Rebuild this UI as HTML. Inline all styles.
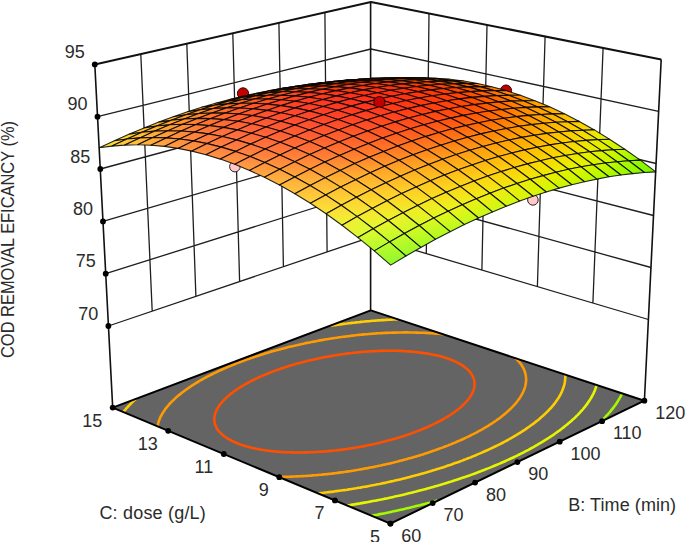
<!DOCTYPE html><html><head><meta charset="utf-8"><style>html,body{margin:0;padding:0;background:#fff;overflow:hidden}svg{display:block}</style></head><body><svg width="685" height="542" viewBox="0 0 685 542"><style>.e{fill:none;stroke:#000;stroke-opacity:.85;stroke-width:1.1;stroke-linejoin:round}</style><defs><linearGradient id="g1" gradientUnits="userSpaceOnUse" x1="371" y1="80.3" x2="371.1" y2="82.6"><stop offset="0" stop-color="#fad500"/><stop offset="1" stop-color="#e6f500"/></linearGradient><linearGradient id="g2" gradientUnits="userSpaceOnUse" x1="383.9" y1="78.8" x2="384" y2="80.5"><stop offset="0" stop-color="#ffc200"/><stop offset="1" stop-color="#f4e200"/></linearGradient><linearGradient id="g3" gradientUnits="userSpaceOnUse" x1="358.8" y1="80.5" x2="359" y2="82.5"><stop offset="0" stop-color="#ffc800"/><stop offset="1" stop-color="#efe900"/></linearGradient><linearGradient id="g4" gradientUnits="userSpaceOnUse" x1="397" y1="77.8" x2="397" y2="78.9"><stop offset="0" stop-color="#ffaf00"/><stop offset="1" stop-color="#fed000"/></linearGradient><linearGradient id="g5" gradientUnits="userSpaceOnUse" x1="371.8" y1="78.9" x2="371.9" y2="80.3"><stop offset="0" stop-color="#ffb300"/><stop offset="1" stop-color="#fcd500"/></linearGradient><linearGradient id="g6" gradientUnits="userSpaceOnUse" x1="346.5" y1="80.9" x2="346.7" y2="82.6"><stop offset="0" stop-color="#ffbc00"/><stop offset="1" stop-color="#f7dd00"/></linearGradient><linearGradient id="g7" gradientUnits="userSpaceOnUse" x1="410.2" y1="77.6" x2="410.2" y2="78"><stop offset="0" stop-color="#ffa200"/><stop offset="1" stop-color="#ffbe00"/></linearGradient><linearGradient id="g8" gradientUnits="userSpaceOnUse" x1="384.9" y1="78" x2="384.9" y2="78.7"><stop offset="0" stop-color="#ffa100"/><stop offset="1" stop-color="#ffc100"/></linearGradient><linearGradient id="g9" gradientUnits="userSpaceOnUse" x1="334.1" y1="81.7" x2="334.2" y2="83.1"><stop offset="0" stop-color="#ffb000"/><stop offset="1" stop-color="#fdd200"/></linearGradient><linearGradient id="g10" gradientUnits="userSpaceOnUse" x1="359.5" y1="79.4" x2="359.6" y2="80.4"><stop offset="0" stop-color="#ffa600"/><stop offset="1" stop-color="#ffc800"/></linearGradient><linearGradient id="g11" gradientUnits="userSpaceOnUse" x1="423.6" y1="78" x2="423.6" y2="77.8"><stop offset="0" stop-color="#ff9200"/><stop offset="1" stop-color="#ffa700"/></linearGradient><linearGradient id="g12" gradientUnits="userSpaceOnUse" x1="398.1" y1="77.7" x2="398.1" y2="77.8"><stop offset="0" stop-color="#ff9c00"/><stop offset="1" stop-color="#ffa300"/></linearGradient><linearGradient id="g13" gradientUnits="userSpaceOnUse" x1="321.5" y1="82.9" x2="321.6" y2="83.9"><stop offset="0" stop-color="#ffa600"/><stop offset="1" stop-color="#ffc800"/></linearGradient><linearGradient id="g14" gradientUnits="userSpaceOnUse" x1="372.6" y1="78.5" x2="372.6" y2="78.8"><stop offset="0" stop-color="#ff9400"/><stop offset="1" stop-color="#ffb200"/></linearGradient><linearGradient id="g15" gradientUnits="userSpaceOnUse" x1="347.1" y1="80.2" x2="347.1" y2="80.9"><stop offset="0" stop-color="#ff9a00"/><stop offset="1" stop-color="#ffbb00"/></linearGradient><linearGradient id="g16" gradientUnits="userSpaceOnUse" x1="437.2" y1="79" x2="437.2" y2="78.2"><stop offset="0" stop-color="#ff8000"/><stop offset="1" stop-color="#ffa100"/></linearGradient><linearGradient id="g17" gradientUnits="userSpaceOnUse" x1="411.5" y1="78.2" x2="411.6" y2="77.6"><stop offset="0" stop-color="#ff7800"/><stop offset="1" stop-color="#ff9b00"/></linearGradient><linearGradient id="g18" gradientUnits="userSpaceOnUse" x1="385.9" y1="78.2" x2="385.9" y2="78"><stop offset="0" stop-color="#ff7900"/><stop offset="1" stop-color="#ff9700"/></linearGradient><linearGradient id="g19" gradientUnits="userSpaceOnUse" x1="308.8" y1="84.3" x2="308.8" y2="85"><stop offset="0" stop-color="#ff9e00"/><stop offset="1" stop-color="#ffbd00"/></linearGradient><linearGradient id="g20" gradientUnits="userSpaceOnUse" x1="360.2" y1="79.2" x2="360.2" y2="79.4"><stop offset="0" stop-color="#ff8d00"/><stop offset="1" stop-color="#ff9800"/></linearGradient><linearGradient id="g21" gradientUnits="userSpaceOnUse" x1="334.5" y1="81.3" x2="334.5" y2="81.7"><stop offset="0" stop-color="#ff9000"/><stop offset="1" stop-color="#ffaf00"/></linearGradient><linearGradient id="g22" gradientUnits="userSpaceOnUse" x1="450.8" y1="80.8" x2="451" y2="79.3"><stop offset="0" stop-color="#ff7600"/><stop offset="1" stop-color="#ff9700"/></linearGradient><linearGradient id="g23" gradientUnits="userSpaceOnUse" x1="425.1" y1="79.2" x2="425.2" y2="78"><stop offset="0" stop-color="#ff6900"/><stop offset="1" stop-color="#ff8c00"/></linearGradient><linearGradient id="g24" gradientUnits="userSpaceOnUse" x1="399.3" y1="78.7" x2="399.3" y2="77.7"><stop offset="0" stop-color="#ff6400"/><stop offset="1" stop-color="#ff8800"/></linearGradient><linearGradient id="g25" gradientUnits="userSpaceOnUse" x1="295.9" y1="86.2" x2="295.9" y2="86.5"><stop offset="0" stop-color="#ff9a03"/><stop offset="1" stop-color="#ffb400"/></linearGradient><linearGradient id="g26" gradientUnits="userSpaceOnUse" x1="373.5" y1="79.1" x2="373.4" y2="78.4"><stop offset="0" stop-color="#ff6500"/><stop offset="1" stop-color="#ff8a00"/></linearGradient><linearGradient id="g27" gradientUnits="userSpaceOnUse" x1="322.4" y1="85.1" x2="321" y2="80.6"><stop offset="0" stop-color="#ff860d"/><stop offset="1" stop-color="#ff9e00"/></linearGradient><linearGradient id="g28" gradientUnits="userSpaceOnUse" x1="347.6" y1="80.5" x2="347.6" y2="80.1"><stop offset="0" stop-color="#ff6f00"/><stop offset="1" stop-color="#ff9000"/></linearGradient><linearGradient id="g29" gradientUnits="userSpaceOnUse" x1="464.6" y1="83.2" x2="464.9" y2="81.2"><stop offset="0" stop-color="#ff7200"/><stop offset="1" stop-color="#ff8e00"/></linearGradient><linearGradient id="g30" gradientUnits="userSpaceOnUse" x1="438.8" y1="81" x2="438.9" y2="79.2"><stop offset="0" stop-color="#ff6100"/><stop offset="1" stop-color="#ff7f00"/></linearGradient><linearGradient id="g31" gradientUnits="userSpaceOnUse" x1="412.9" y1="79.8" x2="412.9" y2="78.2"><stop offset="0" stop-color="#ff5600"/><stop offset="1" stop-color="#ff7700"/></linearGradient><linearGradient id="g32" gradientUnits="userSpaceOnUse" x1="282.9" y1="88.9" x2="282.7" y2="87.9"><stop offset="0" stop-color="#ff9307"/><stop offset="1" stop-color="#ffaa05"/></linearGradient><linearGradient id="g33" gradientUnits="userSpaceOnUse" x1="386.9" y1="79.5" x2="386.9" y2="78.2"><stop offset="0" stop-color="#ff5300"/><stop offset="1" stop-color="#ff7500"/></linearGradient><linearGradient id="g34" gradientUnits="userSpaceOnUse" x1="308.8" y1="84.7" x2="308.8" y2="84.3"><stop offset="0" stop-color="#ff7707"/><stop offset="1" stop-color="#ff9601"/></linearGradient><linearGradient id="g35" gradientUnits="userSpaceOnUse" x1="360.9" y1="80.3" x2="360.8" y2="79.2"><stop offset="0" stop-color="#ff5601"/><stop offset="1" stop-color="#ff7a00"/></linearGradient><linearGradient id="g36" gradientUnits="userSpaceOnUse" x1="334.9" y1="82" x2="334.8" y2="81.3"><stop offset="0" stop-color="#ff6304"/><stop offset="1" stop-color="#ff8600"/></linearGradient><linearGradient id="g37" gradientUnits="userSpaceOnUse" x1="478.5" y1="86.3" x2="479.1" y2="83.8"><stop offset="0" stop-color="#ff7200"/><stop offset="1" stop-color="#ff8b00"/></linearGradient><linearGradient id="g38" gradientUnits="userSpaceOnUse" x1="452.6" y1="83.5" x2="452.9" y2="81.1"><stop offset="0" stop-color="#ff5d00"/><stop offset="1" stop-color="#ff7600"/></linearGradient><linearGradient id="g39" gradientUnits="userSpaceOnUse" x1="426.5" y1="81.6" x2="426.7" y2="79.4"><stop offset="0" stop-color="#ff4e00"/><stop offset="1" stop-color="#ff6900"/></linearGradient><linearGradient id="g40" gradientUnits="userSpaceOnUse" x1="400.5" y1="80.7" x2="400.5" y2="78.7"><stop offset="0" stop-color="#ff4700"/><stop offset="1" stop-color="#ff6300"/></linearGradient><linearGradient id="g41" gradientUnits="userSpaceOnUse" x1="269.6" y1="91" x2="269.5" y2="90.6"><stop offset="0" stop-color="#ff8c0d"/><stop offset="1" stop-color="#ffa708"/></linearGradient><linearGradient id="g42" gradientUnits="userSpaceOnUse" x1="374.3" y1="80.8" x2="374.3" y2="79"><stop offset="0" stop-color="#ff4802"/><stop offset="1" stop-color="#ff6300"/></linearGradient><linearGradient id="g43" gradientUnits="userSpaceOnUse" x1="295.8" y1="86.9" x2="295.7" y2="86.2"><stop offset="0" stop-color="#ff700b"/><stop offset="1" stop-color="#ff9105"/></linearGradient><linearGradient id="g44" gradientUnits="userSpaceOnUse" x1="348.2" y1="81.8" x2="348" y2="80.4"><stop offset="0" stop-color="#ff4f06"/><stop offset="1" stop-color="#ff6c00"/></linearGradient><linearGradient id="g45" gradientUnits="userSpaceOnUse" x1="322" y1="83.9" x2="321.8" y2="82.8"><stop offset="0" stop-color="#ff5c09"/><stop offset="1" stop-color="#ff7c03"/></linearGradient><linearGradient id="g46" gradientUnits="userSpaceOnUse" x1="492.2" y1="90.8" x2="493.7" y2="86.4"><stop offset="0" stop-color="#ff7300"/><stop offset="1" stop-color="#ff9000"/></linearGradient><linearGradient id="g47" gradientUnits="userSpaceOnUse" x1="466.4" y1="86.6" x2="467.2" y2="83.6"><stop offset="0" stop-color="#ff5d00"/><stop offset="1" stop-color="#ff7300"/></linearGradient><linearGradient id="g48" gradientUnits="userSpaceOnUse" x1="440.3" y1="84.1" x2="440.8" y2="81.3"><stop offset="0" stop-color="#ff4b00"/><stop offset="1" stop-color="#ff6000"/></linearGradient><linearGradient id="g49" gradientUnits="userSpaceOnUse" x1="414.2" y1="82.5" x2="414.3" y2="79.9"><stop offset="0" stop-color="#ff4100"/><stop offset="1" stop-color="#ff5600"/></linearGradient><linearGradient id="g50" gradientUnits="userSpaceOnUse" x1="256.2" y1="93.9" x2="256.1" y2="93.2"><stop offset="0" stop-color="#ff8912"/><stop offset="1" stop-color="#ffa80b"/></linearGradient><linearGradient id="g51" gradientUnits="userSpaceOnUse" x1="387.9" y1="81.9" x2="387.9" y2="79.5"><stop offset="0" stop-color="#ff4003"/><stop offset="1" stop-color="#ff5200"/></linearGradient><linearGradient id="g52" gradientUnits="userSpaceOnUse" x1="282.6" y1="89.5" x2="282.4" y2="88.5"><stop offset="0" stop-color="#ff6d10"/><stop offset="1" stop-color="#ff8d09"/></linearGradient><linearGradient id="g53" gradientUnits="userSpaceOnUse" x1="361.6" y1="82.3" x2="361.5" y2="80.2"><stop offset="0" stop-color="#ff4307"/><stop offset="1" stop-color="#ff5601"/></linearGradient><linearGradient id="g54" gradientUnits="userSpaceOnUse" x1="308.9" y1="86.1" x2="308.7" y2="84.7"><stop offset="0" stop-color="#ff580d"/><stop offset="1" stop-color="#ff7507"/></linearGradient><linearGradient id="g55" gradientUnits="userSpaceOnUse" x1="335.3" y1="83.7" x2="335.1" y2="82"><stop offset="0" stop-color="#ff4b0b"/><stop offset="1" stop-color="#ff6204"/></linearGradient><linearGradient id="g56" gradientUnits="userSpaceOnUse" x1="505.6" y1="96.3" x2="509" y2="89.6"><stop offset="0" stop-color="#ff7800"/><stop offset="1" stop-color="#ff9a00"/></linearGradient><linearGradient id="g57" gradientUnits="userSpaceOnUse" x1="480.1" y1="91.3" x2="481.9" y2="86.2"><stop offset="0" stop-color="#ff5d00"/><stop offset="1" stop-color="#ff7800"/></linearGradient><linearGradient id="g58" gradientUnits="userSpaceOnUse" x1="454.2" y1="87.3" x2="455" y2="83.8"><stop offset="0" stop-color="#ff4b00"/><stop offset="1" stop-color="#ff5d00"/></linearGradient><linearGradient id="g59" gradientUnits="userSpaceOnUse" x1="428" y1="85" x2="428.4" y2="81.8"><stop offset="0" stop-color="#ff3f00"/><stop offset="1" stop-color="#ff4e00"/></linearGradient><linearGradient id="g60" gradientUnits="userSpaceOnUse" x1="242.7" y1="97.3" x2="242.5" y2="96.2"><stop offset="0" stop-color="#ff8916"/><stop offset="1" stop-color="#ffa90f"/></linearGradient><linearGradient id="g61" gradientUnits="userSpaceOnUse" x1="401.6" y1="83.8" x2="401.7" y2="80.7"><stop offset="0" stop-color="#ff3a04"/><stop offset="1" stop-color="#ff4800"/></linearGradient><linearGradient id="g62" gradientUnits="userSpaceOnUse" x1="269.2" y1="92.5" x2="268.9" y2="91.1"><stop offset="0" stop-color="#ff6d14"/><stop offset="1" stop-color="#ff8a0e"/></linearGradient><linearGradient id="g63" gradientUnits="userSpaceOnUse" x1="375.2" y1="83.6" x2="375.1" y2="80.7"><stop offset="0" stop-color="#ff3b08"/><stop offset="1" stop-color="#ff4902"/></linearGradient><linearGradient id="g64" gradientUnits="userSpaceOnUse" x1="295.7" y1="88.7" x2="295.4" y2="87"><stop offset="0" stop-color="#ff5712"/><stop offset="1" stop-color="#ff6f0c"/></linearGradient><linearGradient id="g65" gradientUnits="userSpaceOnUse" x1="348.8" y1="84.3" x2="348.5" y2="81.8"><stop offset="0" stop-color="#ff400c"/><stop offset="1" stop-color="#ff4f06"/></linearGradient><linearGradient id="g66" gradientUnits="userSpaceOnUse" x1="322.3" y1="86" x2="321.9" y2="83.9"><stop offset="0" stop-color="#ff490f"/><stop offset="1" stop-color="#ff5b09"/></linearGradient><linearGradient id="g67" gradientUnits="userSpaceOnUse" x1="518.6" y1="102.4" x2="524.9" y2="93.5"><stop offset="0" stop-color="#ff8300"/><stop offset="1" stop-color="#ffa500"/></linearGradient><linearGradient id="g68" gradientUnits="userSpaceOnUse" x1="493.2" y1="97" x2="497.5" y2="89.1"><stop offset="0" stop-color="#ff6300"/><stop offset="1" stop-color="#ff8200"/></linearGradient><linearGradient id="g69" gradientUnits="userSpaceOnUse" x1="467.8" y1="92.1" x2="469.9" y2="86.3"><stop offset="0" stop-color="#ff4b00"/><stop offset="1" stop-color="#ff6200"/></linearGradient><linearGradient id="g70" gradientUnits="userSpaceOnUse" x1="441.8" y1="88.3" x2="442.8" y2="84.4"><stop offset="0" stop-color="#ff3f00"/><stop offset="1" stop-color="#ff4c00"/></linearGradient><linearGradient id="g71" gradientUnits="userSpaceOnUse" x1="415.4" y1="86.4" x2="415.8" y2="82.7"><stop offset="0" stop-color="#ff3805"/><stop offset="1" stop-color="#ff4200"/></linearGradient><linearGradient id="g72" gradientUnits="userSpaceOnUse" x1="229.1" y1="101.1" x2="228.6" y2="99.5"><stop offset="0" stop-color="#ff8a1b"/><stop offset="1" stop-color="#ffac13"/></linearGradient><linearGradient id="g73" gradientUnits="userSpaceOnUse" x1="389" y1="85.5" x2="389" y2="81.9"><stop offset="0" stop-color="#ff3609"/><stop offset="1" stop-color="#ff4003"/></linearGradient><linearGradient id="g74" gradientUnits="userSpaceOnUse" x1="255.7" y1="96" x2="255.2" y2="94"><stop offset="0" stop-color="#ff6d19"/><stop offset="1" stop-color="#ff8c12"/></linearGradient><linearGradient id="g75" gradientUnits="userSpaceOnUse" x1="362.4" y1="85.5" x2="362.1" y2="82.3"><stop offset="0" stop-color="#ff380d"/><stop offset="1" stop-color="#ff4407"/></linearGradient><linearGradient id="g76" gradientUnits="userSpaceOnUse" x1="282.4" y1="91.8" x2="281.9" y2="89.5"><stop offset="0" stop-color="#ff5717"/><stop offset="1" stop-color="#ff6e10"/></linearGradient><linearGradient id="g77" gradientUnits="userSpaceOnUse" x1="335.8" y1="86.6" x2="335.3" y2="83.7"><stop offset="0" stop-color="#ff3f11"/><stop offset="1" stop-color="#ff4c0b"/></linearGradient><linearGradient id="g78" gradientUnits="userSpaceOnUse" x1="309.1" y1="88.7" x2="308.6" y2="86.1"><stop offset="0" stop-color="#ff4914"/><stop offset="1" stop-color="#ff580d"/></linearGradient><linearGradient id="g79" gradientUnits="userSpaceOnUse" x1="529.5" y1="109" x2="543.3" y2="98.5"><stop offset="0" stop-color="#ff9200"/><stop offset="1" stop-color="#ffb200"/></linearGradient><linearGradient id="g80" gradientUnits="userSpaceOnUse" x1="505" y1="103.4" x2="514.7" y2="92.9"><stop offset="0" stop-color="#ff6d00"/><stop offset="1" stop-color="#ff9100"/></linearGradient><linearGradient id="g81" gradientUnits="userSpaceOnUse" x1="480.2" y1="98.3" x2="486.2" y2="89"><stop offset="0" stop-color="#ff5000"/><stop offset="1" stop-color="#ff6d00"/></linearGradient><linearGradient id="g82" gradientUnits="userSpaceOnUse" x1="455" y1="93.6" x2="458" y2="86.5"><stop offset="0" stop-color="#ff4000"/><stop offset="1" stop-color="#ff5000"/></linearGradient><linearGradient id="g83" gradientUnits="userSpaceOnUse" x1="429.1" y1="90" x2="430.4" y2="85.1"><stop offset="0" stop-color="#ff3805"/><stop offset="1" stop-color="#ff4000"/></linearGradient><linearGradient id="g84" gradientUnits="userSpaceOnUse" x1="215.4" y1="105.4" x2="214.6" y2="103.1"><stop offset="0" stop-color="#ff8e20"/><stop offset="1" stop-color="#ffb017"/></linearGradient><linearGradient id="g85" gradientUnits="userSpaceOnUse" x1="540.7" y1="114.3" x2="561.6" y2="106.4"><stop offset="0" stop-color="#ffa100"/><stop offset="1" stop-color="#ffc100"/></linearGradient><linearGradient id="g86" gradientUnits="userSpaceOnUse" x1="402.8" y1="88.1" x2="403.1" y2="83.9"><stop offset="0" stop-color="#ff330a"/><stop offset="1" stop-color="#ff3b04"/></linearGradient><linearGradient id="g87" gradientUnits="userSpaceOnUse" x1="242.2" y1="99.9" x2="241.3" y2="97.2"><stop offset="0" stop-color="#ff6f1e"/><stop offset="1" stop-color="#ff8f15"/></linearGradient><linearGradient id="g88" gradientUnits="userSpaceOnUse" x1="376.2" y1="87.5" x2="376" y2="83.5"><stop offset="0" stop-color="#ff330e"/><stop offset="1" stop-color="#ff3b08"/></linearGradient><linearGradient id="g89" gradientUnits="userSpaceOnUse" x1="269" y1="95.5" x2="268.1" y2="92.3"><stop offset="0" stop-color="#ff571b"/><stop offset="1" stop-color="#ff7013"/></linearGradient><linearGradient id="g90" gradientUnits="userSpaceOnUse" x1="349.5" y1="87.9" x2="348.9" y2="84.3"><stop offset="0" stop-color="#ff3712"/><stop offset="1" stop-color="#ff400c"/></linearGradient><linearGradient id="g91" gradientUnits="userSpaceOnUse" x1="295.9" y1="92.1" x2="294.9" y2="88.4"><stop offset="0" stop-color="#ff4919"/><stop offset="1" stop-color="#ff5a11"/></linearGradient><linearGradient id="g92" gradientUnits="userSpaceOnUse" x1="322.7" y1="89.5" x2="321.9" y2="85.8"><stop offset="0" stop-color="#ff3e15"/><stop offset="1" stop-color="#ff4b0f"/></linearGradient><linearGradient id="g93" gradientUnits="userSpaceOnUse" x1="515.7" y1="109.1" x2="533.3" y2="99"><stop offset="0" stop-color="#ff7c00"/><stop offset="1" stop-color="#ffa200"/></linearGradient><linearGradient id="g94" gradientUnits="userSpaceOnUse" x1="491" y1="104.4" x2="504.5" y2="93.2"><stop offset="0" stop-color="#ff5a00"/><stop offset="1" stop-color="#ff7c00"/></linearGradient><linearGradient id="g95" gradientUnits="userSpaceOnUse" x1="466.2" y1="100.1" x2="475.7" y2="88.9"><stop offset="0" stop-color="#ff4300"/><stop offset="1" stop-color="#ff5900"/></linearGradient><linearGradient id="g96" gradientUnits="userSpaceOnUse" x1="439.2" y1="97.1" x2="448.8" y2="85.5"><stop offset="0" stop-color="#ff3809"/><stop offset="1" stop-color="#ff4400"/></linearGradient><linearGradient id="g97" gradientUnits="userSpaceOnUse" x1="552.7" y1="118" x2="579.2" y2="117.4"><stop offset="0" stop-color="#ffb100"/><stop offset="1" stop-color="#fcd300"/></linearGradient><linearGradient id="g98" gradientUnits="userSpaceOnUse" x1="201.5" y1="110.1" x2="200.4" y2="107"><stop offset="0" stop-color="#ff9424"/><stop offset="1" stop-color="#ffb51a"/></linearGradient><linearGradient id="g99" gradientUnits="userSpaceOnUse" x1="416.1" y1="92.1" x2="418" y2="85.9"><stop offset="0" stop-color="#ff330b"/><stop offset="1" stop-color="#ff3904"/></linearGradient><linearGradient id="g100" gradientUnits="userSpaceOnUse" x1="228.5" y1="104.3" x2="227.2" y2="100.7"><stop offset="0" stop-color="#ff7222"/><stop offset="1" stop-color="#ff9519"/></linearGradient><linearGradient id="g101" gradientUnits="userSpaceOnUse" x1="390" y1="90.2" x2="390.1" y2="85.5"><stop offset="0" stop-color="#ff300e"/><stop offset="1" stop-color="#ff3609"/></linearGradient><linearGradient id="g102" gradientUnits="userSpaceOnUse" x1="526.9" y1="112.9" x2="551.6" y2="108.4"><stop offset="0" stop-color="#ff9000"/><stop offset="1" stop-color="#ffb200"/></linearGradient><linearGradient id="g103" gradientUnits="userSpaceOnUse" x1="255.5" y1="99.6" x2="254.1" y2="95.4"><stop offset="0" stop-color="#ff5a20"/><stop offset="1" stop-color="#ff7417"/></linearGradient><linearGradient id="g104" gradientUnits="userSpaceOnUse" x1="363.3" y1="89.9" x2="362.7" y2="85.5"><stop offset="0" stop-color="#ff3212"/><stop offset="1" stop-color="#ff380d"/></linearGradient><linearGradient id="g105" gradientUnits="userSpaceOnUse" x1="282.7" y1="96.1" x2="280.9" y2="90.9"><stop offset="0" stop-color="#ff4a1e"/><stop offset="1" stop-color="#ff5c14"/></linearGradient><linearGradient id="g106" gradientUnits="userSpaceOnUse" x1="336.6" y1="91.2" x2="335.3" y2="86"><stop offset="0" stop-color="#ff3617"/><stop offset="1" stop-color="#ff4010"/></linearGradient><linearGradient id="g107" gradientUnits="userSpaceOnUse" x1="309.7" y1="93.2" x2="308" y2="87.8"><stop offset="0" stop-color="#ff3e1b"/><stop offset="1" stop-color="#ff4c12"/></linearGradient><linearGradient id="g108" gradientUnits="userSpaceOnUse" x1="500.8" y1="108.1" x2="524" y2="101.2"><stop offset="0" stop-color="#ff6900"/><stop offset="1" stop-color="#ff8f00"/></linearGradient><linearGradient id="g109" gradientUnits="userSpaceOnUse" x1="476" y1="104.8" x2="495" y2="94.6"><stop offset="0" stop-color="#ff4b00"/><stop offset="1" stop-color="#ff6800"/></linearGradient><linearGradient id="g110" gradientUnits="userSpaceOnUse" x1="567.4" y1="124.6" x2="594.6" y2="127"><stop offset="0" stop-color="#ffc500"/><stop offset="1" stop-color="#f2e500"/></linearGradient><linearGradient id="g111" gradientUnits="userSpaceOnUse" x1="445" y1="96.2" x2="471.9" y2="95.3"><stop offset="0" stop-color="#ff3c06"/><stop offset="1" stop-color="#ff4b00"/></linearGradient><linearGradient id="g112" gradientUnits="userSpaceOnUse" x1="419.4" y1="96.7" x2="443.3" y2="89"><stop offset="0" stop-color="#ff330d"/><stop offset="1" stop-color="#ff3d01"/></linearGradient><linearGradient id="g113" gradientUnits="userSpaceOnUse" x1="187.6" y1="115.4" x2="185.8" y2="111.2"><stop offset="0" stop-color="#ff9b29"/><stop offset="1" stop-color="#ffbc1d"/></linearGradient><linearGradient id="g114" gradientUnits="userSpaceOnUse" x1="540.5" y1="115.9" x2="567.8" y2="120.3"><stop offset="0" stop-color="#ffa300"/><stop offset="1" stop-color="#ffc400"/></linearGradient><linearGradient id="g115" gradientUnits="userSpaceOnUse" x1="402" y1="95.6" x2="406.4" y2="86.3"><stop offset="0" stop-color="#ff3011"/><stop offset="1" stop-color="#ff3507"/></linearGradient><linearGradient id="g116" gradientUnits="userSpaceOnUse" x1="214.7" y1="109.2" x2="212.8" y2="104.6"><stop offset="0" stop-color="#ff7827"/><stop offset="1" stop-color="#ff9c1c"/></linearGradient><linearGradient id="g117" gradientUnits="userSpaceOnUse" x1="377.4" y1="92.7" x2="376.6" y2="87.5"><stop offset="0" stop-color="#ff2f13"/><stop offset="1" stop-color="#ff330e"/></linearGradient><linearGradient id="g118" gradientUnits="userSpaceOnUse" x1="242" y1="104.2" x2="239.8" y2="98.8"><stop offset="0" stop-color="#ff5e25"/><stop offset="1" stop-color="#ff7a1b"/></linearGradient><linearGradient id="g119" gradientUnits="userSpaceOnUse" x1="351.1" y1="94.2" x2="348.4" y2="86.4"><stop offset="0" stop-color="#ff3018"/><stop offset="1" stop-color="#ff3810"/></linearGradient><linearGradient id="g120" gradientUnits="userSpaceOnUse" x1="269.6" y1="100.6" x2="266.5" y2="93.6"><stop offset="0" stop-color="#ff4d23"/><stop offset="1" stop-color="#ff6118"/></linearGradient><linearGradient id="g121" gradientUnits="userSpaceOnUse" x1="513.6" y1="109.3" x2="540.9" y2="113.4"><stop offset="0" stop-color="#ff7d00"/><stop offset="1" stop-color="#ffa400"/></linearGradient><linearGradient id="g122" gradientUnits="userSpaceOnUse" x1="324.3" y1="95.6" x2="320.8" y2="87.4"><stop offset="0" stop-color="#ff361d"/><stop offset="1" stop-color="#ff4213"/></linearGradient><linearGradient id="g123" gradientUnits="userSpaceOnUse" x1="297" y1="97.7" x2="293.6" y2="89.9"><stop offset="0" stop-color="#ff3f20"/><stop offset="1" stop-color="#ff4f15"/></linearGradient><linearGradient id="g124" gradientUnits="userSpaceOnUse" x1="486.7" y1="105.8" x2="513.7" y2="105.5"><stop offset="0" stop-color="#ff5800"/><stop offset="1" stop-color="#ff7c00"/></linearGradient><linearGradient id="g125" gradientUnits="userSpaceOnUse" x1="585.3" y1="126.7" x2="607" y2="142.7"><stop offset="0" stop-color="#f8da00"/><stop offset="1" stop-color="#e2f600"/></linearGradient><linearGradient id="g126" gradientUnits="userSpaceOnUse" x1="460.7" y1="95.8" x2="485.3" y2="106.2"><stop offset="0" stop-color="#ff4302"/><stop offset="1" stop-color="#ff5702"/></linearGradient><linearGradient id="g127" gradientUnits="userSpaceOnUse" x1="557.7" y1="119.2" x2="580.8" y2="133.4"><stop offset="0" stop-color="#ffb800"/><stop offset="1" stop-color="#fbd800"/></linearGradient><linearGradient id="g128" gradientUnits="userSpaceOnUse" x1="437.8" y1="89.8" x2="453.8" y2="104.9"><stop offset="0" stop-color="#ff3904"/><stop offset="1" stop-color="#ff430a"/></linearGradient><linearGradient id="g129" gradientUnits="userSpaceOnUse" x1="173.7" y1="121.1" x2="170.9" y2="115.8"><stop offset="0" stop-color="#ffa32d"/><stop offset="1" stop-color="#ffc320"/></linearGradient><linearGradient id="g130" gradientUnits="userSpaceOnUse" x1="412.5" y1="87.4" x2="424.5" y2="102.1"><stop offset="0" stop-color="#ff3308"/><stop offset="1" stop-color="#ff3710"/></linearGradient><linearGradient id="g131" gradientUnits="userSpaceOnUse" x1="200.9" y1="114.5" x2="198.2" y2="108.8"><stop offset="0" stop-color="#ff802b"/><stop offset="1" stop-color="#ffa520"/></linearGradient><linearGradient id="g132" gradientUnits="userSpaceOnUse" x1="529" y1="114.3" x2="555.4" y2="123.4"><stop offset="0" stop-color="#ff9500"/><stop offset="1" stop-color="#ffb700"/></linearGradient><linearGradient id="g133" gradientUnits="userSpaceOnUse" x1="389.6" y1="88.6" x2="392.7" y2="97.8"><stop offset="0" stop-color="#ff310d"/><stop offset="1" stop-color="#ff3014"/></linearGradient><linearGradient id="g134" gradientUnits="userSpaceOnUse" x1="228.4" y1="109.1" x2="225.2" y2="102.6"><stop offset="0" stop-color="#ff632a"/><stop offset="1" stop-color="#ff821e"/></linearGradient><linearGradient id="g135" gradientUnits="userSpaceOnUse" x1="373.5" y1="98.9" x2="354" y2="86.5"><stop offset="0" stop-color="#ff2e19"/><stop offset="1" stop-color="#ff3311"/></linearGradient><linearGradient id="g136" gradientUnits="userSpaceOnUse" x1="256.8" y1="105.6" x2="251.5" y2="96.7"><stop offset="0" stop-color="#ff5128"/><stop offset="1" stop-color="#ff661b"/></linearGradient><linearGradient id="g137" gradientUnits="userSpaceOnUse" x1="342.4" y1="99.8" x2="330.3" y2="86.7"><stop offset="0" stop-color="#ff311f"/><stop offset="1" stop-color="#ff3a13"/></linearGradient><linearGradient id="g138" gradientUnits="userSpaceOnUse" x1="615.1" y1="153.3" x2="607.7" y2="135.5"><stop offset="0" stop-color="#c6f600"/><stop offset="1" stop-color="#e5f300"/></linearGradient><linearGradient id="g139" gradientUnits="userSpaceOnUse" x1="285" y1="102.7" x2="278.1" y2="92.3"><stop offset="0" stop-color="#ff4226"/><stop offset="1" stop-color="#ff5419"/></linearGradient><linearGradient id="g140" gradientUnits="userSpaceOnUse" x1="313.4" y1="100.7" x2="304.5" y2="88.9"><stop offset="0" stop-color="#ff3723"/><stop offset="1" stop-color="#ff4516"/></linearGradient><linearGradient id="g141" gradientUnits="userSpaceOnUse" x1="502.1" y1="107.6" x2="528" y2="117.2"><stop offset="0" stop-color="#ff6c00"/><stop offset="1" stop-color="#ff9500"/></linearGradient><linearGradient id="g142" gradientUnits="userSpaceOnUse" x1="477.3" y1="99.9" x2="498.3" y2="114.1"><stop offset="0" stop-color="#ff4d01"/><stop offset="1" stop-color="#ff6b02"/></linearGradient><linearGradient id="g143" gradientUnits="userSpaceOnUse" x1="572.6" y1="128.1" x2="596.3" y2="142.4"><stop offset="0" stop-color="#ffcd00"/><stop offset="1" stop-color="#ebec00"/></linearGradient><linearGradient id="g144" gradientUnits="userSpaceOnUse" x1="455.6" y1="95.1" x2="465.2" y2="110.2"><stop offset="0" stop-color="#ff4003"/><stop offset="1" stop-color="#ff4d09"/></linearGradient><linearGradient id="g145" gradientUnits="userSpaceOnUse" x1="545.9" y1="119.8" x2="568.7" y2="134.4"><stop offset="0" stop-color="#ffaa00"/><stop offset="1" stop-color="#ffcd00"/></linearGradient><linearGradient id="g146" gradientUnits="userSpaceOnUse" x1="430.2" y1="93.1" x2="435.7" y2="105.6"><stop offset="0" stop-color="#ff3608"/><stop offset="1" stop-color="#ff3e0f"/></linearGradient><linearGradient id="g147" gradientUnits="userSpaceOnUse" x1="159.6" y1="127.1" x2="156" y2="121"><stop offset="0" stop-color="#ffac31"/><stop offset="1" stop-color="#ffca24"/></linearGradient><linearGradient id="g148" gradientUnits="userSpaceOnUse" x1="638.5" y1="162.8" x2="615" y2="147.2"><stop offset="0" stop-color="#94fa00"/><stop offset="1" stop-color="#cef700"/></linearGradient><linearGradient id="g149" gradientUnits="userSpaceOnUse" x1="404.7" y1="93.3" x2="406.3" y2="100.8"><stop offset="0" stop-color="#ff310e"/><stop offset="1" stop-color="#ff3413"/></linearGradient><linearGradient id="g150" gradientUnits="userSpaceOnUse" x1="187" y1="120.2" x2="183.3" y2="113.5"><stop offset="0" stop-color="#ff8a30"/><stop offset="1" stop-color="#ffaf23"/></linearGradient><linearGradient id="g151" gradientUnits="userSpaceOnUse" x1="378.2" y1="92.8" x2="377.7" y2="99"><stop offset="0" stop-color="#ff2f13"/><stop offset="1" stop-color="#ff3117"/></linearGradient><linearGradient id="g152" gradientUnits="userSpaceOnUse" x1="215.1" y1="114.8" x2="210.1" y2="106.7"><stop offset="0" stop-color="#ff6a2e"/><stop offset="1" stop-color="#ff8c21"/></linearGradient><linearGradient id="g153" gradientUnits="userSpaceOnUse" x1="519" y1="112.7" x2="541.1" y2="127.2"><stop offset="0" stop-color="#ff8600"/><stop offset="1" stop-color="#ffac00"/></linearGradient><linearGradient id="g154" gradientUnits="userSpaceOnUse" x1="356.2" y1="88.8" x2="344.5" y2="102.6"><stop offset="0" stop-color="#ff3113"/><stop offset="1" stop-color="#ff3320"/></linearGradient><linearGradient id="g155" gradientUnits="userSpaceOnUse" x1="244.6" y1="111" x2="235.6" y2="100.2"><stop offset="0" stop-color="#ff562d"/><stop offset="1" stop-color="#ff6d1e"/></linearGradient><linearGradient id="g156" gradientUnits="userSpaceOnUse" x1="336.6" y1="96.7" x2="309" y2="96.5"><stop offset="0" stop-color="#ff341c"/><stop offset="1" stop-color="#ff3d1e"/></linearGradient><linearGradient id="g157" gradientUnits="userSpaceOnUse" x1="274" y1="107.6" x2="261.2" y2="95.5"><stop offset="0" stop-color="#ff472b"/><stop offset="1" stop-color="#ff5a1c"/></linearGradient><linearGradient id="g158" gradientUnits="userSpaceOnUse" x1="305" y1="104.2" x2="285.3" y2="92.9"><stop offset="0" stop-color="#ff3b26"/><stop offset="1" stop-color="#ff4a1b"/></linearGradient><linearGradient id="g159" gradientUnits="userSpaceOnUse" x1="599.4" y1="139.5" x2="600.1" y2="150.7"><stop offset="0" stop-color="#e8ec00"/><stop offset="1" stop-color="#e0f300"/></linearGradient><linearGradient id="g160" gradientUnits="userSpaceOnUse" x1="492.9" y1="106.1" x2="512.4" y2="121.6"><stop offset="0" stop-color="#ff5f01"/><stop offset="1" stop-color="#ff8401"/></linearGradient><linearGradient id="g161" gradientUnits="userSpaceOnUse" x1="470.2" y1="100.9" x2="480.2" y2="116.6"><stop offset="0" stop-color="#ff4903"/><stop offset="1" stop-color="#ff5d07"/></linearGradient><linearGradient id="g162" gradientUnits="userSpaceOnUse" x1="560" y1="129.8" x2="585" y2="142.6"><stop offset="0" stop-color="#ffc100"/><stop offset="1" stop-color="#f3e200"/></linearGradient><linearGradient id="g163" gradientUnits="userSpaceOnUse" x1="653.2" y1="175.1" x2="631.4" y2="157.5"><stop offset="0" stop-color="#73f500"/><stop offset="1" stop-color="#a5fa00"/></linearGradient><linearGradient id="g164" gradientUnits="userSpaceOnUse" x1="445.4" y1="98.7" x2="449.9" y2="110.8"><stop offset="0" stop-color="#ff3d08"/><stop offset="1" stop-color="#ff480d"/></linearGradient><linearGradient id="g165" gradientUnits="userSpaceOnUse" x1="145.4" y1="133.6" x2="140.7" y2="126.5"><stop offset="0" stop-color="#ffb535"/><stop offset="1" stop-color="#ffd427"/></linearGradient><linearGradient id="g166" gradientUnits="userSpaceOnUse" x1="419.1" y1="97.6" x2="420.9" y2="105.8"><stop offset="0" stop-color="#ff350e"/><stop offset="1" stop-color="#ff3b12"/></linearGradient><linearGradient id="g167" gradientUnits="userSpaceOnUse" x1="535.6" y1="119.9" x2="554.7" y2="136.7"><stop offset="0" stop-color="#ff9f00"/><stop offset="1" stop-color="#ffc000"/></linearGradient><linearGradient id="g168" gradientUnits="userSpaceOnUse" x1="173.2" y1="126.4" x2="168" y2="118.6"><stop offset="0" stop-color="#ff9634"/><stop offset="1" stop-color="#ffb927"/></linearGradient><linearGradient id="g169" gradientUnits="userSpaceOnUse" x1="392.1" y1="96.2" x2="392.5" y2="103.5"><stop offset="0" stop-color="#ff3013"/><stop offset="1" stop-color="#ff3517"/></linearGradient><linearGradient id="g170" gradientUnits="userSpaceOnUse" x1="201.7" y1="120.7" x2="194.6" y2="111.2"><stop offset="0" stop-color="#ff7433"/><stop offset="1" stop-color="#ff9725"/></linearGradient><linearGradient id="g171" gradientUnits="userSpaceOnUse" x1="625.3" y1="164.6" x2="605" y2="146.7"><stop offset="0" stop-color="#a5fa00"/><stop offset="1" stop-color="#e1f500"/></linearGradient><linearGradient id="g172" gradientUnits="userSpaceOnUse" x1="365" y1="95.7" x2="364.1" y2="102.3"><stop offset="0" stop-color="#ff3017"/><stop offset="1" stop-color="#ff331c"/></linearGradient><linearGradient id="g173" gradientUnits="userSpaceOnUse" x1="232.7" y1="116.3" x2="218.9" y2="104.7"><stop offset="0" stop-color="#ff5d31"/><stop offset="1" stop-color="#ff7722"/></linearGradient><linearGradient id="g174" gradientUnits="userSpaceOnUse" x1="339.7" y1="93.3" x2="333.9" y2="104.9"><stop offset="0" stop-color="#ff3319"/><stop offset="1" stop-color="#ff3722"/></linearGradient><linearGradient id="g175" gradientUnits="userSpaceOnUse" x1="509.6" y1="112.9" x2="525.8" y2="130"><stop offset="0" stop-color="#ff7700"/><stop offset="1" stop-color="#ffa000"/></linearGradient><linearGradient id="g176" gradientUnits="userSpaceOnUse" x1="263.9" y1="111.1" x2="243.1" y2="101"><stop offset="0" stop-color="#ff4d2d"/><stop offset="1" stop-color="#ff6122"/></linearGradient><linearGradient id="g177" gradientUnits="userSpaceOnUse" x1="318.8" y1="93.6" x2="299.2" y2="107.2"><stop offset="0" stop-color="#ff391b"/><stop offset="1" stop-color="#ff4028"/></linearGradient><linearGradient id="g178" gradientUnits="userSpaceOnUse" x1="295.1" y1="102.9" x2="267.4" y2="102.5"><stop offset="0" stop-color="#ff4125"/><stop offset="1" stop-color="#ff4f25"/></linearGradient><linearGradient id="g179" gradientUnits="userSpaceOnUse" x1="581.6" y1="136.6" x2="594.1" y2="155.5"><stop offset="0" stop-color="#f7da00"/><stop offset="1" stop-color="#e4f500"/></linearGradient><linearGradient id="g180" gradientUnits="userSpaceOnUse" x1="485.3" y1="107.6" x2="494.9" y2="123.7"><stop offset="0" stop-color="#ff5702"/><stop offset="1" stop-color="#ff7606"/></linearGradient><linearGradient id="g181" gradientUnits="userSpaceOnUse" x1="460" y1="104.4" x2="464.8" y2="117.3"><stop offset="0" stop-color="#ff4607"/><stop offset="1" stop-color="#ff560c"/></linearGradient><linearGradient id="g182" gradientUnits="userSpaceOnUse" x1="553.2" y1="128.3" x2="567.7" y2="146.6"><stop offset="0" stop-color="#ffb700"/><stop offset="1" stop-color="#fbd800"/></linearGradient><linearGradient id="g183" gradientUnits="userSpaceOnUse" x1="131" y1="140.4" x2="125.4" y2="132.7"><stop offset="0" stop-color="#ffbf39"/><stop offset="1" stop-color="#fedd2b"/></linearGradient><linearGradient id="g184" gradientUnits="userSpaceOnUse" x1="433.6" y1="102.6" x2="435.7" y2="111.8"><stop offset="0" stop-color="#ff3b0d"/><stop offset="1" stop-color="#ff4511"/></linearGradient><linearGradient id="g185" gradientUnits="userSpaceOnUse" x1="640.1" y1="176.7" x2="621.4" y2="157.5"><stop offset="0" stop-color="#82f700"/><stop offset="1" stop-color="#b5fa00"/></linearGradient><linearGradient id="g186" gradientUnits="userSpaceOnUse" x1="160.6" y1="133.5" x2="151.1" y2="123.6"><stop offset="0" stop-color="#ffa239"/><stop offset="1" stop-color="#ffc329"/></linearGradient><linearGradient id="g187" gradientUnits="userSpaceOnUse" x1="406.3" y1="100.5" x2="407.3" y2="108.6"><stop offset="0" stop-color="#ff3413"/><stop offset="1" stop-color="#ff3b17"/></linearGradient><linearGradient id="g188" gradientUnits="userSpaceOnUse" x1="524.2" y1="121.2" x2="541.5" y2="138.6"><stop offset="0" stop-color="#ff9400"/><stop offset="1" stop-color="#ffb600"/></linearGradient><linearGradient id="g189" gradientUnits="userSpaceOnUse" x1="188.6" y1="126.9" x2="178.6" y2="116.4"><stop offset="0" stop-color="#ff8037"/><stop offset="1" stop-color="#ffa428"/></linearGradient><linearGradient id="g190" gradientUnits="userSpaceOnUse" x1="379" y1="99.1" x2="378.9" y2="106.8"><stop offset="0" stop-color="#ff3117"/><stop offset="1" stop-color="#ff371c"/></linearGradient><linearGradient id="g191" gradientUnits="userSpaceOnUse" x1="218.5" y1="121.5" x2="204.3" y2="110"><stop offset="0" stop-color="#ff6535"/><stop offset="1" stop-color="#ff8227"/></linearGradient><linearGradient id="g192" gradientUnits="userSpaceOnUse" x1="351.6" y1="98.9" x2="350.4" y2="105.9"><stop offset="0" stop-color="#ff321c"/><stop offset="1" stop-color="#ff3720"/></linearGradient><linearGradient id="g193" gradientUnits="userSpaceOnUse" x1="606.5" y1="165.5" x2="600.3" y2="148.1"><stop offset="0" stop-color="#c0f700"/><stop offset="1" stop-color="#e5f400"/></linearGradient><linearGradient id="g194" gradientUnits="userSpaceOnUse" x1="252.7" y1="112.7" x2="225.8" y2="109.2"><stop offset="0" stop-color="#ff552e"/><stop offset="1" stop-color="#ff6829"/></linearGradient><linearGradient id="g195" gradientUnits="userSpaceOnUse" x1="325.2" y1="97.6" x2="320.9" y2="108.3"><stop offset="0" stop-color="#ff361e"/><stop offset="1" stop-color="#ff3d26"/></linearGradient><linearGradient id="g196" gradientUnits="userSpaceOnUse" x1="279.7" y1="102.1" x2="254.6" y2="112.3"><stop offset="0" stop-color="#ff4825"/><stop offset="1" stop-color="#ff552d"/></linearGradient><linearGradient id="g197" gradientUnits="userSpaceOnUse" x1="301.5" y1="97" x2="288.7" y2="112.1"><stop offset="0" stop-color="#ff3e20"/><stop offset="1" stop-color="#ff472c"/></linearGradient><linearGradient id="g198" gradientUnits="userSpaceOnUse" x1="500.5" y1="115.1" x2="509.9" y2="131.6"><stop offset="0" stop-color="#ff6e01"/><stop offset="1" stop-color="#ff9204"/></linearGradient><linearGradient id="g199" gradientUnits="userSpaceOnUse" x1="474.7" y1="110.9" x2="480.1" y2="124.7"><stop offset="0" stop-color="#ff5306"/><stop offset="1" stop-color="#ff6c0a"/></linearGradient><linearGradient id="g200" gradientUnits="userSpaceOnUse" x1="567.9" y1="138.1" x2="583.8" y2="156.8"><stop offset="0" stop-color="#fecf00"/><stop offset="1" stop-color="#eaee00"/></linearGradient><linearGradient id="g201" gradientUnits="userSpaceOnUse" x1="448.2" y1="108.3" x2="450.8" y2="118.5"><stop offset="0" stop-color="#ff450c"/><stop offset="1" stop-color="#ff5210"/></linearGradient><linearGradient id="g202" gradientUnits="userSpaceOnUse" x1="118" y1="148.2" x2="108.3" y2="138.7"><stop offset="0" stop-color="#ffc83e"/><stop offset="1" stop-color="#f6e82d"/></linearGradient><linearGradient id="g203" gradientUnits="userSpaceOnUse" x1="541.5" y1="130" x2="554.9" y2="148.3"><stop offset="0" stop-color="#ffad00"/><stop offset="1" stop-color="#ffcf00"/></linearGradient><linearGradient id="g204" gradientUnits="userSpaceOnUse" x1="420.8" y1="105.6" x2="422.2" y2="114.5"><stop offset="0" stop-color="#ff3b12"/><stop offset="1" stop-color="#ff4516"/></linearGradient><linearGradient id="g205" gradientUnits="userSpaceOnUse" x1="146.5" y1="140.2" x2="135.4" y2="129.9"><stop offset="0" stop-color="#ffaf3c"/><stop offset="1" stop-color="#ffcc2d"/></linearGradient><linearGradient id="g206" gradientUnits="userSpaceOnUse" x1="627.5" y1="178.1" x2="610.4" y2="158.5"><stop offset="0" stop-color="#8ef900"/><stop offset="1" stop-color="#c6f800"/></linearGradient><linearGradient id="g207" gradientUnits="userSpaceOnUse" x1="393.2" y1="103.4" x2="393.7" y2="112"><stop offset="0" stop-color="#ff3517"/><stop offset="1" stop-color="#ff3d1b"/></linearGradient><linearGradient id="g208" gradientUnits="userSpaceOnUse" x1="175.4" y1="133.2" x2="162.2" y2="122.3"><stop offset="0" stop-color="#ff8d3a"/><stop offset="1" stop-color="#ffb22c"/></linearGradient><linearGradient id="g209" gradientUnits="userSpaceOnUse" x1="515.1" y1="123.2" x2="525.7" y2="140.5"><stop offset="0" stop-color="#ff8b00"/><stop offset="1" stop-color="#ffad02"/></linearGradient><linearGradient id="g210" gradientUnits="userSpaceOnUse" x1="365.6" y1="102.4" x2="365.1" y2="110.5"><stop offset="0" stop-color="#ff331c"/><stop offset="1" stop-color="#ff3b20"/></linearGradient><linearGradient id="g211" gradientUnits="userSpaceOnUse" x1="206.5" y1="126.7" x2="187" y2="116.3"><stop offset="0" stop-color="#ff6f38"/><stop offset="1" stop-color="#ff8f2c"/></linearGradient><linearGradient id="g212" gradientUnits="userSpaceOnUse" x1="337.9" y1="102.6" x2="336.5" y2="110"><stop offset="0" stop-color="#ff3620"/><stop offset="1" stop-color="#ff3c25"/></linearGradient><linearGradient id="g213" gradientUnits="userSpaceOnUse" x1="238.8" y1="114.1" x2="210.7" y2="118.5"><stop offset="0" stop-color="#ff5e2f"/><stop offset="1" stop-color="#ff7131"/></linearGradient><linearGradient id="g214" gradientUnits="userSpaceOnUse" x1="311" y1="102" x2="307.2" y2="112.3"><stop offset="0" stop-color="#ff3b23"/><stop offset="1" stop-color="#ff432a"/></linearGradient><linearGradient id="g215" gradientUnits="userSpaceOnUse" x1="262.9" y1="104.9" x2="242.8" y2="119.5"><stop offset="0" stop-color="#ff5027"/><stop offset="1" stop-color="#ff5d33"/></linearGradient><linearGradient id="g216" gradientUnits="userSpaceOnUse" x1="285.8" y1="101.8" x2="276.1" y2="116.5"><stop offset="0" stop-color="#ff4425"/><stop offset="1" stop-color="#ff4e2f"/></linearGradient><linearGradient id="g217" gradientUnits="userSpaceOnUse" x1="592.3" y1="164.8" x2="590.5" y2="151.7"><stop offset="0" stop-color="#d4f500"/><stop offset="1" stop-color="#e8ee00"/></linearGradient><linearGradient id="g218" gradientUnits="userSpaceOnUse" x1="489.2" y1="118.1" x2="495.8" y2="133.1"><stop offset="0" stop-color="#ff6805"/><stop offset="1" stop-color="#ff8908"/></linearGradient><linearGradient id="g219" gradientUnits="userSpaceOnUse" x1="462.6" y1="114.4" x2="466.3" y2="126.5"><stop offset="0" stop-color="#ff510b"/><stop offset="1" stop-color="#ff660e"/></linearGradient><linearGradient id="g220" gradientUnits="userSpaceOnUse" x1="555.2" y1="139.9" x2="572.1" y2="158.4"><stop offset="0" stop-color="#ffc600"/><stop offset="1" stop-color="#efe700"/></linearGradient><linearGradient id="g221" gradientUnits="userSpaceOnUse" x1="435.5" y1="111.4" x2="437.2" y2="121.3"><stop offset="0" stop-color="#ff4411"/><stop offset="1" stop-color="#ff5114"/></linearGradient><linearGradient id="g222" gradientUnits="userSpaceOnUse" x1="132.8" y1="147.2" x2="118.9" y2="136.8"><stop offset="0" stop-color="#ffb940"/><stop offset="1" stop-color="#ffd730"/></linearGradient><linearGradient id="g223" gradientUnits="userSpaceOnUse" x1="407.7" y1="108.6" x2="408.6" y2="118"><stop offset="0" stop-color="#ff3b16"/><stop offset="1" stop-color="#ff471a"/></linearGradient><linearGradient id="g224" gradientUnits="userSpaceOnUse" x1="530.3" y1="132.2" x2="541.2" y2="150.1"><stop offset="0" stop-color="#ffa501"/><stop offset="1" stop-color="#ffc600"/></linearGradient><linearGradient id="g225" gradientUnits="userSpaceOnUse" x1="162.2" y1="139.6" x2="145.6" y2="129"><stop offset="0" stop-color="#ff9d3e"/><stop offset="1" stop-color="#ffbe30"/></linearGradient><linearGradient id="g226" gradientUnits="userSpaceOnUse" x1="614.7" y1="179.8" x2="599.4" y2="159.9"><stop offset="0" stop-color="#9afa00"/><stop offset="1" stop-color="#d5f600"/></linearGradient><linearGradient id="g227" gradientUnits="userSpaceOnUse" x1="379.9" y1="106.8" x2="379.9" y2="115.8"><stop offset="0" stop-color="#ff371b"/><stop offset="1" stop-color="#ff411f"/></linearGradient><linearGradient id="g228" gradientUnits="userSpaceOnUse" x1="194" y1="131.4" x2="170" y2="123.9"><stop offset="0" stop-color="#ff7d3a"/><stop offset="1" stop-color="#ff9e31"/></linearGradient><linearGradient id="g229" gradientUnits="userSpaceOnUse" x1="352" y1="106.2" x2="351.2" y2="114.7"><stop offset="0" stop-color="#ff3720"/><stop offset="1" stop-color="#ff4024"/></linearGradient><linearGradient id="g230" gradientUnits="userSpaceOnUse" x1="223.7" y1="117.9" x2="196.6" y2="126.3"><stop offset="0" stop-color="#ff6731"/><stop offset="1" stop-color="#ff7d36"/></linearGradient><linearGradient id="g231" gradientUnits="userSpaceOnUse" x1="504.7" y1="126.6" x2="510.8" y2="141.8"><stop offset="0" stop-color="#ff8504"/><stop offset="1" stop-color="#ffa606"/></linearGradient><linearGradient id="g232" gradientUnits="userSpaceOnUse" x1="324.1" y1="106.6" x2="322.5" y2="114.6"><stop offset="0" stop-color="#ff3b24"/><stop offset="1" stop-color="#ff4329"/></linearGradient><linearGradient id="g233" gradientUnits="userSpaceOnUse" x1="246.7" y1="109.6" x2="230.1" y2="125.6"><stop offset="0" stop-color="#ff582b"/><stop offset="1" stop-color="#ff6736"/></linearGradient><linearGradient id="g234" gradientUnits="userSpaceOnUse" x1="296.8" y1="106.7" x2="293.2" y2="117"><stop offset="0" stop-color="#ff4227"/><stop offset="1" stop-color="#ff4b2e"/></linearGradient><linearGradient id="g235" gradientUnits="userSpaceOnUse" x1="270.8" y1="107" x2="262.6" y2="121.3"><stop offset="0" stop-color="#ff4b29"/><stop offset="1" stop-color="#ff5733"/></linearGradient><linearGradient id="g236" gradientUnits="userSpaceOnUse" x1="578.1" y1="153.3" x2="580.4" y2="166.9"><stop offset="0" stop-color="#eee500"/><stop offset="1" stop-color="#e0f400"/></linearGradient><linearGradient id="g237" gradientUnits="userSpaceOnUse" x1="477.3" y1="121.5" x2="481.9" y2="135"><stop offset="0" stop-color="#ff640a"/><stop offset="1" stop-color="#ff820d"/></linearGradient><linearGradient id="g238" gradientUnits="userSpaceOnUse" x1="450.1" y1="118.2" x2="452.6" y2="128.8"><stop offset="0" stop-color="#ff5110"/><stop offset="1" stop-color="#ff6313"/></linearGradient><linearGradient id="g239" gradientUnits="userSpaceOnUse" x1="545" y1="142" x2="557.5" y2="160.7"><stop offset="0" stop-color="#ffbf00"/><stop offset="1" stop-color="#f5e000"/></linearGradient><linearGradient id="g240" gradientUnits="userSpaceOnUse" x1="422.4" y1="114.5" x2="423.7" y2="124.9"><stop offset="0" stop-color="#ff4516"/><stop offset="1" stop-color="#ff5319"/></linearGradient><linearGradient id="g241" gradientUnits="userSpaceOnUse" x1="150.5" y1="145" x2="127.1" y2="137.6"><stop offset="0" stop-color="#ffac40"/><stop offset="1" stop-color="#ffc835"/></linearGradient><linearGradient id="g242" gradientUnits="userSpaceOnUse" x1="394.4" y1="112" x2="394.9" y2="121.9"><stop offset="0" stop-color="#ff3d1b"/><stop offset="1" stop-color="#ff4a1e"/></linearGradient><linearGradient id="g243" gradientUnits="userSpaceOnUse" x1="519.9" y1="135.6" x2="526.4" y2="151.6"><stop offset="0" stop-color="#ffa202"/><stop offset="1" stop-color="#ffbe04"/></linearGradient><linearGradient id="g244" gradientUnits="userSpaceOnUse" x1="180.5" y1="136.1" x2="153.6" y2="132.5"><stop offset="0" stop-color="#ff8c3c"/><stop offset="1" stop-color="#ffad36"/></linearGradient><linearGradient id="g245" gradientUnits="userSpaceOnUse" x1="366.3" y1="110.6" x2="366.1" y2="120.1"><stop offset="0" stop-color="#ff3b20"/><stop offset="1" stop-color="#ff4624"/></linearGradient><linearGradient id="g246" gradientUnits="userSpaceOnUse" x1="209" y1="123.9" x2="181.8" y2="132.7"><stop offset="0" stop-color="#ff7235"/><stop offset="1" stop-color="#ff8c39"/></linearGradient><linearGradient id="g247" gradientUnits="userSpaceOnUse" x1="601.3" y1="181.8" x2="588.5" y2="161.9"><stop offset="0" stop-color="#a7fa00"/><stop offset="1" stop-color="#e1f500"/></linearGradient><linearGradient id="g248" gradientUnits="userSpaceOnUse" x1="338.2" y1="110.3" x2="337.2" y2="119.3"><stop offset="0" stop-color="#ff3c24"/><stop offset="1" stop-color="#ff4628"/></linearGradient><linearGradient id="g249" gradientUnits="userSpaceOnUse" x1="230.9" y1="115.2" x2="216.6" y2="131.7"><stop offset="0" stop-color="#ff622f"/><stop offset="1" stop-color="#ff723a"/></linearGradient><linearGradient id="g250" gradientUnits="userSpaceOnUse" x1="310.1" y1="111.1" x2="308.3" y2="119.5"><stop offset="0" stop-color="#ff4229"/><stop offset="1" stop-color="#ff4a2d"/></linearGradient><linearGradient id="g251" gradientUnits="userSpaceOnUse" x1="255.9" y1="112.5" x2="248.6" y2="126.7"><stop offset="0" stop-color="#ff542e"/><stop offset="1" stop-color="#ff6136"/></linearGradient><linearGradient id="g252" gradientUnits="userSpaceOnUse" x1="282.5" y1="111.7" x2="279" y2="122.2"><stop offset="0" stop-color="#ff4a2c"/><stop offset="1" stop-color="#ff5331"/></linearGradient><linearGradient id="g253" gradientUnits="userSpaceOnUse" x1="492.6" y1="130" x2="497.2" y2="143.9"><stop offset="0" stop-color="#ff8008"/><stop offset="1" stop-color="#ffa10a"/></linearGradient><linearGradient id="g254" gradientUnits="userSpaceOnUse" x1="563.9" y1="153.9" x2="569.9" y2="170.7"><stop offset="0" stop-color="#f5db00"/><stop offset="1" stop-color="#e5f400"/></linearGradient><linearGradient id="g255" gradientUnits="userSpaceOnUse" x1="464.8" y1="125.3" x2="468.2" y2="137.4"><stop offset="0" stop-color="#ff630e"/><stop offset="1" stop-color="#ff7e11"/></linearGradient><linearGradient id="g256" gradientUnits="userSpaceOnUse" x1="437.1" y1="121.3" x2="439" y2="132.5"><stop offset="0" stop-color="#ff5114"/><stop offset="1" stop-color="#ff6317"/></linearGradient><linearGradient id="g257" gradientUnits="userSpaceOnUse" x1="535.1" y1="145.4" x2="542.3" y2="162.3"><stop offset="0" stop-color="#ffbb01"/><stop offset="1" stop-color="#fad802"/></linearGradient><linearGradient id="g258" gradientUnits="userSpaceOnUse" x1="409.1" y1="118" x2="410" y2="128.9"><stop offset="0" stop-color="#ff471a"/><stop offset="1" stop-color="#ff561d"/></linearGradient><linearGradient id="g259" gradientUnits="userSpaceOnUse" x1="380.9" y1="115.8" x2="381" y2="126.3"><stop offset="0" stop-color="#ff411f"/><stop offset="1" stop-color="#ff4f22"/></linearGradient><linearGradient id="g260" gradientUnits="userSpaceOnUse" x1="166.3" y1="140.7" x2="137.6" y2="142"><stop offset="0" stop-color="#ff9d3e"/><stop offset="1" stop-color="#ffbb3b"/></linearGradient><linearGradient id="g261" gradientUnits="userSpaceOnUse" x1="507.7" y1="139" x2="512.9" y2="153.9"><stop offset="0" stop-color="#ff9f06"/><stop offset="1" stop-color="#ffb908"/></linearGradient><linearGradient id="g262" gradientUnits="userSpaceOnUse" x1="352.6" y1="114.8" x2="352" y2="124.8"><stop offset="0" stop-color="#ff4024"/><stop offset="1" stop-color="#ff4c28"/></linearGradient><linearGradient id="g263" gradientUnits="userSpaceOnUse" x1="193.3" y1="129.1" x2="167.5" y2="140.9"><stop offset="0" stop-color="#ff8138"/><stop offset="1" stop-color="#ff9c3e"/></linearGradient><linearGradient id="g264" gradientUnits="userSpaceOnUse" x1="324.2" y1="114.9" x2="323" y2="124.3"><stop offset="0" stop-color="#ff4329"/><stop offset="1" stop-color="#ff4e2c"/></linearGradient><linearGradient id="g265" gradientUnits="userSpaceOnUse" x1="216.6" y1="121.3" x2="201.3" y2="138.1"><stop offset="0" stop-color="#ff6c34"/><stop offset="1" stop-color="#ff7f3d"/></linearGradient><linearGradient id="g266" gradientUnits="userSpaceOnUse" x1="295.9" y1="116" x2="294" y2="124.9"><stop offset="0" stop-color="#ff492d"/><stop offset="1" stop-color="#ff5331"/></linearGradient><linearGradient id="g267" gradientUnits="userSpaceOnUse" x1="241.1" y1="118.4" x2="234.1" y2="132.6"><stop offset="0" stop-color="#ff5e32"/><stop offset="1" stop-color="#ff6c3a"/></linearGradient><linearGradient id="g268" gradientUnits="userSpaceOnUse" x1="586.4" y1="183.3" x2="578.9" y2="165.1"><stop offset="0" stop-color="#b6f800"/><stop offset="1" stop-color="#e6f400"/></linearGradient><linearGradient id="g269" gradientUnits="userSpaceOnUse" x1="268" y1="117.1" x2="264.5" y2="127.8"><stop offset="0" stop-color="#ff5230"/><stop offset="1" stop-color="#ff5d35"/></linearGradient><linearGradient id="g270" gradientUnits="userSpaceOnUse" x1="479.8" y1="133.5" x2="483.9" y2="146.8"><stop offset="0" stop-color="#ff7d0d"/><stop offset="1" stop-color="#ff9d0f"/></linearGradient><linearGradient id="g271" gradientUnits="userSpaceOnUse" x1="451.9" y1="128.9" x2="454.6" y2="140.9"><stop offset="0" stop-color="#ff6213"/><stop offset="1" stop-color="#ff7d15"/></linearGradient><linearGradient id="g272" gradientUnits="userSpaceOnUse" x1="549.9" y1="155.9" x2="558.8" y2="174.1"><stop offset="0" stop-color="#fad400"/><stop offset="1" stop-color="#e8f200"/></linearGradient><linearGradient id="g273" gradientUnits="userSpaceOnUse" x1="423.9" y1="124.8" x2="425.3" y2="136.6"><stop offset="0" stop-color="#ff5319"/><stop offset="1" stop-color="#ff661b"/></linearGradient><linearGradient id="g274" gradientUnits="userSpaceOnUse" x1="523.4" y1="149.2" x2="528.4" y2="164.5"><stop offset="0" stop-color="#ffb804"/><stop offset="1" stop-color="#fcd306"/></linearGradient><linearGradient id="g275" gradientUnits="userSpaceOnUse" x1="395.6" y1="121.9" x2="396.2" y2="133.3"><stop offset="0" stop-color="#ff4a1e"/><stop offset="1" stop-color="#ff5b21"/></linearGradient><linearGradient id="g276" gradientUnits="userSpaceOnUse" x1="367.1" y1="120.1" x2="367" y2="131"><stop offset="0" stop-color="#ff4623"/><stop offset="1" stop-color="#ff5527"/></linearGradient><linearGradient id="g277" gradientUnits="userSpaceOnUse" x1="177.3" y1="135.1" x2="153.2" y2="149.1"><stop offset="0" stop-color="#ff913b"/><stop offset="1" stop-color="#ffad42"/></linearGradient><linearGradient id="g278" gradientUnits="userSpaceOnUse" x1="338.6" y1="119.4" x2="337.8" y2="129.9"><stop offset="0" stop-color="#ff4628"/><stop offset="1" stop-color="#ff542c"/></linearGradient><linearGradient id="g279" gradientUnits="userSpaceOnUse" x1="495" y1="142.6" x2="499.6" y2="156.9"><stop offset="0" stop-color="#ff9d0b"/><stop offset="1" stop-color="#ffb60c"/></linearGradient><linearGradient id="g280" gradientUnits="userSpaceOnUse" x1="201.3" y1="127.9" x2="186.7" y2="145"><stop offset="0" stop-color="#ff7838"/><stop offset="1" stop-color="#ff9040"/></linearGradient><linearGradient id="g281" gradientUnits="userSpaceOnUse" x1="310" y1="119.8" x2="308.6" y2="129.8"><stop offset="0" stop-color="#ff4a2d"/><stop offset="1" stop-color="#ff5730"/></linearGradient><linearGradient id="g282" gradientUnits="userSpaceOnUse" x1="226.1" y1="124.7" x2="219.4" y2="139.1"><stop offset="0" stop-color="#ff6936"/><stop offset="1" stop-color="#ff773d"/></linearGradient><linearGradient id="g283" gradientUnits="userSpaceOnUse" x1="281.5" y1="121.4" x2="279.4" y2="130.8"><stop offset="0" stop-color="#ff5231"/><stop offset="1" stop-color="#ff5d35"/></linearGradient><linearGradient id="g284" gradientUnits="userSpaceOnUse" x1="253.4" y1="122.9" x2="249.8" y2="134"><stop offset="0" stop-color="#ff5c34"/><stop offset="1" stop-color="#ff6839"/></linearGradient><linearGradient id="g285" gradientUnits="userSpaceOnUse" x1="572" y1="184.7" x2="568.4" y2="169.3"><stop offset="0" stop-color="#c3f700"/><stop offset="1" stop-color="#e7f200"/></linearGradient><linearGradient id="g286" gradientUnits="userSpaceOnUse" x1="467" y1="137.4" x2="470.3" y2="150.2"><stop offset="0" stop-color="#ff7d11"/><stop offset="1" stop-color="#ff9c13"/></linearGradient><linearGradient id="g287" gradientUnits="userSpaceOnUse" x1="438.7" y1="132.5" x2="441" y2="145.1"><stop offset="0" stop-color="#ff6317"/><stop offset="1" stop-color="#ff8019"/></linearGradient><linearGradient id="g288" gradientUnits="userSpaceOnUse" x1="538.8" y1="159.9" x2="544.4" y2="176.2"><stop offset="0" stop-color="#fcd302"/><stop offset="1" stop-color="#ecec03"/></linearGradient><linearGradient id="g289" gradientUnits="userSpaceOnUse" x1="410.4" y1="128.8" x2="411.5" y2="141.1"><stop offset="0" stop-color="#ff561d"/><stop offset="1" stop-color="#ff6b1f"/></linearGradient><linearGradient id="g290" gradientUnits="userSpaceOnUse" x1="381.8" y1="126.3" x2="382.1" y2="138.1"><stop offset="0" stop-color="#ff4f22"/><stop offset="1" stop-color="#ff6125"/></linearGradient><linearGradient id="g291" gradientUnits="userSpaceOnUse" x1="510.9" y1="153" x2="515" y2="167.4"><stop offset="0" stop-color="#ffb608"/><stop offset="1" stop-color="#fed00a"/></linearGradient><linearGradient id="g292" gradientUnits="userSpaceOnUse" x1="353.2" y1="124.8" x2="352.8" y2="136.2"><stop offset="0" stop-color="#ff4c27"/><stop offset="1" stop-color="#ff5d2b"/></linearGradient><linearGradient id="g293" gradientUnits="userSpaceOnUse" x1="185.8" y1="134.9" x2="171.9" y2="152.4"><stop offset="0" stop-color="#ff883b"/><stop offset="1" stop-color="#ffa144"/></linearGradient><linearGradient id="g294" gradientUnits="userSpaceOnUse" x1="324.4" y1="124.5" x2="323.4" y2="135.4"><stop offset="0" stop-color="#ff4e2c"/><stop offset="1" stop-color="#ff5d30"/></linearGradient><linearGradient id="g295" gradientUnits="userSpaceOnUse" x1="211.1" y1="131.4" x2="204.4" y2="146"><stop offset="0" stop-color="#ff743a"/><stop offset="1" stop-color="#ff8740"/></linearGradient><linearGradient id="g296" gradientUnits="userSpaceOnUse" x1="295.7" y1="125.3" x2="294.1" y2="135.7"><stop offset="0" stop-color="#ff5331"/><stop offset="1" stop-color="#ff6034"/></linearGradient><linearGradient id="g297" gradientUnits="userSpaceOnUse" x1="482.4" y1="146.6" x2="486" y2="160.3"><stop offset="0" stop-color="#ff9c0f"/><stop offset="1" stop-color="#ffb510"/></linearGradient><linearGradient id="g298" gradientUnits="userSpaceOnUse" x1="238.6" y1="129.1" x2="235" y2="140.6"><stop offset="0" stop-color="#ff6738"/><stop offset="1" stop-color="#ff743c"/></linearGradient><linearGradient id="g299" gradientUnits="userSpaceOnUse" x1="266.9" y1="127.2" x2="264.7" y2="137.1"><stop offset="0" stop-color="#ff5c35"/><stop offset="1" stop-color="#ff6838"/></linearGradient><linearGradient id="g300" gradientUnits="userSpaceOnUse" x1="560.5" y1="188.7" x2="554.5" y2="171.6"><stop offset="0" stop-color="#c7f801"/><stop offset="1" stop-color="#eded01"/></linearGradient><linearGradient id="g301" gradientUnits="userSpaceOnUse" x1="453.8" y1="141.1" x2="456.7" y2="154.5"><stop offset="0" stop-color="#ff7d15"/><stop offset="1" stop-color="#ff9e17"/></linearGradient><linearGradient id="g302" gradientUnits="userSpaceOnUse" x1="425.2" y1="136.6" x2="427.2" y2="149.7"><stop offset="0" stop-color="#ff661b"/><stop offset="1" stop-color="#ff841d"/></linearGradient><linearGradient id="g303" gradientUnits="userSpaceOnUse" x1="526.5" y1="164" x2="530.9" y2="179.1"><stop offset="0" stop-color="#fdd106"/><stop offset="1" stop-color="#eee907"/></linearGradient><linearGradient id="g304" gradientUnits="userSpaceOnUse" x1="396.6" y1="133.3" x2="397.6" y2="146.1"><stop offset="0" stop-color="#ff5a21"/><stop offset="1" stop-color="#ff7223"/></linearGradient><linearGradient id="g305" gradientUnits="userSpaceOnUse" x1="367.9" y1="131" x2="368" y2="143.4"><stop offset="0" stop-color="#ff5526"/><stop offset="1" stop-color="#ff6829"/></linearGradient><linearGradient id="g306" gradientUnits="userSpaceOnUse" x1="497.9" y1="156.7" x2="501.8" y2="171.4"><stop offset="0" stop-color="#ffb50d"/><stop offset="1" stop-color="#ffd00e"/></linearGradient><linearGradient id="g307" gradientUnits="userSpaceOnUse" x1="339" y1="130" x2="338.4" y2="141.9"><stop offset="0" stop-color="#ff542c"/><stop offset="1" stop-color="#ff652e"/></linearGradient><linearGradient id="g308" gradientUnits="userSpaceOnUse" x1="310.1" y1="130" x2="308.9" y2="141.5"><stop offset="0" stop-color="#ff5730"/><stop offset="1" stop-color="#ff6633"/></linearGradient><linearGradient id="g309" gradientUnits="userSpaceOnUse" x1="196.4" y1="138.3" x2="188.8" y2="153.7"><stop offset="0" stop-color="#ff833d"/><stop offset="1" stop-color="#ff9944"/></linearGradient><linearGradient id="g310" gradientUnits="userSpaceOnUse" x1="281.1" y1="131.1" x2="279.3" y2="142.1"><stop offset="0" stop-color="#ff5d35"/><stop offset="1" stop-color="#ff6b38"/></linearGradient><linearGradient id="g311" gradientUnits="userSpaceOnUse" x1="223.8" y1="135.7" x2="219.8" y2="147.7"><stop offset="0" stop-color="#ff733b"/><stop offset="1" stop-color="#ff8240"/></linearGradient><linearGradient id="g312" gradientUnits="userSpaceOnUse" x1="252.2" y1="133.4" x2="249.8" y2="143.9"><stop offset="0" stop-color="#ff6738"/><stop offset="1" stop-color="#ff743c"/></linearGradient><linearGradient id="g313" gradientUnits="userSpaceOnUse" x1="469.2" y1="150.4" x2="472.4" y2="164.8"><stop offset="0" stop-color="#ff9c13"/><stop offset="1" stop-color="#ffb714"/></linearGradient><linearGradient id="g314" gradientUnits="userSpaceOnUse" x1="440.3" y1="145.2" x2="442.9" y2="159.2"><stop offset="0" stop-color="#ff8019"/><stop offset="1" stop-color="#ffa21b"/></linearGradient><linearGradient id="g315" gradientUnits="userSpaceOnUse" x1="552.8" y1="193.4" x2="536.4" y2="174"><stop offset="0" stop-color="#c7fb03"/><stop offset="1" stop-color="#f5e805"/></linearGradient><linearGradient id="g316" gradientUnits="userSpaceOnUse" x1="411.5" y1="141.1" x2="413.3" y2="154.8"><stop offset="0" stop-color="#ff6b1f"/><stop offset="1" stop-color="#ff8b21"/></linearGradient><linearGradient id="g317" gradientUnits="userSpaceOnUse" x1="513.6" y1="167.7" x2="517.6" y2="183.3"><stop offset="0" stop-color="#fed00a"/><stop offset="1" stop-color="#efe80b"/></linearGradient><linearGradient id="g318" gradientUnits="userSpaceOnUse" x1="382.6" y1="138.1" x2="383.5" y2="151.5"><stop offset="0" stop-color="#ff6025"/><stop offset="1" stop-color="#ff7a27"/></linearGradient><linearGradient id="g319" gradientUnits="userSpaceOnUse" x1="353.8" y1="136.3" x2="353.6" y2="149.2"><stop offset="0" stop-color="#ff5c2a"/><stop offset="1" stop-color="#ff712d"/></linearGradient><linearGradient id="g320" gradientUnits="userSpaceOnUse" x1="484.6" y1="160.7" x2="488.4" y2="175.9"><stop offset="0" stop-color="#ffb511"/><stop offset="1" stop-color="#ffd112"/></linearGradient><linearGradient id="g321" gradientUnits="userSpaceOnUse" x1="324.7" y1="135.5" x2="323.9" y2="148"><stop offset="0" stop-color="#ff5d2f"/><stop offset="1" stop-color="#ff6f32"/></linearGradient><linearGradient id="g322" gradientUnits="userSpaceOnUse" x1="295.5" y1="135.9" x2="294.2" y2="148"><stop offset="0" stop-color="#ff6134"/><stop offset="1" stop-color="#ff7137"/></linearGradient><linearGradient id="g323" gradientUnits="userSpaceOnUse" x1="208.7" y1="142.8" x2="204.5" y2="155.4"><stop offset="0" stop-color="#ff813f"/><stop offset="1" stop-color="#ff9443"/></linearGradient><linearGradient id="g324" gradientUnits="userSpaceOnUse" x1="266.4" y1="137.5" x2="264.4" y2="149"><stop offset="0" stop-color="#ff6838"/><stop offset="1" stop-color="#ff773c"/></linearGradient><linearGradient id="g325" gradientUnits="userSpaceOnUse" x1="237.3" y1="140.1" x2="234.7" y2="151.1"><stop offset="0" stop-color="#ff723c"/><stop offset="1" stop-color="#ff823f"/></linearGradient><linearGradient id="g326" gradientUnits="userSpaceOnUse" x1="455.9" y1="154.7" x2="458.6" y2="169.7"><stop offset="0" stop-color="#ff9e17"/><stop offset="1" stop-color="#ffba18"/></linearGradient><linearGradient id="g327" gradientUnits="userSpaceOnUse" x1="426.7" y1="149.8" x2="429" y2="164.4"><stop offset="0" stop-color="#ff841d"/><stop offset="1" stop-color="#ffa81f"/></linearGradient><linearGradient id="g328" gradientUnits="userSpaceOnUse" x1="545.1" y1="194.2" x2="518" y2="181.4"><stop offset="0" stop-color="#cdfa05"/><stop offset="1" stop-color="#f4e80b"/></linearGradient><linearGradient id="g329" gradientUnits="userSpaceOnUse" x1="397.6" y1="146.1" x2="399.1" y2="160.3"><stop offset="0" stop-color="#ff7223"/><stop offset="1" stop-color="#ff9325"/></linearGradient><linearGradient id="g330" gradientUnits="userSpaceOnUse" x1="500.5" y1="171.7" x2="504.2" y2="188"><stop offset="0" stop-color="#ffd00e"/><stop offset="1" stop-color="#efe90f"/></linearGradient><linearGradient id="g331" gradientUnits="userSpaceOnUse" x1="368.4" y1="143.4" x2="369.3" y2="157.3"><stop offset="0" stop-color="#ff6829"/><stop offset="1" stop-color="#ff852b"/></linearGradient><linearGradient id="g332" gradientUnits="userSpaceOnUse" x1="339.4" y1="141.9" x2="339.2" y2="155.4"><stop offset="0" stop-color="#ff642e"/><stop offset="1" stop-color="#ff7c31"/></linearGradient><linearGradient id="g333" gradientUnits="userSpaceOnUse" x1="310.1" y1="141.6" x2="309.2" y2="154.6"><stop offset="0" stop-color="#ff6633"/><stop offset="1" stop-color="#ff7b36"/></linearGradient><linearGradient id="g334" gradientUnits="userSpaceOnUse" x1="471.2" y1="165" x2="474.7" y2="180.8"><stop offset="0" stop-color="#ffb715"/><stop offset="1" stop-color="#fed316"/></linearGradient><linearGradient id="g335" gradientUnits="userSpaceOnUse" x1="280.7" y1="142.3" x2="279.3" y2="154.9"><stop offset="0" stop-color="#ff6b38"/><stop offset="1" stop-color="#ff7e3b"/></linearGradient><linearGradient id="g336" gradientUnits="userSpaceOnUse" x1="222.2" y1="147.3" x2="219.4" y2="158.9"><stop offset="0" stop-color="#ff813f"/><stop offset="1" stop-color="#ff9443"/></linearGradient><linearGradient id="g337" gradientUnits="userSpaceOnUse" x1="251.5" y1="144.2" x2="249.3" y2="156.3"><stop offset="0" stop-color="#ff733c"/><stop offset="1" stop-color="#ff873f"/></linearGradient><linearGradient id="g338" gradientUnits="userSpaceOnUse" x1="442.3" y1="159.3" x2="444.6" y2="175"><stop offset="0" stop-color="#ffa21b"/><stop offset="1" stop-color="#ffbe1c"/></linearGradient><linearGradient id="g339" gradientUnits="userSpaceOnUse" x1="412.7" y1="154.9" x2="415" y2="170"><stop offset="0" stop-color="#ff8b21"/><stop offset="1" stop-color="#ffae23"/></linearGradient><linearGradient id="g340" gradientUnits="userSpaceOnUse" x1="532.9" y1="196.7" x2="503.7" y2="187.7"><stop offset="0" stop-color="#d1f808"/><stop offset="1" stop-color="#f2ea0f"/></linearGradient><linearGradient id="g341" gradientUnits="userSpaceOnUse" x1="383.5" y1="151.5" x2="384.8" y2="166.3"><stop offset="0" stop-color="#ff7b27"/><stop offset="1" stop-color="#ff9d29"/></linearGradient><linearGradient id="g342" gradientUnits="userSpaceOnUse" x1="354.2" y1="149.2" x2="354.7" y2="163.6"><stop offset="0" stop-color="#ff712d"/><stop offset="1" stop-color="#ff912f"/></linearGradient><linearGradient id="g343" gradientUnits="userSpaceOnUse" x1="487.2" y1="176.2" x2="490.5" y2="193.1"><stop offset="0" stop-color="#ffd112"/><stop offset="1" stop-color="#efeb13"/></linearGradient><linearGradient id="g344" gradientUnits="userSpaceOnUse" x1="324.7" y1="148.1" x2="324.6" y2="162.1"><stop offset="0" stop-color="#ff6f32"/><stop offset="1" stop-color="#ff8a34"/></linearGradient><linearGradient id="g345" gradientUnits="userSpaceOnUse" x1="295.3" y1="148.1" x2="294.4" y2="161.7"><stop offset="0" stop-color="#ff7137"/><stop offset="1" stop-color="#ff8a39"/></linearGradient><linearGradient id="g346" gradientUnits="userSpaceOnUse" x1="265.8" y1="149.2" x2="264.2" y2="162.4"><stop offset="0" stop-color="#ff773b"/><stop offset="1" stop-color="#ff8f3e"/></linearGradient><linearGradient id="g347" gradientUnits="userSpaceOnUse" x1="236.3" y1="151.5" x2="234.1" y2="164.2"><stop offset="0" stop-color="#ff823f"/><stop offset="1" stop-color="#ff9942"/></linearGradient><linearGradient id="g348" gradientUnits="userSpaceOnUse" x1="457.5" y1="169.9" x2="460.9" y2="186.3"><stop offset="0" stop-color="#ffba19"/><stop offset="1" stop-color="#fdd719"/></linearGradient><linearGradient id="g349" gradientUnits="userSpaceOnUse" x1="428.4" y1="164.5" x2="430.6" y2="180.7"><stop offset="0" stop-color="#ffa81f"/><stop offset="1" stop-color="#ffc320"/></linearGradient><linearGradient id="g350" gradientUnits="userSpaceOnUse" x1="398.7" y1="160.4" x2="400.6" y2="176.1"><stop offset="0" stop-color="#ff9425"/><stop offset="1" stop-color="#ffb526"/></linearGradient><linearGradient id="g351" gradientUnits="userSpaceOnUse" x1="515.6" y1="206" x2="494.1" y2="188.3"><stop offset="0" stop-color="#cbfb0d"/><stop offset="1" stop-color="#f6e811"/></linearGradient><linearGradient id="g352" gradientUnits="userSpaceOnUse" x1="369.2" y1="157.3" x2="370.3" y2="172.7"><stop offset="0" stop-color="#ff852b"/><stop offset="1" stop-color="#ffa92d"/></linearGradient><linearGradient id="g353" gradientUnits="userSpaceOnUse" x1="339.6" y1="155.4" x2="340" y2="170.4"><stop offset="0" stop-color="#ff7d31"/><stop offset="1" stop-color="#ff9e32"/></linearGradient><linearGradient id="g354" gradientUnits="userSpaceOnUse" x1="473.6" y1="181.1" x2="476.7" y2="198.6"><stop offset="0" stop-color="#fed316"/><stop offset="1" stop-color="#edee17"/></linearGradient><linearGradient id="g355" gradientUnits="userSpaceOnUse" x1="310" y1="154.6" x2="309.7" y2="169.3"><stop offset="0" stop-color="#ff7b36"/><stop offset="1" stop-color="#ff9a38"/></linearGradient><linearGradient id="g356" gradientUnits="userSpaceOnUse" x1="280.3" y1="155" x2="279.3" y2="169.2"><stop offset="0" stop-color="#ff7f3b"/><stop offset="1" stop-color="#ff9b3d"/></linearGradient><linearGradient id="g357" gradientUnits="userSpaceOnUse" x1="250.6" y1="156.5" x2="249" y2="170.3"><stop offset="0" stop-color="#ff873f"/><stop offset="1" stop-color="#ffa142"/></linearGradient><linearGradient id="g358" gradientUnits="userSpaceOnUse" x1="443.8" y1="175.1" x2="446.8" y2="192.2"><stop offset="0" stop-color="#ffbe1d"/><stop offset="1" stop-color="#fbdb1d"/></linearGradient><linearGradient id="g359" gradientUnits="userSpaceOnUse" x1="414.3" y1="170.1" x2="416.4" y2="186.9"><stop offset="0" stop-color="#ffad23"/><stop offset="1" stop-color="#ffca24"/></linearGradient><linearGradient id="g360" gradientUnits="userSpaceOnUse" x1="384.7" y1="166.3" x2="385.9" y2="182.7"><stop offset="0" stop-color="#ff9e29"/><stop offset="1" stop-color="#ffbd2a"/></linearGradient><linearGradient id="g361" gradientUnits="userSpaceOnUse" x1="498.2" y1="212.1" x2="484.2" y2="192.9"><stop offset="0" stop-color="#c9fb12"/><stop offset="1" stop-color="#f4eb14"/></linearGradient><linearGradient id="g362" gradientUnits="userSpaceOnUse" x1="354.7" y1="163.7" x2="355.7" y2="179.6"><stop offset="0" stop-color="#ff922f"/><stop offset="1" stop-color="#ffb430"/></linearGradient><linearGradient id="g363" gradientUnits="userSpaceOnUse" x1="324.9" y1="162.1" x2="325.1" y2="177.7"><stop offset="0" stop-color="#ff8b34"/><stop offset="1" stop-color="#ffad36"/></linearGradient><linearGradient id="g364" gradientUnits="userSpaceOnUse" x1="295.1" y1="161.7" x2="294.6" y2="176.9"><stop offset="0" stop-color="#ff8b39"/><stop offset="1" stop-color="#ffaa3b"/></linearGradient><linearGradient id="g365" gradientUnits="userSpaceOnUse" x1="459.8" y1="186.5" x2="462.7" y2="204.6"><stop offset="0" stop-color="#fcd61a"/><stop offset="1" stop-color="#ebf21a"/></linearGradient><linearGradient id="g366" gradientUnits="userSpaceOnUse" x1="265.2" y1="162.5" x2="264" y2="177.2"><stop offset="0" stop-color="#ff8f3e"/><stop offset="1" stop-color="#ffac40"/></linearGradient><linearGradient id="g367" gradientUnits="userSpaceOnUse" x1="429.9" y1="180.8" x2="432.4" y2="198.5"><stop offset="0" stop-color="#ffc420"/><stop offset="1" stop-color="#f9e021"/></linearGradient><linearGradient id="g368" gradientUnits="userSpaceOnUse" x1="400.1" y1="176.2" x2="401.9" y2="193.6"><stop offset="0" stop-color="#ffb427"/><stop offset="1" stop-color="#ffd227"/></linearGradient><linearGradient id="g369" gradientUnits="userSpaceOnUse" x1="370.3" y1="172.7" x2="371.2" y2="189.8"><stop offset="0" stop-color="#ffa92d"/><stop offset="1" stop-color="#ffc62e"/></linearGradient><linearGradient id="g370" gradientUnits="userSpaceOnUse" x1="340.2" y1="170.4" x2="340.6" y2="187.1"><stop offset="0" stop-color="#ffa032"/><stop offset="1" stop-color="#ffbf34"/></linearGradient><linearGradient id="g371" gradientUnits="userSpaceOnUse" x1="483" y1="217.6" x2="471.8" y2="199"><stop offset="0" stop-color="#c5fa16"/><stop offset="1" stop-color="#f1ef18"/></linearGradient><linearGradient id="g372" gradientUnits="userSpaceOnUse" x1="310" y1="169.3" x2="310.1" y2="185.5"><stop offset="0" stop-color="#ff9b38"/><stop offset="1" stop-color="#ffba39"/></linearGradient><linearGradient id="g373" gradientUnits="userSpaceOnUse" x1="280" y1="169.3" x2="279.3" y2="185.1"><stop offset="0" stop-color="#ff9c3d"/><stop offset="1" stop-color="#ffba3f"/></linearGradient><linearGradient id="g374" gradientUnits="userSpaceOnUse" x1="445.8" y1="192.3" x2="448.6" y2="211.1"><stop offset="0" stop-color="#fadb1d"/><stop offset="1" stop-color="#e9f61e"/></linearGradient><linearGradient id="g375" gradientUnits="userSpaceOnUse" x1="416.1" y1="186.9" x2="417.6" y2="205.4"><stop offset="0" stop-color="#ffca24"/><stop offset="1" stop-color="#f5e625"/></linearGradient><linearGradient id="g376" gradientUnits="userSpaceOnUse" x1="385.4" y1="182.8" x2="387.5" y2="200.7"><stop offset="0" stop-color="#ffbd2a"/><stop offset="1" stop-color="#fdda2b"/></linearGradient><linearGradient id="g377" gradientUnits="userSpaceOnUse" x1="355.5" y1="179.7" x2="356.4" y2="197.3"><stop offset="0" stop-color="#ffb330"/><stop offset="1" stop-color="#ffcf31"/></linearGradient><linearGradient id="g378" gradientUnits="userSpaceOnUse" x1="325.3" y1="177.7" x2="325.5" y2="194.9"><stop offset="0" stop-color="#ffad36"/><stop offset="1" stop-color="#ffc937"/></linearGradient><linearGradient id="g379" gradientUnits="userSpaceOnUse" x1="468.3" y1="223.7" x2="458.3" y2="205.5"><stop offset="0" stop-color="#c0fa1a"/><stop offset="1" stop-color="#eef31b"/></linearGradient><linearGradient id="g380" gradientUnits="userSpaceOnUse" x1="295.1" y1="176.9" x2="294.6" y2="193.8"><stop offset="0" stop-color="#ffab3b"/><stop offset="1" stop-color="#ffc63d"/></linearGradient><linearGradient id="g381" gradientUnits="userSpaceOnUse" x1="429.7" y1="199.4" x2="436.1" y2="217.3"><stop offset="0" stop-color="#f8e222"/><stop offset="1" stop-color="#e2f821"/></linearGradient><linearGradient id="g382" gradientUnits="userSpaceOnUse" x1="401.7" y1="193.6" x2="403" y2="212.7"><stop offset="0" stop-color="#ffd227"/><stop offset="1" stop-color="#f0ed28"/></linearGradient><linearGradient id="g383" gradientUnits="userSpaceOnUse" x1="371" y1="189.8" x2="372.5" y2="208.4"><stop offset="0" stop-color="#ffc62e"/><stop offset="1" stop-color="#fae22e"/></linearGradient><linearGradient id="g384" gradientUnits="userSpaceOnUse" x1="340.6" y1="187.1" x2="341.5" y2="205.3"><stop offset="0" stop-color="#ffbd34"/><stop offset="1" stop-color="#feda34"/></linearGradient><linearGradient id="g385" gradientUnits="userSpaceOnUse" x1="310.2" y1="185.5" x2="310.3" y2="203.3"><stop offset="0" stop-color="#ffb939"/><stop offset="1" stop-color="#ffd43a"/></linearGradient><linearGradient id="g386" gradientUnits="userSpaceOnUse" x1="451.9" y1="231.2" x2="446.3" y2="211.7"><stop offset="0" stop-color="#b6fa1e"/><stop offset="1" stop-color="#e8f61e"/></linearGradient><linearGradient id="g387" gradientUnits="userSpaceOnUse" x1="418.3" y1="205.4" x2="418.5" y2="225.5"><stop offset="0" stop-color="#f6e824"/><stop offset="1" stop-color="#d8fa25"/></linearGradient><linearGradient id="g388" gradientUnits="userSpaceOnUse" x1="386.9" y1="200.8" x2="388.4" y2="220.5"><stop offset="0" stop-color="#fcd92b"/><stop offset="1" stop-color="#ecf52b"/></linearGradient><linearGradient id="g389" gradientUnits="userSpaceOnUse" x1="356.6" y1="197.3" x2="356.9" y2="216.6"><stop offset="0" stop-color="#ffd031"/><stop offset="1" stop-color="#f4eb32"/></linearGradient><linearGradient id="g390" gradientUnits="userSpaceOnUse" x1="325.6" y1="194.9" x2="326.1" y2="213.8"><stop offset="0" stop-color="#ffc937"/><stop offset="1" stop-color="#fae438"/></linearGradient><linearGradient id="g391" gradientUnits="userSpaceOnUse" x1="437.4" y1="238.8" x2="431.9" y2="218.6"><stop offset="0" stop-color="#adfb21"/><stop offset="1" stop-color="#dff722"/></linearGradient><linearGradient id="g392" gradientUnits="userSpaceOnUse" x1="410" y1="232" x2="397.4" y2="214"><stop offset="0" stop-color="#ccfa27"/><stop offset="1" stop-color="#f2f029"/></linearGradient><linearGradient id="g393" gradientUnits="userSpaceOnUse" x1="370.4" y1="208.9" x2="375.1" y2="228.3"><stop offset="0" stop-color="#f9e32f"/><stop offset="1" stop-color="#e2f92e"/></linearGradient><linearGradient id="g394" gradientUnits="userSpaceOnUse" x1="341.3" y1="205.3" x2="341.9" y2="225.2"><stop offset="0" stop-color="#feda34"/><stop offset="1" stop-color="#edf435"/></linearGradient><linearGradient id="g395" gradientUnits="userSpaceOnUse" x1="422.7" y1="246.9" x2="417.4" y2="226"><stop offset="0" stop-color="#a4fa24"/><stop offset="1" stop-color="#d4f925"/></linearGradient><linearGradient id="g396" gradientUnits="userSpaceOnUse" x1="391.7" y1="241.3" x2="386" y2="221.1"><stop offset="0" stop-color="#bdfb2b"/><stop offset="1" stop-color="#ecf52c"/></linearGradient><linearGradient id="g397" gradientUnits="userSpaceOnUse" x1="366.8" y1="235.6" x2="348.3" y2="218.4"><stop offset="0" stop-color="#d6fb30"/><stop offset="1" stop-color="#f5ee34"/></linearGradient><linearGradient id="g398" gradientUnits="userSpaceOnUse" x1="407.8" y1="255.5" x2="402.5" y2="234"><stop offset="0" stop-color="#9af928"/><stop offset="1" stop-color="#c8fa29"/></linearGradient><linearGradient id="g399" gradientUnits="userSpaceOnUse" x1="376" y1="250.5" x2="371.6" y2="229.1"><stop offset="0" stop-color="#affb2e"/><stop offset="1" stop-color="#e0f82f"/></linearGradient><linearGradient id="g400" gradientUnits="userSpaceOnUse" x1="392.7" y1="264.6" x2="387.4" y2="242.4"><stop offset="0" stop-color="#90f82b"/><stop offset="1" stop-color="#bcfb2c"/></linearGradient></defs><rect width="685" height="542" fill="#fff"/><path d="M140.8,54L152.2,311.2M186.8,43.6L195.9,296.3M232.8,33.2L239.6,281.5M278.9,22.8L283.4,266.7M324.9,12.4L327.1,251.9M429,13.5L426.3,253.6M487,25L481.9,270.1M545.1,36.4L537.4,286.5M603.1,47.9L592.9,303M108.4,326L370.8,237.1M370.8,237.1L648.4,319.5M105.7,273.7L370.8,190M370.8,190L651,267.5M103,221.4L370.9,143M370.9,143L653.5,215.5M100.3,169L370.9,96M370.9,96L656.1,163.5M97.5,116.7L370.9,49M370.9,49L658.6,111.4" stroke="#1e1e1e" stroke-width="1.3" fill="none"/>
<path d="M94.8,64.4L112.7,407.6M370.6,2L370.6,310.4M661.2,59.4L644.4,400.7" stroke="#111" stroke-width="1.6" fill="none"/>
<path d="M94.8,64.4L370.9,2L661.2,59.4" stroke="#111" stroke-width="2" fill="none" stroke-linejoin="round"/>
<polygon points="112.7,407.6 390.4,523.6 644.4,400.7 370.8,310.4" fill="#646464"/>
<polyline points="600.6,421.8 601.4,421 602.3,420 602.8,419.6 603.8,418.6 604.2,418.1 605.2,417.2 605.6,416.7 606.5,415.7 607,415.2 607.9,414.3 608.3,413.8 609.1,412.8 609.6,412.3 610.4,411.4 610.8,410.9 611.6,409.9 612,409.4 612.8,408.4 613.2,407.9 613.9,406.9 614.3,406.4 614.8,405.7 615.4,405 615.7,404.4 616.4,403.5 616.7,403 617.3,402 617.7,401.4 618.1,400.8 618.6,399.9 618.9,399.4 619.4,398.6 619.8,397.9 620.1,397.4 620.7,396.4 620.9,395.8 621.2,395.3 621.7,394.3 621.9,393.8" fill="none" stroke="#a5fa00" stroke-width="2.6"/>
<polyline points="371.4,515.8 372.9,515.5 374.9,515.1 377.1,514.7 378.5,514.4 381.3,513.9 382.7,513.6 384.8,513.2 386.9,512.7 388.3,512.5 391,511.9 392.4,511.6 395.1,511 396.4,510.7 398.7,510.2 400.5,509.8 402.3,509.4 404.4,508.9 405.9,508.6 408.4,508 409.7,507.7 412.3,507.1 413.6,506.8 416.1,506.1 417.4,505.8 419.9,505.2 421.4,504.8 423.7,504.2 425.5,503.8 427.5,503.3 429.7,502.7 431.2,502.3 433.6,501.6 434.8,501.3 437.2,500.6" fill="none" stroke="#a5fa00" stroke-width="2.6"/>
<polyline points="346.9,505.5 348.4,505.3 350,505.1 352.9,504.6 354.4,504.4 355.8,504.1 358.8,503.6 360.2,503.4 361.8,503.1 364.5,502.6 366,502.4 368,502 370.2,501.6 371.6,501.3 374.3,500.8 375.8,500.6 377.6,500.2 379.9,499.7 381.3,499.5 384,498.9 385.4,498.6 387.7,498.2 389.4,497.8 391.1,497.4 393.4,496.9 394.7,496.6 397.3,496 398.6,495.8 401.2,495.2 402.5,494.9 405.1,494.3 406.3,493.9 408.9,493.3 410.1,493 412.6,492.4 413.9,492.1 416.4,491.5 417.7,491.1 420,490.5 421.9,490 423.7,489.6 426.1,488.9 427.3,488.6 429.6,487.9 430.8,487.6 433.2,486.9 435.3,486.3 436.7,485.9 439,485.3 440.1,484.9 442.4,484.2 444.7,483.6 445.8,483.2 448,482.5 450.3,481.8 451.4,481.5 453.6,480.8 455.7,480.1 456.8,479.7 459,479 461.1,478.3 462.4,477.8 464.3,477.2 466.4,476.5 468.5,475.7 469.5,475.4 471.6,474.6 473.6,473.9 475.6,473.2 476.8,472.8 478.7,472 480.6,471.3 482.6,470.5 484.6,469.8 485.8,469.3 487.5,468.6 489.4,467.9 491.3,467.1 493.2,466.3 495.1,465.5 496.9,464.8 498.4,464.1 499.7,463.6 501.5,462.8 503.3,462 505.1,461.2 506.8,460.4 508.6,459.6 510.3,458.8 512.1,458 513.8,457.2 515.5,456.4 517.2,455.6 518.8,454.7 520.5,453.9 522.1,453.1 523.7,452.3 525.3,451.4 526.9,450.6 528.5,449.8 530.1,448.9 530.8,448.5 532.4,447.6 533.9,446.8 535.4,445.9 536.9,445.1 538.4,444.2 539.8,443.4 540.6,442.9 542,442.1 543.4,441.2 544.8,440.3 546.2,439.5 546.9,439 548.3,438.2 549.6,437.3 551,436.4 551.6,436 553,435.1 554.2,434.2 555.5,433.3 556.2,432.8 557.4,431.9 558.7,431 559.3,430.6 560.5,429.7 561.7,428.8 562.3,428.3 563.5,427.4 564.6,426.5 565.2,426 566.4,425.1 567.5,424.2 568,423.7 569.1,422.8 569.8,422.2 570.7,421.4 571.8,420.5 572.3,420 573.4,419.1 573.9,418.6 574.9,417.7 575.6,417 576.3,416.2 577.2,415.4 577.8,414.8 578.7,413.8 579.2,413.4 580.1,412.4 580.5,411.9 581.4,410.9 581.8,410.5 582.7,409.5 583.1,409 583.8,408.1 584.3,407.5 584.9,406.8 585.5,406.1 585.9,405.5 586.6,404.6 587,404.1 587.7,403.1 588.1,402.6 588.6,401.8 589.1,401.1 589.4,400.6 590.1,399.5 590.4,399 590.8,398.4 591.3,397.5 591.6,397 592,396.2 592.5,395.4 592.7,394.9 593.2,394.1 593.5,393.4 593.8,392.9 594.1,392.1 594.5,391.3 594.7,390.7 595,390.1 595.3,389.2 595.5,388.6 595.7,388.1 596,387.3 596.2,386.5 596.4,385.9 596.6,385.4" fill="none" stroke="#e6f500" stroke-width="2.6"/>
<polyline points="371.2,310.5 370.9,310.5" fill="none" stroke="#e6f500" stroke-width="2.6"/>
<polyline points="317.8,493.4 319.4,493.2 321,493 323.4,492.8 325.8,492.5 327.4,492.3 329,492.1 331,491.9 333.6,491.6 335.2,491.3 336.7,491.1 338.9,490.8 341.3,490.5 342.8,490.3 344.4,490.1 347.2,489.7 348.7,489.4 350.2,489.2 352.9,488.8 354.5,488.5 356,488.3 358.8,487.8 360.3,487.6 361.8,487.3 364.5,486.8 365.9,486.6 367.9,486.2 370,485.8 371.4,485.5 374.1,485 375.5,484.8 377.6,484.3 379.5,484 380.9,483.7 383.5,483.1 384.8,482.9 387.4,482.3 388.7,482 391.2,481.4 392.5,481.2 395.1,480.6 396.3,480.3 398.8,479.7 400.1,479.4 402.6,478.8 403.8,478.5 406.2,477.9 407.5,477.6 409.9,477 411.1,476.6 413.5,476 415.1,475.6 417,475.1 419.4,474.4 420.5,474.1 422.8,473.4 424.3,473 426.3,472.5 428.5,471.8 429.6,471.5 431.9,470.8 434.1,470.1 435.2,469.8 437.4,469.1 439.5,468.4 440.6,468.1 442.8,467.4 444.9,466.7 446.1,466.3 448,465.6 450.1,464.9 452.2,464.2 453.2,463.8 455.2,463.1 457.3,462.4 459.3,461.7 460.8,461.1 462.2,460.6 464.2,459.8 466.1,459.1 468.1,458.3 470,457.6 471,457.2 472.8,456.4 474.7,455.7 476.5,454.9 478.3,454.1 480.1,453.4 481.9,452.6 483.7,451.8 485.5,451 487.2,450.2 489,449.4 490.7,448.6 492.4,447.8 494,447 495.7,446.2 497.4,445.4 499,444.6 500.6,443.8 502.2,443 503.8,442.1 505.3,441.3 506.9,440.5 508.4,439.6 509.2,439.2 510.7,438.4 512.1,437.5 513.6,436.7 515.1,435.8 516.5,435 517.2,434.5 518.6,433.7 520,432.8 521.4,431.9 522.3,431.4 523.4,430.6 524.7,429.8 526.1,428.9 526.7,428.4 528,427.5 529.3,426.7 530.2,426 531.1,425.3 532.4,424.4 533.3,423.7 534.2,423.1 535.3,422.1 536,421.6 537.1,420.8 538.2,419.9 538.8,419.4 539.9,418.5 540.6,417.8 541.5,417.1 542.6,416.1 543.1,415.7 544.1,414.7 544.6,414.3 545.6,413.3 546.1,412.8 547.1,411.9 547.6,411.3 548.5,410.5 549,409.9 549.8,409 550.4,408.5 551.2,407.6 551.6,407.1 552.4,406.1 552.9,405.6 553.7,404.6 554.1,404.1 554.8,403.2 555.2,402.6 555.7,402 556.3,401.1 556.7,400.6 557.3,399.7 557.7,399.1 558.1,398.5 558.7,397.6 559,397.1 559.4,396.4 559.9,395.5 560.2,395 560.6,394.3 561,393.4 561.3,392.9 561.6,392.2 562,391.3 562.2,390.8 562.4,390.2 562.8,389.4 563.1,388.6 563.3,388.1 563.5,387.5 563.7,386.6 564,385.9 564.1,385.4 564.3,384.8 564.4,384 564.6,383.2 564.7,382.6 564.8,382 564.9,381.5 565,380.7 565.1,379.9 565.2,379.2 565.2,378.6 565.3,378 565.3,377.4 565.3,376.8 565.3,376.1 565.3,375.3 565.2,374.6" fill="none" stroke="#ffcd00" stroke-width="2.6"/>
<polyline points="398,319.3 396.6,319.4 395.1,319.4 393.4,319.5 391.6,319.6 389.8,319.7 388,319.8 386.5,319.9 385,320 383.6,320.1 382.3,320.1 380.6,320.3 378.7,320.4 376.8,320.5 375.4,320.6 374.1,320.7 372.7,320.8 370.9,321 368.9,321.2 367.5,321.3 366.2,321.4 364.8,321.5 362.8,321.7 361,321.9 359.7,322.1 358.4,322.2 356.3,322.4 354.7,322.6 353.4,322.7 351.9,322.9 349.7,323.2 348.5,323.3 347.3,323.5 345,323.7 343.6,323.9 342.4,324.1 340.3,324.4 338.8,324.6 337.6,324.7 335.3,325.1 334.1,325.2 332.8,325.4 330.6,325.7" fill="none" stroke="#ffcd00" stroke-width="2.6"/>
<polyline points="135.9,398.9 135.8,399 135.2,399.6 134.7,400 134.6,400.1 134,400.6 133.5,401.1 133.5,401.1 132.9,401.6 132.4,402.2 132.4,402.2 131.8,402.7 131.3,403.2 131.3,403.2 130.8,403.8 130.3,404.3 130.2,404.3 129.7,404.8 129.3,405.3 129.2,405.4 128.7,405.9 128.3,406.3 128.2,406.5 127.6,407 127.4,407.3 127.1,407.6 126.6,408.1 126.5,408.3 126.2,408.7 125.7,409.2 125.7,409.3 125.2,409.8 124.9,410.2 124.7,410.4 124.3,411 124.1,411.1 123.8,411.6 123.4,412.1 123.3,412.2" fill="none" stroke="#ffcd00" stroke-width="2.6"/>
<polyline points="278.2,476.8 280.2,476.8 282.1,476.8 284.1,476.8 286,476.8 287.9,476.7 289.7,476.7 291.6,476.6 293.4,476.5 295.2,476.5 297,476.4 298.8,476.3 300.6,476.2 302.4,476.1 304.5,476 306.7,475.9 308.9,475.7 310.9,475.6 312.6,475.4 314.3,475.3 315.9,475.2 317.9,475 320.3,474.8 322.4,474.6 324,474.4 325.6,474.3 327.5,474.1 329.9,473.8 331.9,473.6 333.4,473.4 335,473.2 337.5,472.9 339.4,472.6 340.9,472.4 342.8,472.2 345.4,471.8 346.8,471.6 348.3,471.4 351.1,471 352.6,470.7 354,470.5 356.8,470 358.2,469.8 359.8,469.5 362.3,469.1 363.7,468.8 365.9,468.4 367.7,468.1 369,467.8 371.7,467.3 373,467.1 375.6,466.5 376.9,466.3 379,465.8 380.7,465.5 382.5,465.1 384.5,464.6 386.1,464.3 388.3,463.8 389.9,463.4 391.9,462.9 393.7,462.5 395.5,462 397.8,461.5 399.1,461.1 401.5,460.5 402.6,460.2 404.9,459.6 406.5,459.2 408.4,458.6 410.6,458 411.8,457.7 414,457 416.2,456.4 417.3,456.1 419.4,455.4 421.6,454.7 422.7,454.4 424.8,453.7 426.9,453 427.9,452.7 430,452 432,451.3 434.1,450.6 435.1,450.3 437.1,449.5 439.1,448.8 441,448.1 442.9,447.4 443.9,447 445.8,446.3 447.7,445.6 449.6,444.8 451.4,444.1 453.2,443.3 455.1,442.6 456.8,441.8 458.6,441 460.4,440.3 462.1,439.5 463.8,438.7 465.5,437.9 467.2,437.1 468.8,436.3 470.5,435.5 472.1,434.7 473.7,433.9 475.2,433.1 476.8,432.3 478.3,431.4 479.8,430.6 480.9,430.1 482.1,429.4 483.5,428.5 485,427.7 486.4,426.8 487.4,426.3 488.5,425.6 489.9,424.7 491.3,423.8 492,423.3 493.2,422.5 494.6,421.6 495.8,420.8 496.5,420.3 497.7,419.4 498.9,418.6 499.6,418.1 500.8,417.2 501.6,416.6 502.5,415.8 503.7,414.9 504.2,414.4 505.3,413.5 506,412.9 506.9,412.1 507.9,411.3 508.5,410.7 509.5,409.8 510,409.3 511,408.4 511.5,407.9 512.4,406.9 512.9,406.4 513.8,405.5 514.2,405 515,404.2 515.5,403.5 516.1,402.9 516.8,402 517.2,401.5 517.9,400.5 518.3,400 518.8,399.3 519.4,398.5 519.7,398 520.3,397.1 520.7,396.4 521,395.9 521.6,395 521.9,394.3 522.2,393.8 522.7,393 523,392.2 523.3,391.7 523.5,391.1 523.9,390.1 524.2,389.5 524.4,389 524.6,388.3 524.9,387.4 525.1,386.8 525.2,386.2 525.4,385.6 525.5,384.9 525.7,384.1 525.8,383.4 525.9,382.8 526,382.2 526,381.6 526.1,380.9 526.1,380.2 526.1,379.4 526.1,378.7 526.1,378 526,377.4 526,376.8 525.9,376.2 525.8,375.5 525.7,374.9 525.5,374.3 525.4,373.6 525.2,373 525,372.3 524.8,371.6 524.6,371 524.3,370.3 524,369.6 523.7,368.9 523.4,368.2 523.1,367.7 522.8,367.1 522.4,366.5 522.1,366 521.7,365.3 521.2,364.6 520.6,363.8 520.2,363.2 519.7,362.7 519.3,362.2 518.6,361.4 517.9,360.7 517.5,360.2 517,359.7 516.1,358.8 515.4,358.2" fill="none" stroke="#ff9b00" stroke-width="2.6"/>
<polyline points="443.5,334.3 442.1,334.2 440.8,334 438.7,333.8 436.9,333.7 435.6,333.6 434.2,333.5 432,333.3 430.3,333.2 428.9,333.1 427.6,333 425.8,332.9 423.8,332.8 421.9,332.8 420.5,332.7 419.1,332.7 417.6,332.6 416.1,332.6 414.5,332.5 412.7,332.5 410.9,332.5 409.2,332.5 407.5,332.4 405.8,332.4 404.1,332.4 402.5,332.5 400.8,332.5 399.2,332.5 397.6,332.5 396,332.6 394.5,332.6 392.9,332.6 391.4,332.7 389.8,332.8 388.3,332.8 386.8,332.9 385.3,332.9 383.5,333 381.6,333.1 379.8,333.2 378.1,333.3 376.7,333.4 375.3,333.5 373.9,333.6 372.2,333.7 370.2,333.9 368.4,334 367,334.2 365.7,334.3 364.1,334.4 362,334.6 360.4,334.8 359.1,334.9 357.8,335 355.6,335.3 353.9,335.5 352.6,335.6 351.1,335.8 348.9,336.1 347.6,336.2 346.4,336.4 344.1,336.7 342.7,336.8 341.5,337 339.2,337.3 337.9,337.5 336.6,337.7 334.3,338 333.1,338.2 331.4,338.5 329.6,338.8 328.5,339 326.2,339.3 325,339.5 323,339.9 321.6,340.1 320,340.4 318.2,340.7 316.9,341 314.9,341.4 313.8,341.6 311.6,342 310.5,342.2 308.3,342.7 307,342.9 305.1,343.3 303.5,343.7 301.9,344 299.8,344.5 298.8,344.7 296.7,345.2 295.6,345.4 293.6,345.9 291.5,346.4 290.5,346.6 288.4,347.1 286.9,347.5 285.4,347.9 283.4,348.4 282,348.8 280.4,349.2 278.5,349.7 276.5,350.3 275.5,350.5 273.6,351.1 271.6,351.6 270,352.1 268.8,352.5 266.9,353 265,353.6 263.1,354.2 261.9,354.6 260.3,355.1 258.4,355.7 256.6,356.2 254.8,356.9 253,357.5 251.2,358.1 249.4,358.7 248.4,359 246.7,359.6 244.9,360.3 243.2,360.9 241.4,361.6 239.7,362.2 237.9,362.9 236.2,363.6 234.5,364.2 233.1,364.8 232,365.3 230.3,365.9 228.7,366.6 227,367.3 225.4,368.1 223.7,368.8 222.1,369.5 221,370 219.7,370.6 218.1,371.3 216.5,372.1 215,372.8 214.2,373.2 212.6,374 211.1,374.7 209.6,375.5 208.8,375.9 207.3,376.7 205.8,377.5 205,377.9 203.6,378.7 202.1,379.5 201.4,379.9 200,380.7 198.5,381.6 197.8,382 196.4,382.8 195.5,383.4 194.3,384.1 193,385 192.3,385.4 190.9,386.3 190.3,386.8 188.9,387.7 188.3,388.1 187,389 186.3,389.5 185,390.4 184.4,390.9 183.2,391.8 182.5,392.3 181.3,393.2 180.7,393.7 179.6,394.6 178.9,395.1 178.1,395.8 177.2,396.6 176.6,397.1 175.5,398.1 174.9,398.6 174.2,399.3 173.3,400.2 172.7,400.7 172,401.4 171.1,402.3 170.6,402.8 170,403.5 169.1,404.4 168.7,405 168.2,405.5 167.4,406.5 166.8,407.2 166.3,407.8 165.8,408.4 165.1,409.3 164.6,410.1 164.2,410.7 163.8,411.3 163.3,412.1 162.7,413 162.3,413.7 161.9,414.3 161.6,414.9 161.2,415.6 160.8,416.4 160.4,417.2 160,418 159.7,418.8 159.5,419.4 159.2,420.1 159,420.8 158.7,421.5 158.5,422.2 158.3,422.9 158.2,423.6 158,424.3 157.8,425 157.7,425.8" fill="none" stroke="#ff9b00" stroke-width="2.6"/>
<polyline points="412.4,433 414.3,432.3 416.2,431.6 418.1,430.9 420,430.2 421.8,429.4 423.6,428.7 425.3,428 427.1,427.2 428.8,426.4 430.5,425.7 432.2,424.9 433.8,424.1 435.4,423.3 437,422.5 438.6,421.7 440.1,420.9 441.6,420.1 442.7,419.5 443.8,418.9 445.3,418 446.7,417.2 448.1,416.3 448.8,415.9 450.1,415 451.4,414.2 452.1,413.7 453.4,412.9 454.6,412 455.2,411.5 456.4,410.6 457.4,409.9 458.2,409.3 459.3,408.4 459.9,407.9 461,407 461.5,406.5 462.5,405.5 463,405.1 464,404.1 464.5,403.6 465.4,402.7 465.9,402.2 466.8,401.2 467.2,400.7 467.8,400 468.4,399.2 468.8,398.7 469.5,397.7 469.9,397.1 470.3,396.6 470.9,395.6 471.2,395 471.5,394.5 472,393.7 472.4,392.9 472.6,392.3 472.8,391.8 473.2,390.9 473.5,390.1 473.7,389.5 473.8,389 474,388.3 474.2,387.5 474.3,386.7 474.4,386 474.5,385.4 474.5,384.8 474.5,384.2 474.5,383.6 474.5,383 474.5,382.3 474.4,381.6 474.3,380.9 474.1,380.3 474,379.6 473.8,379 473.6,378.4 473.3,377.7 473,376.9 472.7,376.2 472.3,375.5 471.9,374.8 471.6,374.2 471.2,373.7 470.8,373.1 470.2,372.3 469.6,371.5 469.1,371 468.6,370.5 467.8,369.7 467.1,369.1 466.6,368.6 465.5,367.7 464.9,367.2 464.1,366.6 463.1,365.9 462.4,365.4 461.1,364.7 460.2,364.1 459.1,363.5 457.6,362.7 456.9,362.3 455.4,361.6 453.8,360.9 452.2,360.2 451.3,359.9 449.6,359.2 447.9,358.6 446.1,358 444.2,357.4 443,357.1 441.3,356.6 439.4,356.1 437.3,355.6 435.9,355.3 434.2,354.9 432,354.4 430.9,354.2 428.7,353.8 427.6,353.6 425.2,353.3 424.1,353.1 421.7,352.7 420.5,352.6 418.7,352.4 416.7,352.1 415.4,352 413.7,351.8 411.5,351.6 410.1,351.5 408.8,351.4 407,351.3 404.9,351.2 403.2,351.1 401.7,351 400.3,350.9 398.8,350.9 397,350.8 395.2,350.8 393.4,350.8 391.6,350.8 389.9,350.8 388.2,350.8 386.5,350.8 384.8,350.8 383.2,350.8 381.6,350.9 380,350.9 378.4,351 376.9,351 375.3,351.1 373.8,351.2 372.1,351.3 370.2,351.4 368.3,351.5 366.5,351.6 365.1,351.7 363.7,351.8 362.3,352 360.2,352.1 358.2,352.3 356.8,352.5 355.5,352.6 353.7,352.8 351.6,353 350.3,353.2 349,353.3 346.8,353.6 345.2,353.8 343.9,354 341.8,354.3 340.2,354.5 339,354.7 336.6,355.1 335.4,355.3 333.8,355.5 331.9,355.9 330.7,356.1 328.4,356.5 327.2,356.7 325,357.1 323.8,357.3 321.6,357.8 320.5,358 318.3,358.5 317.2,358.7 315,359.2 314,359.4 311.8,359.9 310.4,360.2 308.7,360.6 306.6,361.1 305.6,361.4 303.5,361.9 301.5,362.5 300.5,362.7 298.5,363.3 296.5,363.8 295.5,364.1 293.5,364.7 291.6,365.2 289.7,365.8 288.7,366.1 286.8,366.7 284.9,367.3 283.1,367.9 281.2,368.5 279.4,369.2 277.6,369.8 276.7,370.1 274.9,370.8 273.2,371.4 271.4,372.1 269.7,372.8 268,373.4 266.3,374.1 265,374.7 263.8,375.2 262.1,375.9 260.5,376.6 258.9,377.3 257.3,378.1 255.7,378.8 254.7,379.3 253.3,380 251.8,380.7 250.3,381.5 249.3,382.1 248,382.7 246.6,383.5 245.2,384.3 244.4,384.7 243,385.6 241.9,386.2 240.9,386.8 239.5,387.7 238.8,388.1 237.5,389 236.7,389.6 235.5,390.3 234.5,391 233.6,391.7 232.6,392.5 231.8,393.1 230.9,393.8 230,394.5 229.3,395.1 228.3,396 227.7,396.5 226.6,397.4 226,398 225.4,398.6 224.5,399.5 224,400 223.2,400.8 222.5,401.6 222,402.1 221.4,402.8 220.7,403.8 220.2,404.3 219.8,404.9 219.2,405.7 218.6,406.6 218.2,407.2 217.9,407.8 217.5,408.4 217,409.3 216.6,410.2 216.3,410.8 216,411.4 215.8,412.1 215.5,412.7 215.3,413.4 215,414.2 214.8,415 214.7,415.7 214.5,416.5 214.4,417.2 214.4,417.9 214.3,418.6 214.3,419.3 214.3,420 214.4,420.7 214.4,421.4 214.5,422.1 214.7,422.9 214.9,423.7 215.1,424.6 215.4,425.2 215.6,425.8 215.9,426.4 216.3,427.4 216.8,428.2 217.1,428.8 217.5,429.4 218.3,430.5 218.7,431 219.2,431.6 220.1,432.6 220.6,433.1 221.6,434.1 222.2,434.6 223.4,435.6 224,436.1 225.3,437 226.1,437.5 227.3,438.3 228.8,439.2 230.3,440 231.1,440.5 232.7,441.3 234.4,442 236.1,442.8 238,443.5 239.8,444.2 241.8,444.9 243.4,445.4 244.9,445.9 247,446.5 249.2,447.1 250.3,447.4 252.6,447.9 254.2,448.3 256.2,448.7 258,449 259.9,449.4 261.4,449.7 263.8,450 265.1,450.2 267.5,450.6 269.3,450.8 270.7,451 273,451.2 275,451.4 276.5,451.6 278,451.7 280.4,451.9 282.7,452 284.3,452.1 285.9,452.2 287.5,452.3 289.3,452.3 291.4,452.4 293.5,452.4 295.5,452.5 297.5,452.5 299.4,452.5 301.3,452.5 303.2,452.5 305.1,452.4 306.9,452.4 308.7,452.3 310.5,452.3 312.3,452.2 314,452.1 315.7,452 317.4,452 319.3,451.8 321.4,451.7 323.6,451.5 325.7,451.4 327.3,451.2 328.9,451.1 330.4,450.9 332.7,450.7 335,450.5 336.5,450.3 338,450.1 340.1,449.9 342.4,449.6 343.9,449.4 345.3,449.2 347.9,448.8 349.6,448.6 350.9,448.4 353.4,448 355.1,447.7 356.4,447.5 359.1,447 360.4,446.8 362.4,446.4 364.3,446.1 365.6,445.8 368.1,445.3 369.4,445 371.9,444.5 373.1,444.2 375.5,443.7 376.7,443.4 379.1,442.9 380.3,442.6 382.7,442 383.8,441.7 386.1,441.1 388.1,440.6 389.5,440.2 391.7,439.6 392.8,439.3 395,438.7 397.2,438 398.2,437.7 400.3,437.1 402.4,436.4 404.1,435.9 405.5,435.4 407.5,434.8 409.5,434.1 411.5,433.4 412.4,433" fill="none" stroke="#ff5000" stroke-width="2.6"/>
<polygon points="112.7,407.6 390.4,523.6 644.4,400.7 370.8,310.4" fill="none" stroke="#000" stroke-width="2" stroke-linejoin="round"/>
<circle cx="108.4" cy="326" r="2.9"/>
<circle cx="105.7" cy="273.7" r="2.9"/>
<circle cx="103" cy="221.4" r="2.9"/>
<circle cx="100.3" cy="169" r="2.9"/>
<circle cx="97.5" cy="116.7" r="2.9"/>
<circle cx="94.8" cy="64.4" r="2.9"/>
<circle cx="112.7" cy="407.6" r="2.9"/>
<circle cx="168.2" cy="430.8" r="2.9"/>
<circle cx="223.8" cy="454" r="2.9"/>
<circle cx="279.3" cy="477.2" r="2.9"/>
<circle cx="334.9" cy="500.4" r="2.9"/>
<circle cx="390.4" cy="523.6" r="2.9"/>
<circle cx="390.4" cy="523.6" r="2.9"/>
<circle cx="432.7" cy="503.1" r="2.9"/>
<circle cx="475.1" cy="482.6" r="2.9"/>
<circle cx="517.4" cy="462.1" r="2.9"/>
<circle cx="559.7" cy="441.7" r="2.9"/>
<circle cx="602.1" cy="421.2" r="2.9"/>
<circle cx="644.4" cy="400.7" r="2.9"/>
<circle cx="234.9" cy="166.6" r="5.3" fill="#ffc8ca" stroke="#2a2020" stroke-width="1"/>
<circle cx="532.9" cy="199.9" r="5.3" fill="#ffc8ca" stroke="#2a2020" stroke-width="1"/>
<path d="M371.4,80.3L383.5,80.5L370.6,82.7L358.6,82.5Z" fill="url(#g1)"/>
<path d="M371.4,80.3L383.5,80.5L370.6,82.7L358.6,82.5Z" class="e"/>
<path d="M384.4,78.7L396.5,78.9L383.5,80.5L371.4,80.3Z" fill="url(#g2)"/>
<path d="M384.4,78.7L396.5,78.9L383.5,80.5L371.4,80.3Z" class="e"/>
<path d="M359.2,80.4L371.4,80.3L358.6,82.5L346.4,82.6Z" fill="url(#g3)"/>
<path d="M359.2,80.4L371.4,80.3L358.6,82.5L346.4,82.6Z" class="e"/>
<path d="M397.6,77.8L409.6,78L396.5,78.9L384.4,78.7Z" fill="url(#g4)"/>
<path d="M397.6,77.8L409.6,78L396.5,78.9L384.4,78.7Z" class="e"/>
<path d="M372.2,78.9L384.4,78.7L371.4,80.3L359.2,80.4Z" fill="url(#g5)"/>
<path d="M372.2,78.9L384.4,78.7L371.4,80.3L359.2,80.4Z" class="e"/>
<path d="M346.8,80.9L359.2,80.4L346.4,82.6L334,83.1Z" fill="url(#g6)"/>
<path d="M346.8,80.9L359.2,80.4L346.4,82.6L334,83.1Z" class="e"/>
<path d="M410.9,77.6L422.9,77.8L409.6,78L397.6,77.8Z" fill="url(#g7)"/>
<path d="M410.9,77.6L422.9,77.8L409.6,78L397.6,77.8Z" class="e"/>
<path d="M385.4,78L397.6,77.8L384.4,78.7L372.2,78.9Z" fill="url(#g8)"/>
<path d="M385.4,78L397.6,77.8L384.4,78.7L372.2,78.9Z" class="e"/>
<path d="M334.3,81.7L346.8,80.9L334,83.1L321.5,83.9Z" fill="url(#g9)"/>
<path d="M334.3,81.7L346.8,80.9L334,83.1L321.5,83.9Z" class="e"/>
<path d="M359.9,79.3L372.2,78.9L359.2,80.4L346.8,80.9Z" fill="url(#g10)"/>
<path d="M359.9,79.3L372.2,78.9L359.2,80.4L346.8,80.9Z" class="e"/>
<path d="M424.4,78L436.4,78.2L422.9,77.8L410.9,77.6Z" fill="url(#g11)"/>
<path d="M424.4,78L436.4,78.2L422.9,77.8L410.9,77.6Z" class="e"/>
<path d="M398.7,77.7L410.9,77.6L397.6,77.8L385.4,78Z" fill="url(#g12)"/>
<path d="M398.7,77.7L410.9,77.6L397.6,77.8L385.4,78Z" class="e"/>
<path d="M321.6,82.8L334.3,81.7L321.5,83.9L308.8,85Z" fill="url(#g13)"/>
<path d="M321.6,82.8L334.3,81.7L321.5,83.9L308.8,85Z" class="e"/>
<path d="M373,78.4L385.4,78L372.2,78.9L359.9,79.3Z" fill="url(#g14)"/>
<path d="M373,78.4L385.4,78L372.2,78.9L359.9,79.3Z" class="e"/>
<path d="M347.3,80.1L359.9,79.3L346.8,80.9L334.3,81.7Z" fill="url(#g15)"/>
<path d="M347.3,80.1L359.9,79.3L346.8,80.9L334.3,81.7Z" class="e"/>
<path d="M438,79.1L450,79.3L436.4,78.2L424.4,78Z" fill="url(#g16)"/>
<path d="M438,79.1L450,79.3L436.4,78.2L424.4,78Z" class="e"/>
<path d="M412.2,78.2L424.4,78L410.9,77.6L398.7,77.7Z" fill="url(#g17)"/>
<path d="M412.2,78.2L424.4,78L410.9,77.6L398.7,77.7Z" class="e"/>
<path d="M386.4,78.2L398.7,77.7L385.4,78L373,78.4Z" fill="url(#g18)"/>
<path d="M386.4,78.2L398.7,77.7L385.4,78L373,78.4Z" class="e"/>
<path d="M308.8,84.3L321.6,82.8L308.8,85L296,86.5Z" fill="url(#g19)"/>
<path d="M308.8,84.3L321.6,82.8L308.8,85L296,86.5Z" class="e"/>
<path d="M360.5,79.3L373,78.4L359.9,79.3L347.3,80.1Z" fill="url(#g20)"/>
<path d="M360.5,79.3L373,78.4L359.9,79.3L347.3,80.1Z" class="e"/>
<path d="M334.7,81.3L347.3,80.1L334.3,81.7L321.6,82.8Z" fill="url(#g21)"/>
<path d="M334.7,81.3L347.3,80.1L334.3,81.7L321.6,82.8Z" class="e"/>
<path d="M451.8,80.9L463.8,81L450,79.3L438,79.1Z" fill="url(#g22)"/>
<path d="M451.8,80.9L463.8,81L450,79.3L438,79.1Z" class="e"/>
<path d="M425.9,79.3L438,79.1L424.4,78L412.2,78.2Z" fill="url(#g23)"/>
<path d="M425.9,79.3L438,79.1L424.4,78L412.2,78.2Z" class="e"/>
<path d="M399.9,78.7L412.2,78.2L398.7,77.7L386.4,78.2Z" fill="url(#g24)"/>
<path d="M399.9,78.7L412.2,78.2L398.7,77.7L386.4,78.2Z" class="e"/>
<path d="M295.8,86.2L308.8,84.3L296,86.5L283,88.4Z" fill="url(#g25)"/>
<path d="M295.8,86.2L308.8,84.3L296,86.5L283,88.4Z" class="e"/>
<path d="M373.9,79.1L386.4,78.2L373,78.4L360.5,79.3Z" fill="url(#g26)"/>
<path d="M373.9,79.1L386.4,78.2L373,78.4L360.5,79.3Z" class="e"/>
<path d="M321.8,82.8L334.7,81.3L321.6,82.8L308.8,84.3Z" fill="url(#g27)"/>
<path d="M321.8,82.8L334.7,81.3L321.6,82.8L308.8,84.3Z" class="e"/>
<path d="M347.8,80.4L360.5,79.3L347.3,80.1L334.7,81.3Z" fill="url(#g28)"/>
<path d="M347.8,80.4L360.5,79.3L347.3,80.1L334.7,81.3Z" class="e"/>
<path d="M465.8,83.4L477.7,83.5L463.8,81L451.8,80.9Z" fill="url(#g29)"/>
<path d="M465.8,83.4L477.7,83.5L463.8,81L451.8,80.9Z" class="e"/>
<path d="M439.7,81.1L451.8,80.9L438,79.1L425.9,79.3Z" fill="url(#g30)"/>
<path d="M439.7,81.1L451.8,80.9L438,79.1L425.9,79.3Z" class="e"/>
<path d="M413.6,79.8L425.9,79.3L412.2,78.2L399.9,78.7Z" fill="url(#g31)"/>
<path d="M413.6,79.8L425.9,79.3L412.2,78.2L399.9,78.7Z" class="e"/>
<path d="M282.6,88.4L295.8,86.2L283,88.4L269.8,90.6Z" fill="url(#g32)"/>
<path d="M282.6,88.4L295.8,86.2L283,88.4L269.8,90.6Z" class="e"/>
<path d="M387.4,79.5L399.9,78.7L386.4,78.2L373.9,79.1Z" fill="url(#g33)"/>
<path d="M387.4,79.5L399.9,78.7L386.4,78.2L373.9,79.1Z" class="e"/>
<path d="M308.8,84.7L321.8,82.8L308.8,84.3L295.8,86.2Z" fill="url(#g34)"/>
<path d="M308.8,84.7L321.8,82.8L308.8,84.3L295.8,86.2Z" class="e"/>
<path d="M361.2,80.2L373.9,79.1L360.5,79.3L347.8,80.4Z" fill="url(#g35)"/>
<path d="M361.2,80.2L373.9,79.1L360.5,79.3L347.8,80.4Z" class="e"/>
<path d="M335,82L347.8,80.4L334.7,81.3L321.8,82.8Z" fill="url(#g36)"/>
<path d="M335,82L347.8,80.4L334.7,81.3L321.8,82.8Z" class="e"/>
<path d="M479.9,86.6L491.8,86.7L477.7,83.5L465.8,83.4Z" fill="url(#g37)"/>
<path d="M479.9,86.6L491.8,86.7L477.7,83.5L465.8,83.4Z" class="e"/>
<path d="M453.7,83.6L465.8,83.4L451.8,80.9L439.7,81.1Z" fill="url(#g38)"/>
<path d="M453.7,83.6L465.8,83.4L451.8,80.9L439.7,81.1Z" class="e"/>
<path d="M427.4,81.7L439.7,81.1L425.9,79.3L413.6,79.8Z" fill="url(#g39)"/>
<path d="M427.4,81.7L439.7,81.1L425.9,79.3L413.6,79.8Z" class="e"/>
<path d="M401.1,80.7L413.6,79.8L399.9,78.7L387.4,79.5Z" fill="url(#g40)"/>
<path d="M401.1,80.7L413.6,79.8L399.9,78.7L387.4,79.5Z" class="e"/>
<path d="M269.3,91L282.6,88.4L269.8,90.6L256.5,93.2Z" fill="url(#g41)"/>
<path d="M269.3,91L282.6,88.4L269.8,90.6L256.5,93.2Z" class="e"/>
<path d="M374.7,80.7L387.4,79.5L373.9,79.1L361.2,80.2Z" fill="url(#g42)"/>
<path d="M374.7,80.7L387.4,79.5L373.9,79.1L361.2,80.2Z" class="e"/>
<path d="M295.6,86.9L308.8,84.7L295.8,86.2L282.6,88.4Z" fill="url(#g43)"/>
<path d="M295.6,86.9L308.8,84.7L295.8,86.2L282.6,88.4Z" class="e"/>
<path d="M348.4,81.8L361.2,80.2L347.8,80.4L335,82Z" fill="url(#g44)"/>
<path d="M348.4,81.8L361.2,80.2L347.8,80.4L335,82Z" class="e"/>
<path d="M322,83.9L335,82L321.8,82.8L308.8,84.7Z" fill="url(#g45)"/>
<path d="M322,83.9L335,82L321.8,82.8L308.8,84.7Z" class="e"/>
<circle cx="506" cy="90.6" r="5.6" fill="#c20000" stroke="#300000" stroke-width="1"/>
<path d="M494.2,90.6L506,90.6L491.8,86.7L479.9,86.6Z" fill="url(#g46)"/>
<path d="M494.2,90.6L506,90.6L491.8,86.7L479.9,86.6Z" class="e"/>
<path d="M467.8,86.9L479.9,86.6L465.8,83.4L453.7,83.6Z" fill="url(#g47)"/>
<path d="M467.8,86.9L479.9,86.6L465.8,83.4L453.7,83.6Z" class="e"/>
<path d="M441.4,84.2L453.7,83.6L439.7,81.1L427.4,81.7Z" fill="url(#g48)"/>
<path d="M441.4,84.2L453.7,83.6L439.7,81.1L427.4,81.7Z" class="e"/>
<path d="M414.9,82.6L427.4,81.7L413.6,79.8L401.1,80.7Z" fill="url(#g49)"/>
<path d="M414.9,82.6L427.4,81.7L413.6,79.8L401.1,80.7Z" class="e"/>
<path d="M255.8,94L269.3,91L256.5,93.2L243,96.1Z" fill="url(#g50)"/>
<path d="M255.8,94L269.3,91L256.5,93.2L243,96.1Z" class="e"/>
<path d="M388.4,81.9L401.1,80.7L387.4,79.5L374.7,80.7Z" fill="url(#g51)"/>
<path d="M388.4,81.9L401.1,80.7L387.4,79.5L374.7,80.7Z" class="e"/>
<circle cx="243" cy="93.4" r="5.6" fill="#c20000" stroke="#300000" stroke-width="1"/>
<path d="M282.3,89.6L295.6,86.9L282.6,88.4L269.3,91Z" fill="url(#g52)"/>
<path d="M282.3,89.6L295.6,86.9L282.6,88.4L269.3,91Z" class="e"/>
<path d="M361.9,82.3L374.7,80.7L361.2,80.2L348.4,81.8Z" fill="url(#g53)"/>
<path d="M361.9,82.3L374.7,80.7L361.2,80.2L348.4,81.8Z" class="e"/>
<path d="M308.8,86.1L322,83.9L308.8,84.7L295.6,86.9Z" fill="url(#g54)"/>
<path d="M308.8,86.1L322,83.9L308.8,84.7L295.6,86.9Z" class="e"/>
<path d="M335.4,83.7L348.4,81.8L335,82L322,83.9Z" fill="url(#g55)"/>
<path d="M335.4,83.7L348.4,81.8L335,82L322,83.9Z" class="e"/>
<path d="M508.6,95.3L520.4,95.3L506,90.6L494.2,90.6Z" fill="url(#g56)"/>
<path d="M508.6,95.3L520.4,95.3L506,90.6L494.2,90.6Z" class="e"/>
<path d="M482.1,90.9L494.2,90.6L479.9,86.6L467.8,86.9Z" fill="url(#g57)"/>
<path d="M482.1,90.9L494.2,90.6L479.9,86.6L467.8,86.9Z" class="e"/>
<path d="M455.6,87.5L467.8,86.9L453.7,83.6L441.4,84.2Z" fill="url(#g58)"/>
<path d="M455.6,87.5L467.8,86.9L453.7,83.6L441.4,84.2Z" class="e"/>
<path d="M429,85.2L441.4,84.2L427.4,81.7L414.9,82.6Z" fill="url(#g59)"/>
<path d="M429,85.2L441.4,84.2L427.4,81.7L414.9,82.6Z" class="e"/>
<path d="M242.2,97.4L255.8,94L243,96.1L229.4,99.5Z" fill="url(#g60)"/>
<path d="M242.2,97.4L255.8,94L243,96.1L229.4,99.5Z" class="e"/>
<path d="M402.3,83.9L414.9,82.6L401.1,80.7L388.4,81.9Z" fill="url(#g61)"/>
<path d="M402.3,83.9L414.9,82.6L401.1,80.7L388.4,81.9Z" class="e"/>
<path d="M268.8,92.6L282.3,89.6L269.3,91L255.8,94Z" fill="url(#g62)"/>
<path d="M268.8,92.6L282.3,89.6L269.3,91L255.8,94Z" class="e"/>
<path d="M375.6,83.5L388.4,81.9L374.7,80.7L361.9,82.3Z" fill="url(#g63)"/>
<path d="M375.6,83.5L388.4,81.9L374.7,80.7L361.9,82.3Z" class="e"/>
<path d="M295.5,88.8L308.8,86.1L295.6,86.9L282.3,89.6Z" fill="url(#g64)"/>
<path d="M295.5,88.8L308.8,86.1L295.6,86.9L282.3,89.6Z" class="e"/>
<path d="M348.9,84.3L361.9,82.3L348.4,81.8L335.4,83.7Z" fill="url(#g65)"/>
<path d="M348.9,84.3L361.9,82.3L348.4,81.8L335.4,83.7Z" class="e"/>
<path d="M322.2,86L335.4,83.7L322,83.9L308.8,86.1Z" fill="url(#g66)"/>
<path d="M322.2,86L335.4,83.7L322,83.9L308.8,86.1Z" class="e"/>
<path d="M523.1,100.7L534.9,100.7L520.4,95.3L508.6,95.3Z" fill="url(#g67)"/>
<path d="M523.1,100.7L534.9,100.7L520.4,95.3L508.6,95.3Z" class="e"/>
<path d="M496.5,95.6L508.6,95.3L494.2,90.6L482.1,90.9Z" fill="url(#g68)"/>
<path d="M496.5,95.6L508.6,95.3L494.2,90.6L482.1,90.9Z" class="e"/>
<path d="M469.9,91.6L482.1,90.9L467.8,86.9L455.6,87.5Z" fill="url(#g69)"/>
<path d="M469.9,91.6L482.1,90.9L467.8,86.9L455.6,87.5Z" class="e"/>
<path d="M443.1,88.5L455.6,87.5L441.4,84.2L429,85.2Z" fill="url(#g70)"/>
<path d="M443.1,88.5L455.6,87.5L441.4,84.2L429,85.2Z" class="e"/>
<path d="M416.3,86.5L429,85.2L414.9,82.6L402.3,83.9Z" fill="url(#g71)"/>
<path d="M416.3,86.5L429,85.2L414.9,82.6L402.3,83.9Z" class="e"/>
<path d="M228.4,101.1L242.2,97.4L229.4,99.5L215.6,103.2Z" fill="url(#g72)"/>
<path d="M228.4,101.1L242.2,97.4L229.4,99.5L215.6,103.2Z" class="e"/>
<path d="M389.5,85.5L402.3,83.9L388.4,81.9L375.6,83.5Z" fill="url(#g73)"/>
<path d="M389.5,85.5L402.3,83.9L388.4,81.9L375.6,83.5Z" class="e"/>
<path d="M255.2,95.9L268.8,92.6L255.8,94L242.2,97.4Z" fill="url(#g74)"/>
<path d="M255.2,95.9L268.8,92.6L255.8,94L242.2,97.4Z" class="e"/>
<path d="M362.6,85.5L375.6,83.5L361.9,82.3L348.9,84.3Z" fill="url(#g75)"/>
<path d="M362.6,85.5L375.6,83.5L361.9,82.3L348.9,84.3Z" class="e"/>
<path d="M282,91.8L295.5,88.8L282.3,89.6L268.8,92.6Z" fill="url(#g76)"/>
<path d="M282,91.8L295.5,88.8L282.3,89.6L268.8,92.6Z" class="e"/>
<path d="M335.7,86.6L348.9,84.3L335.4,83.7L322.2,86Z" fill="url(#g77)"/>
<path d="M335.7,86.6L348.9,84.3L335.4,83.7L322.2,86Z" class="e"/>
<path d="M308.9,88.7L322.2,86L308.8,86.1L295.5,88.8Z" fill="url(#g78)"/>
<path d="M308.9,88.7L322.2,86L308.8,86.1L295.5,88.8Z" class="e"/>
<path d="M537.8,106.9L549.6,106.8L534.9,100.7L523.1,100.7Z" fill="url(#g79)"/>
<path d="M537.8,106.9L549.6,106.8L534.9,100.7L523.1,100.7Z" class="e"/>
<path d="M511.1,101.1L523.1,100.7L508.6,95.3L496.5,95.6Z" fill="url(#g80)"/>
<path d="M511.1,101.1L523.1,100.7L508.6,95.3L496.5,95.6Z" class="e"/>
<path d="M484.4,96.4L496.5,95.6L482.1,90.9L469.9,91.6Z" fill="url(#g81)"/>
<path d="M484.4,96.4L496.5,95.6L482.1,90.9L469.9,91.6Z" class="e"/>
<path d="M457.5,92.6L469.9,91.6L455.6,87.5L443.1,88.5Z" fill="url(#g82)"/>
<path d="M457.5,92.6L469.9,91.6L455.6,87.5L443.1,88.5Z" class="e"/>
<path d="M430.6,89.9L443.1,88.5L429,85.2L416.3,86.5Z" fill="url(#g83)"/>
<path d="M430.6,89.9L443.1,88.5L429,85.2L416.3,86.5Z" class="e"/>
<path d="M214.4,105.3L228.4,101.1L215.6,103.2L201.6,107.3Z" fill="url(#g84)"/>
<path d="M214.4,105.3L228.4,101.1L215.6,103.2L201.6,107.3Z" class="e"/>
<path d="M552.7,113.9L564.4,113.7L549.6,106.8L537.8,106.9Z" fill="url(#g85)"/>
<path d="M552.7,113.9L564.4,113.7L549.6,106.8L537.8,106.9Z" class="e"/>
<path d="M403.6,88.2L416.3,86.5L402.3,83.9L389.5,85.5Z" fill="url(#g86)"/>
<path d="M403.6,88.2L416.3,86.5L402.3,83.9L389.5,85.5Z" class="e"/>
<path d="M241.3,99.7L255.2,95.9L242.2,97.4L228.4,101.1Z" fill="url(#g87)"/>
<path d="M241.3,99.7L255.2,95.9L242.2,97.4L228.4,101.1Z" class="e"/>
<path d="M376.5,87.5L389.5,85.5L375.6,83.5L362.6,85.5Z" fill="url(#g88)"/>
<path d="M376.5,87.5L389.5,85.5L375.6,83.5L362.6,85.5Z" class="e"/>
<path d="M268.3,95.2L282,91.8L268.8,92.6L255.2,95.9Z" fill="url(#g89)"/>
<path d="M268.3,95.2L282,91.8L268.8,92.6L255.2,95.9Z" class="e"/>
<path d="M349.5,87.9L362.6,85.5L348.9,84.3L335.7,86.6Z" fill="url(#g90)"/>
<path d="M349.5,87.9L362.6,85.5L348.9,84.3L335.7,86.6Z" class="e"/>
<path d="M295.4,91.7L308.9,88.7L295.5,88.8L282,91.8Z" fill="url(#g91)"/>
<path d="M295.4,91.7L308.9,88.7L295.5,88.8L282,91.8Z" class="e"/>
<path d="M322.4,89.3L335.7,86.6L322.2,86L308.9,88.7Z" fill="url(#g92)"/>
<path d="M322.4,89.3L335.7,86.6L322.2,86L308.9,88.7Z" class="e"/>
<path d="M525.9,107.4L537.8,106.9L523.1,100.7L511.1,101.1Z" fill="url(#g93)"/>
<path d="M525.9,107.4L537.8,106.9L523.1,100.7L511.1,101.1Z" class="e"/>
<path d="M499,101.9L511.1,101.1L496.5,95.6L484.4,96.4Z" fill="url(#g94)"/>
<path d="M499,101.9L511.1,101.1L496.5,95.6L484.4,96.4Z" class="e"/>
<path d="M472,97.4L484.4,96.4L469.9,91.6L457.5,92.6Z" fill="url(#g95)"/>
<path d="M472,97.4L484.4,96.4L469.9,91.6L457.5,92.6Z" class="e"/>
<path d="M444.9,94L457.5,92.6L443.1,88.5L430.6,89.9Z" fill="url(#g96)"/>
<path d="M444.9,94L457.5,92.6L443.1,88.5L430.6,89.9Z" class="e"/>
<path d="M567.6,121.7L579.3,121.4L564.4,113.7L552.7,113.9Z" fill="url(#g97)"/>
<path d="M567.6,121.7L579.3,121.4L564.4,113.7L552.7,113.9Z" class="e"/>
<path d="M200.2,109.8L214.4,105.3L201.6,107.3L187.5,111.8Z" fill="url(#g98)"/>
<path d="M200.2,109.8L214.4,105.3L201.6,107.3L187.5,111.8Z" class="e"/>
<path d="M417.8,91.6L430.6,89.9L416.3,86.5L403.6,88.2Z" fill="url(#g99)"/>
<path d="M417.8,91.6L430.6,89.9L416.3,86.5L403.6,88.2Z" class="e"/>
<path d="M227.3,103.9L241.3,99.7L228.4,101.1L214.4,105.3Z" fill="url(#g100)"/>
<path d="M227.3,103.9L241.3,99.7L228.4,101.1L214.4,105.3Z" class="e"/>
<path d="M390.6,90.2L403.6,88.2L389.5,85.5L376.5,87.5Z" fill="url(#g101)"/>
<path d="M390.6,90.2L403.6,88.2L389.5,85.5L376.5,87.5Z" class="e"/>
<path d="M540.7,114.5L552.7,113.9L537.8,106.9L525.9,107.4Z" fill="url(#g102)"/>
<path d="M540.7,114.5L552.7,113.9L537.8,106.9L525.9,107.4Z" class="e"/>
<path d="M254.5,99L268.3,95.2L255.2,95.9L241.3,99.7Z" fill="url(#g103)"/>
<path d="M254.5,99L268.3,95.2L255.2,95.9L241.3,99.7Z" class="e"/>
<path d="M363.4,89.9L376.5,87.5L362.6,85.5L349.5,87.9Z" fill="url(#g104)"/>
<path d="M363.4,89.9L376.5,87.5L362.6,85.5L349.5,87.9Z" class="e"/>
<path d="M281.7,95.2L295.4,91.7L282,91.8L268.3,95.2Z" fill="url(#g105)"/>
<path d="M281.7,95.2L295.4,91.7L282,91.8L268.3,95.2Z" class="e"/>
<path d="M336.2,90.6L349.5,87.9L335.7,86.6L322.4,89.3Z" fill="url(#g106)"/>
<path d="M336.2,90.6L349.5,87.9L335.7,86.6L322.4,89.3Z" class="e"/>
<path d="M308.9,92.4L322.4,89.3L308.9,88.7L295.4,91.7Z" fill="url(#g107)"/>
<path d="M308.9,92.4L322.4,89.3L308.9,88.7L295.4,91.7Z" class="e"/>
<path d="M513.7,108.2L525.9,107.4L511.1,101.1L499,101.9Z" fill="url(#g108)"/>
<path d="M513.7,108.2L525.9,107.4L511.1,101.1L499,101.9Z" class="e"/>
<path d="M486.6,103.1L499,101.9L484.4,96.4L472,97.4Z" fill="url(#g109)"/>
<path d="M486.6,103.1L499,101.9L484.4,96.4L472,97.4Z" class="e"/>
<path d="M582.7,130.2L594.4,129.9L579.3,121.4L567.6,121.7Z" fill="url(#g110)"/>
<path d="M582.7,130.2L594.4,129.9L579.3,121.4L567.6,121.7Z" class="e"/>
<path d="M459.4,98.9L472,97.4L457.5,92.6L444.9,94Z" fill="url(#g111)"/>
<path d="M459.4,98.9L472,97.4L457.5,92.6L444.9,94Z" class="e"/>
<path d="M432.2,95.8L444.9,94L430.6,89.9L417.8,91.6Z" fill="url(#g112)"/>
<path d="M432.2,95.8L444.9,94L430.6,89.9L417.8,91.6Z" class="e"/>
<path d="M185.9,114.8L200.2,109.8L187.5,111.8L173.2,116.8Z" fill="url(#g113)"/>
<path d="M185.9,114.8L200.2,109.8L187.5,111.8L173.2,116.8Z" class="e"/>
<path d="M555.8,122.3L567.6,121.7L552.7,113.9L540.7,114.5Z" fill="url(#g114)"/>
<path d="M555.8,122.3L567.6,121.7L552.7,113.9L540.7,114.5Z" class="e"/>
<path d="M404.8,93.7L417.8,91.6L403.6,88.2L390.6,90.2Z" fill="url(#g115)"/>
<path d="M404.8,93.7L417.8,91.6L403.6,88.2L390.6,90.2Z" class="e"/>
<path d="M213.2,108.5L227.3,103.9L214.4,105.3L200.2,109.8Z" fill="url(#g116)"/>
<path d="M213.2,108.5L227.3,103.9L214.4,105.3L200.2,109.8Z" class="e"/>
<path d="M377.5,92.7L390.6,90.2L376.5,87.5L363.4,89.9Z" fill="url(#g117)"/>
<path d="M377.5,92.7L390.6,90.2L376.5,87.5L363.4,89.9Z" class="e"/>
<path d="M240.5,103.3L254.5,99L241.3,99.7L227.3,103.9Z" fill="url(#g118)"/>
<path d="M240.5,103.3L254.5,99L241.3,99.7L227.3,103.9Z" class="e"/>
<path d="M350.1,92.7L363.4,89.9L349.5,87.9L336.2,90.6Z" fill="url(#g119)"/>
<path d="M350.1,92.7L363.4,89.9L349.5,87.9L336.2,90.6Z" class="e"/>
<path d="M267.8,99L281.7,95.2L268.3,95.2L254.5,99Z" fill="url(#g120)"/>
<path d="M267.8,99L281.7,95.2L268.3,95.2L254.5,99Z" class="e"/>
<path d="M528.6,115.4L540.7,114.5L525.9,107.4L513.7,108.2Z" fill="url(#g121)"/>
<path d="M528.6,115.4L540.7,114.5L525.9,107.4L513.7,108.2Z" class="e"/>
<path d="M322.7,93.8L336.2,90.6L322.4,89.3L308.9,92.4Z" fill="url(#g122)"/>
<path d="M322.7,93.8L336.2,90.6L322.4,89.3L308.9,92.4Z" class="e"/>
<path d="M295.2,95.9L308.9,92.4L295.4,91.7L281.7,95.2Z" fill="url(#g123)"/>
<path d="M295.2,95.9L308.9,92.4L295.4,91.7L281.7,95.2Z" class="e"/>
<path d="M501.4,109.5L513.7,108.2L499,101.9L486.6,103.1Z" fill="url(#g124)"/>
<path d="M501.4,109.5L513.7,108.2L499,101.9L486.6,103.1Z" class="e"/>
<path d="M597.9,139.6L609.5,139.2L594.4,129.9L582.7,130.2Z" fill="url(#g125)"/>
<path d="M597.9,139.6L609.5,139.2L594.4,129.9L582.7,130.2Z" class="e"/>
<path d="M474.1,104.6L486.6,103.1L472,97.4L459.4,98.9Z" fill="url(#g126)"/>
<path d="M474.1,104.6L486.6,103.1L472,97.4L459.4,98.9Z" class="e"/>
<path d="M570.9,130.9L582.7,130.2L567.6,121.7L555.8,122.3Z" fill="url(#g127)"/>
<path d="M570.9,130.9L582.7,130.2L567.6,121.7L555.8,122.3Z" class="e"/>
<path d="M446.7,100.7L459.4,98.9L444.9,94L432.2,95.8Z" fill="url(#g128)"/>
<path d="M446.7,100.7L459.4,98.9L444.9,94L432.2,95.8Z" class="e"/>
<path d="M171.4,120.2L185.9,114.8L173.2,116.8L158.8,122.1Z" fill="url(#g129)"/>
<path d="M171.4,120.2L185.9,114.8L173.2,116.8L158.8,122.1Z" class="e"/>
<path d="M419.2,98L432.2,95.8L417.8,91.6L404.8,93.7Z" fill="url(#g130)"/>
<path d="M419.2,98L432.2,95.8L417.8,91.6L404.8,93.7Z" class="e"/>
<path d="M198.8,113.5L213.2,108.5L200.2,109.8L185.9,114.8Z" fill="url(#g131)"/>
<path d="M198.8,113.5L213.2,108.5L200.2,109.8L185.9,114.8Z" class="e"/>
<path d="M543.7,123.3L555.8,122.3L540.7,114.5L528.6,115.4Z" fill="url(#g132)"/>
<path d="M543.7,123.3L555.8,122.3L540.7,114.5L528.6,115.4Z" class="e"/>
<path d="M391.7,96.2L404.8,93.7L390.6,90.2L377.5,92.7Z" fill="url(#g133)"/>
<path d="M391.7,96.2L404.8,93.7L390.6,90.2L377.5,92.7Z" class="e"/>
<path d="M226.3,107.9L240.5,103.3L227.3,103.9L213.2,108.5Z" fill="url(#g134)"/>
<path d="M226.3,107.9L240.5,103.3L227.3,103.9L213.2,108.5Z" class="e"/>
<path d="M364.2,95.5L377.5,92.7L363.4,89.9L350.1,92.7Z" fill="url(#g135)"/>
<path d="M364.2,95.5L377.5,92.7L363.4,89.9L350.1,92.7Z" class="e"/>
<path d="M253.8,103.3L267.8,99L254.5,99L240.5,103.3Z" fill="url(#g136)"/>
<path d="M253.8,103.3L267.8,99L254.5,99L240.5,103.3Z" class="e"/>
<path d="M336.6,95.9L350.1,92.7L336.2,90.6L322.7,93.8Z" fill="url(#g137)"/>
<path d="M336.6,95.9L350.1,92.7L336.2,90.6L322.7,93.8Z" class="e"/>
<path d="M613.3,149.8L624.8,149.3L609.5,139.2L597.9,139.6Z" fill="url(#g138)"/>
<path d="M613.3,149.8L624.8,149.3L609.5,139.2L597.9,139.6Z" class="e"/>
<path d="M281.4,99.8L295.2,95.9L281.7,95.2L267.8,99Z" fill="url(#g139)"/>
<path d="M281.4,99.8L295.2,95.9L281.7,95.2L267.8,99Z" class="e"/>
<path d="M309,97.3L322.7,93.8L308.9,92.4L295.2,95.9Z" fill="url(#g140)"/>
<path d="M309,97.3L322.7,93.8L308.9,92.4L295.2,95.9Z" class="e"/>
<path d="M516.4,116.6L528.6,115.4L513.7,108.2L501.4,109.5Z" fill="url(#g141)"/>
<path d="M516.4,116.6L528.6,115.4L513.7,108.2L501.4,109.5Z" class="e"/>
<path d="M489,111L501.4,109.5L486.6,103.1L474.1,104.6Z" fill="url(#g142)"/>
<path d="M489,111L501.4,109.5L486.6,103.1L474.1,104.6Z" class="e"/>
<path d="M586.2,140.4L597.9,139.6L582.7,130.2L570.9,130.9Z" fill="url(#g143)"/>
<path d="M586.2,140.4L597.9,139.6L582.7,130.2L570.9,130.9Z" class="e"/>
<path d="M461.4,106.5L474.1,104.6L459.4,98.9L446.7,100.7Z" fill="url(#g144)"/>
<path d="M461.4,106.5L474.1,104.6L459.4,98.9L446.7,100.7Z" class="e"/>
<path d="M558.9,132L570.9,130.9L555.8,122.3L543.7,123.3Z" fill="url(#g145)"/>
<path d="M558.9,132L570.9,130.9L555.8,122.3L543.7,123.3Z" class="e"/>
<path d="M433.8,103L446.7,100.7L432.2,95.8L419.2,98Z" fill="url(#g146)"/>
<path d="M433.8,103L446.7,100.7L432.2,95.8L419.2,98Z" class="e"/>
<path d="M156.8,126L171.4,120.2L158.8,122.1L144.1,127.9Z" fill="url(#g147)"/>
<path d="M156.8,126L171.4,120.2L158.8,122.1L144.1,127.9Z" class="e"/>
<path d="M628.8,160.7L640.3,160.1L624.8,149.3L613.3,149.8Z" fill="url(#g148)"/>
<path d="M628.8,160.7L640.3,160.1L624.8,149.3L613.3,149.8Z" class="e"/>
<path d="M406.1,100.5L419.2,98L404.8,93.7L391.7,96.2Z" fill="url(#g149)"/>
<path d="M406.1,100.5L419.2,98L404.8,93.7L391.7,96.2Z" class="e"/>
<path d="M184.3,119L198.8,113.5L185.9,114.8L171.4,120.2Z" fill="url(#g150)"/>
<path d="M184.3,119L198.8,113.5L185.9,114.8L171.4,120.2Z" class="e"/>
<path d="M378.4,99.1L391.7,96.2L377.5,92.7L364.2,95.5Z" fill="url(#g151)"/>
<path d="M378.4,99.1L391.7,96.2L377.5,92.7L364.2,95.5Z" class="e"/>
<path d="M212,113L226.3,107.9L213.2,108.5L198.8,113.5Z" fill="url(#g152)"/>
<path d="M212,113L226.3,107.9L213.2,108.5L198.8,113.5Z" class="e"/>
<path d="M531.5,124.6L543.7,123.3L528.6,115.4L516.4,116.6Z" fill="url(#g153)"/>
<path d="M531.5,124.6L543.7,123.3L528.6,115.4L516.4,116.6Z" class="e"/>
<path d="M350.7,98.8L364.2,95.5L350.1,92.7L336.6,95.9Z" fill="url(#g154)"/>
<path d="M350.7,98.8L364.2,95.5L350.1,92.7L336.6,95.9Z" class="e"/>
<path d="M239.6,108L253.8,103.3L240.5,103.3L226.3,107.9Z" fill="url(#g155)"/>
<path d="M239.6,108L253.8,103.3L240.5,103.3L226.3,107.9Z" class="e"/>
<path d="M322.9,99.5L336.6,95.9L322.7,93.8L309,97.3Z" fill="url(#g156)"/>
<path d="M322.9,99.5L336.6,95.9L322.7,93.8L309,97.3Z" class="e"/>
<path d="M267.4,104.1L281.4,99.8L267.8,99L253.8,103.3Z" fill="url(#g157)"/>
<path d="M267.4,104.1L281.4,99.8L267.8,99L253.8,103.3Z" class="e"/>
<path d="M295.1,101.3L309,97.3L295.2,95.9L281.4,99.8Z" fill="url(#g158)"/>
<path d="M295.1,101.3L309,97.3L295.2,95.9L281.4,99.8Z" class="e"/>
<path d="M601.6,150.6L613.3,149.8L597.9,139.6L586.2,140.4Z" fill="url(#g159)"/>
<path d="M601.6,150.6L613.3,149.8L597.9,139.6L586.2,140.4Z" class="e"/>
<path d="M503.9,118.3L516.4,116.6L501.4,109.5L489,111Z" fill="url(#g160)"/>
<path d="M503.9,118.3L516.4,116.6L501.4,109.5L489,111Z" class="e"/>
<path d="M476.3,113L489,111L474.1,104.6L461.4,106.5Z" fill="url(#g161)"/>
<path d="M476.3,113L489,111L474.1,104.6L461.4,106.5Z" class="e"/>
<path d="M574.2,141.5L586.2,140.4L570.9,130.9L558.9,132Z" fill="url(#g162)"/>
<path d="M574.2,141.5L586.2,140.4L570.9,130.9L558.9,132Z" class="e"/>
<path d="M644.4,172.5L655.8,171.9L640.3,160.1L628.8,160.7Z" fill="url(#g163)"/>
<path d="M644.4,172.5L655.8,171.9L640.3,160.1L628.8,160.7Z" class="e"/>
<path d="M448.6,108.8L461.4,106.5L446.7,100.7L433.8,103Z" fill="url(#g164)"/>
<path d="M448.6,108.8L461.4,106.5L446.7,100.7L433.8,103Z" class="e"/>
<path d="M142,132.3L156.8,126L144.1,127.9L129.4,134.1Z" fill="url(#g165)"/>
<path d="M142,132.3L156.8,126L144.1,127.9L129.4,134.1Z" class="e"/>
<path d="M420.7,105.6L433.8,103L419.2,98L406.1,100.5Z" fill="url(#g166)"/>
<path d="M420.7,105.6L433.8,103L419.2,98L406.1,100.5Z" class="e"/>
<path d="M546.7,133.4L558.9,132L543.7,123.3L531.5,124.6Z" fill="url(#g167)"/>
<path d="M546.7,133.4L558.9,132L543.7,123.3L531.5,124.6Z" class="e"/>
<path d="M169.7,124.8L184.3,119L171.4,120.2L156.8,126Z" fill="url(#g168)"/>
<path d="M169.7,124.8L184.3,119L171.4,120.2L156.8,126Z" class="e"/>
<path d="M392.9,103.5L406.1,100.5L391.7,96.2L378.4,99.1Z" fill="url(#g169)"/>
<path d="M392.9,103.5L406.1,100.5L391.7,96.2L378.4,99.1Z" class="e"/>
<path d="M197.5,118.4L212,113L198.8,113.5L184.3,119Z" fill="url(#g170)"/>
<path d="M197.5,118.4L212,113L198.8,113.5L184.3,119Z" class="e"/>
<path d="M617.1,161.7L628.8,160.7L613.3,149.8L601.6,150.6Z" fill="url(#g171)"/>
<path d="M617.1,161.7L628.8,160.7L613.3,149.8L601.6,150.6Z" class="e"/>
<path d="M365,102.4L378.4,99.1L364.2,95.5L350.7,98.8Z" fill="url(#g172)"/>
<path d="M365,102.4L378.4,99.1L364.2,95.5L350.7,98.8Z" class="e"/>
<path d="M225.3,113.1L239.6,108L226.3,107.9L212,113Z" fill="url(#g173)"/>
<path d="M225.3,113.1L239.6,108L226.3,107.9L212,113Z" class="e"/>
<path d="M337,102.4L350.7,98.8L336.6,95.9L322.9,99.5Z" fill="url(#g174)"/>
<path d="M337,102.4L350.7,98.8L336.6,95.9L322.9,99.5Z" class="e"/>
<path d="M519.1,126.3L531.5,124.6L516.4,116.6L503.9,118.3Z" fill="url(#g175)"/>
<path d="M519.1,126.3L531.5,124.6L516.4,116.6L503.9,118.3Z" class="e"/>
<path d="M253.2,108.8L267.4,104.1L253.8,103.3L239.6,108Z" fill="url(#g176)"/>
<path d="M253.2,108.8L267.4,104.1L253.8,103.3L239.6,108Z" class="e"/>
<path d="M309.1,103.5L322.9,99.5L309,97.3L295.1,101.3Z" fill="url(#g177)"/>
<path d="M309.1,103.5L322.9,99.5L309,97.3L295.1,101.3Z" class="e"/>
<path d="M281.1,105.6L295.1,101.3L281.4,99.8L267.4,104.1Z" fill="url(#g178)"/>
<path d="M281.1,105.6L295.1,101.3L281.4,99.8L267.4,104.1Z" class="e"/>
<path d="M589.7,151.8L601.6,150.6L586.2,140.4L574.2,141.5Z" fill="url(#g179)"/>
<path d="M589.7,151.8L601.6,150.6L586.2,140.4L574.2,141.5Z" class="e"/>
<path d="M491.3,120.3L503.9,118.3L489,111L476.3,113Z" fill="url(#g180)"/>
<path d="M491.3,120.3L503.9,118.3L489,111L476.3,113Z" class="e"/>
<path d="M463.4,115.4L476.3,113L461.4,106.5L448.6,108.8Z" fill="url(#g181)"/>
<path d="M463.4,115.4L476.3,113L461.4,106.5L448.6,108.8Z" class="e"/>
<path d="M562.1,143L574.2,141.5L558.9,132L546.7,133.4Z" fill="url(#g182)"/>
<path d="M562.1,143L574.2,141.5L558.9,132L546.7,133.4Z" class="e"/>
<path d="M127,139L142,132.3L129.4,134.1L114.4,140.8Z" fill="url(#g183)"/>
<path d="M127,139L142,132.3L129.4,134.1L114.4,140.8Z" class="e"/>
<path d="M435.5,111.4L448.6,108.8L433.8,103L420.7,105.6Z" fill="url(#g184)"/>
<path d="M435.5,111.4L448.6,108.8L433.8,103L420.7,105.6Z" class="e"/>
<path d="M632.7,173.6L644.4,172.5L628.8,160.7L617.1,161.7Z" fill="url(#g185)"/>
<path d="M632.7,173.6L644.4,172.5L628.8,160.7L617.1,161.7Z" class="e"/>
<path d="M154.9,131.1L169.7,124.8L156.8,126L142,132.3Z" fill="url(#g186)"/>
<path d="M154.9,131.1L169.7,124.8L156.8,126L142,132.3Z" class="e"/>
<path d="M407.5,108.6L420.7,105.6L406.1,100.5L392.9,103.5Z" fill="url(#g187)"/>
<path d="M407.5,108.6L420.7,105.6L406.1,100.5L392.9,103.5Z" class="e"/>
<path d="M534.3,135.2L546.7,133.4L531.5,124.6L519.1,126.3Z" fill="url(#g188)"/>
<path d="M534.3,135.2L546.7,133.4L531.5,124.6L519.1,126.3Z" class="e"/>
<path d="M182.8,124.3L197.5,118.4L184.3,119L169.7,124.8Z" fill="url(#g189)"/>
<path d="M182.8,124.3L197.5,118.4L184.3,119L169.7,124.8Z" class="e"/>
<path d="M379.4,106.8L392.9,103.5L378.4,99.1L365,102.4Z" fill="url(#g190)"/>
<path d="M379.4,106.8L392.9,103.5L378.4,99.1L365,102.4Z" class="e"/>
<path d="M210.8,118.6L225.3,113.1L212,113L197.5,118.4Z" fill="url(#g191)"/>
<path d="M210.8,118.6L225.3,113.1L212,113L197.5,118.4Z" class="e"/>
<path d="M351.3,106.1L365,102.4L350.7,98.8L337,102.4Z" fill="url(#g192)"/>
<path d="M351.3,106.1L365,102.4L350.7,98.8L337,102.4Z" class="e"/>
<path d="M605.2,163L617.1,161.7L601.6,150.6L589.7,151.8Z" fill="url(#g193)"/>
<path d="M605.2,163L617.1,161.7L601.6,150.6L589.7,151.8Z" class="e"/>
<path d="M238.8,114L253.2,108.8L239.6,108L225.3,113.1Z" fill="url(#g194)"/>
<path d="M238.8,114L253.2,108.8L239.6,108L225.3,113.1Z" class="e"/>
<path d="M323.2,106.5L337,102.4L322.9,99.5L309.1,103.5Z" fill="url(#g195)"/>
<path d="M323.2,106.5L337,102.4L322.9,99.5L309.1,103.5Z" class="e"/>
<path d="M266.9,110.4L281.1,105.6L267.4,104.1L253.2,108.8Z" fill="url(#g196)"/>
<path d="M266.9,110.4L281.1,105.6L267.4,104.1L253.2,108.8Z" class="e"/>
<path d="M295,107.9L309.1,103.5L295.1,101.3L281.1,105.6Z" fill="url(#g197)"/>
<path d="M295,107.9L309.1,103.5L295.1,101.3L281.1,105.6Z" class="e"/>
<path d="M506.5,128.5L519.1,126.3L503.9,118.3L491.3,120.3Z" fill="url(#g198)"/>
<path d="M506.5,128.5L519.1,126.3L503.9,118.3L491.3,120.3Z" class="e"/>
<path d="M478.5,122.8L491.3,120.3L476.3,113L463.4,115.4Z" fill="url(#g199)"/>
<path d="M478.5,122.8L491.3,120.3L476.3,113L463.4,115.4Z" class="e"/>
<path d="M577.6,153.5L589.7,151.8L574.2,141.5L562.1,143Z" fill="url(#g200)"/>
<path d="M577.6,153.5L589.7,151.8L574.2,141.5L562.1,143Z" class="e"/>
<path d="M450.4,118.1L463.4,115.4L448.6,108.8L435.5,111.4Z" fill="url(#g201)"/>
<path d="M450.4,118.1L463.4,115.4L448.6,108.8L435.5,111.4Z" class="e"/>
<path d="M111.9,146.1L127,139L114.4,140.8L99.3,147.8Z" fill="url(#g202)"/>
<path d="M111.9,146.1L127,139L114.4,140.8L99.3,147.8Z" class="e"/>
<path d="M549.7,144.9L562.1,143L546.7,133.4L534.3,135.2Z" fill="url(#g203)"/>
<path d="M549.7,144.9L562.1,143L546.7,133.4L534.3,135.2Z" class="e"/>
<path d="M422.3,114.5L435.5,111.4L420.7,105.6L407.5,108.6Z" fill="url(#g204)"/>
<path d="M422.3,114.5L435.5,111.4L420.7,105.6L407.5,108.6Z" class="e"/>
<path d="M139.9,137.9L154.9,131.1L142,132.3L127,139Z" fill="url(#g205)"/>
<path d="M139.9,137.9L154.9,131.1L142,132.3L127,139Z" class="e"/>
<path d="M620.9,175L632.7,173.6L617.1,161.7L605.2,163Z" fill="url(#g206)"/>
<path d="M620.9,175L632.7,173.6L617.1,161.7L605.2,163Z" class="e"/>
<path d="M394,112L407.5,108.6L392.9,103.5L379.4,106.8Z" fill="url(#g207)"/>
<path d="M394,112L407.5,108.6L392.9,103.5L379.4,106.8Z" class="e"/>
<path d="M167.9,130.7L182.8,124.3L169.7,124.8L154.9,131.1Z" fill="url(#g208)"/>
<path d="M167.9,130.7L182.8,124.3L169.7,124.8L154.9,131.1Z" class="e"/>
<path d="M521.8,137.4L534.3,135.2L519.1,126.3L506.5,128.5Z" fill="url(#g209)"/>
<path d="M521.8,137.4L534.3,135.2L519.1,126.3L506.5,128.5Z" class="e"/>
<path d="M365.8,110.6L379.4,106.8L365,102.4L351.3,106.1Z" fill="url(#g210)"/>
<path d="M365.8,110.6L379.4,106.8L365,102.4L351.3,106.1Z" class="e"/>
<path d="M196.1,124.6L210.8,118.6L197.5,118.4L182.8,124.3Z" fill="url(#g211)"/>
<path d="M196.1,124.6L210.8,118.6L197.5,118.4L182.8,124.3Z" class="e"/>
<path d="M337.5,110.2L351.3,106.1L337,102.4L323.2,106.5Z" fill="url(#g212)"/>
<path d="M337.5,110.2L351.3,106.1L337,102.4L323.2,106.5Z" class="e"/>
<path d="M224.3,119.6L238.8,114L225.3,113.1L210.8,118.6Z" fill="url(#g213)"/>
<path d="M224.3,119.6L238.8,114L225.3,113.1L210.8,118.6Z" class="e"/>
<circle cx="379.4" cy="102.1" r="5.6" fill="#c20000" stroke="#300000" stroke-width="1"/>
<path d="M309.2,110.9L323.2,106.5L309.1,103.5L295,107.9Z" fill="url(#g214)"/>
<path d="M309.2,110.9L323.2,106.5L309.1,103.5L295,107.9Z" class="e"/>
<path d="M252.5,115.6L266.9,110.4L253.2,108.8L238.8,114Z" fill="url(#g215)"/>
<path d="M252.5,115.6L266.9,110.4L253.2,108.8L238.8,114Z" class="e"/>
<path d="M280.8,112.7L295,107.9L281.1,105.6L266.9,110.4Z" fill="url(#g216)"/>
<path d="M280.8,112.7L295,107.9L281.1,105.6L266.9,110.4Z" class="e"/>
<path d="M593.2,164.7L605.2,163L589.7,151.8L577.6,153.5Z" fill="url(#g217)"/>
<path d="M593.2,164.7L605.2,163L589.7,151.8L577.6,153.5Z" class="e"/>
<path d="M493.7,131L506.5,128.5L491.3,120.3L478.5,122.8Z" fill="url(#g218)"/>
<path d="M493.7,131L506.5,128.5L491.3,120.3L478.5,122.8Z" class="e"/>
<path d="M465.5,125.6L478.5,122.8L463.4,115.4L450.4,118.1Z" fill="url(#g219)"/>
<path d="M465.5,125.6L478.5,122.8L463.4,115.4L450.4,118.1Z" class="e"/>
<path d="M565.3,155.5L577.6,153.5L562.1,143L549.7,144.9Z" fill="url(#g220)"/>
<path d="M565.3,155.5L577.6,153.5L562.1,143L549.7,144.9Z" class="e"/>
<path d="M437.2,121.3L450.4,118.1L435.5,111.4L422.3,114.5Z" fill="url(#g221)"/>
<path d="M437.2,121.3L450.4,118.1L435.5,111.4L422.3,114.5Z" class="e"/>
<path d="M124.7,145.1L139.9,137.9L127,139L111.9,146.1Z" fill="url(#g222)"/>
<path d="M124.7,145.1L139.9,137.9L127,139L111.9,146.1Z" class="e"/>
<path d="M408.8,118L422.3,114.5L407.5,108.6L394,112Z" fill="url(#g223)"/>
<path d="M408.8,118L422.3,114.5L407.5,108.6L394,112Z" class="e"/>
<path d="M537.2,147.2L549.7,144.9L534.3,135.2L521.8,137.4Z" fill="url(#g224)"/>
<path d="M537.2,147.2L549.7,144.9L534.3,135.2L521.8,137.4Z" class="e"/>
<path d="M152.9,137.5L167.9,130.7L154.9,131.1L139.9,137.9Z" fill="url(#g225)"/>
<path d="M152.9,137.5L167.9,130.7L154.9,131.1L139.9,137.9Z" class="e"/>
<path d="M608.9,176.8L620.9,175L605.2,163L593.2,164.7Z" fill="url(#g226)"/>
<path d="M608.9,176.8L620.9,175L605.2,163L593.2,164.7Z" class="e"/>
<path d="M380.4,115.8L394,112L379.4,106.8L365.8,110.6Z" fill="url(#g227)"/>
<path d="M380.4,115.8L394,112L379.4,106.8L365.8,110.6Z" class="e"/>
<path d="M181.2,131L196.1,124.6L182.8,124.3L167.9,130.7Z" fill="url(#g228)"/>
<path d="M181.2,131L196.1,124.6L182.8,124.3L167.9,130.7Z" class="e"/>
<path d="M352,114.8L365.8,110.6L351.3,106.1L337.5,110.2Z" fill="url(#g229)"/>
<path d="M352,114.8L365.8,110.6L351.3,106.1L337.5,110.2Z" class="e"/>
<path d="M209.6,125.6L224.3,119.6L210.8,118.6L196.1,124.6Z" fill="url(#g230)"/>
<path d="M209.6,125.6L224.3,119.6L210.8,118.6L196.1,124.6Z" class="e"/>
<path d="M509,140L521.8,137.4L506.5,128.5L493.7,131Z" fill="url(#g231)"/>
<path d="M509,140L521.8,137.4L506.5,128.5L493.7,131Z" class="e"/>
<path d="M323.5,114.8L337.5,110.2L323.2,106.5L309.2,110.9Z" fill="url(#g232)"/>
<path d="M323.5,114.8L337.5,110.2L323.2,106.5L309.2,110.9Z" class="e"/>
<path d="M238,121.3L252.5,115.6L238.8,114L224.3,119.6Z" fill="url(#g233)"/>
<path d="M238,121.3L252.5,115.6L238.8,114L224.3,119.6Z" class="e"/>
<path d="M295,115.8L309.2,110.9L295,107.9L280.8,112.7Z" fill="url(#g234)"/>
<path d="M295,115.8L309.2,110.9L295,107.9L280.8,112.7Z" class="e"/>
<path d="M266.5,118L280.8,112.7L266.9,110.4L252.5,115.6Z" fill="url(#g235)"/>
<path d="M266.5,118L280.8,112.7L266.9,110.4L252.5,115.6Z" class="e"/>
<path d="M581,166.8L593.2,164.7L577.6,153.5L565.3,155.5Z" fill="url(#g236)"/>
<path d="M581,166.8L593.2,164.7L577.6,153.5L565.3,155.5Z" class="e"/>
<path d="M480.7,133.9L493.7,131L478.5,122.8L465.5,125.6Z" fill="url(#g237)"/>
<path d="M480.7,133.9L493.7,131L478.5,122.8L465.5,125.6Z" class="e"/>
<path d="M452.3,128.8L465.5,125.6L450.4,118.1L437.2,121.3Z" fill="url(#g238)"/>
<path d="M452.3,128.8L465.5,125.6L450.4,118.1L437.2,121.3Z" class="e"/>
<path d="M552.8,157.8L565.3,155.5L549.7,144.9L537.2,147.2Z" fill="url(#g239)"/>
<path d="M552.8,157.8L565.3,155.5L549.7,144.9L537.2,147.2Z" class="e"/>
<path d="M423.8,124.8L437.2,121.3L422.3,114.5L408.8,118Z" fill="url(#g240)"/>
<path d="M423.8,124.8L437.2,121.3L422.3,114.5L408.8,118Z" class="e"/>
<path d="M137.7,144.8L152.9,137.5L139.9,137.9L124.7,145.1Z" fill="url(#g241)"/>
<path d="M137.7,144.8L152.9,137.5L139.9,137.9L124.7,145.1Z" class="e"/>
<path d="M395.2,121.9L408.8,118L394,112L380.4,115.8Z" fill="url(#g242)"/>
<path d="M395.2,121.9L408.8,118L394,112L380.4,115.8Z" class="e"/>
<path d="M524.5,149.9L537.2,147.2L521.8,137.4L509,140Z" fill="url(#g243)"/>
<path d="M524.5,149.9L537.2,147.2L521.8,137.4L509,140Z" class="e"/>
<path d="M166.2,137.9L181.2,131L167.9,130.7L152.9,137.5Z" fill="url(#g244)"/>
<path d="M166.2,137.9L181.2,131L167.9,130.7L152.9,137.5Z" class="e"/>
<path d="M366.6,120.1L380.4,115.8L365.8,110.6L352,114.8Z" fill="url(#g245)"/>
<path d="M366.6,120.1L380.4,115.8L365.8,110.6L352,114.8Z" class="e"/>
<path d="M194.7,132.1L209.6,125.6L196.1,124.6L181.2,131Z" fill="url(#g246)"/>
<path d="M194.7,132.1L209.6,125.6L196.1,124.6L181.2,131Z" class="e"/>
<path d="M596.8,179.1L608.9,176.8L593.2,164.7L581,166.8Z" fill="url(#g247)"/>
<path d="M596.8,179.1L608.9,176.8L593.2,164.7L581,166.8Z" class="e"/>
<path d="M338,119.4L352,114.8L337.5,110.2L323.5,114.8Z" fill="url(#g248)"/>
<path d="M338,119.4L352,114.8L337.5,110.2L323.5,114.8Z" class="e"/>
<path d="M223.3,127.4L238,121.3L224.3,119.6L209.6,125.6Z" fill="url(#g249)"/>
<path d="M223.3,127.4L238,121.3L224.3,119.6L209.6,125.6Z" class="e"/>
<path d="M309.3,119.7L323.5,114.8L309.2,110.9L295,115.8Z" fill="url(#g250)"/>
<path d="M309.3,119.7L323.5,114.8L309.2,110.9L295,115.8Z" class="e"/>
<path d="M251.9,123.7L266.5,118L252.5,115.6L238,121.3Z" fill="url(#g251)"/>
<path d="M251.9,123.7L266.5,118L252.5,115.6L238,121.3Z" class="e"/>
<path d="M280.6,121.2L295,115.8L280.8,112.7L266.5,118Z" fill="url(#g252)"/>
<path d="M280.6,121.2L295,115.8L280.8,112.7L266.5,118Z" class="e"/>
<path d="M496.1,143L509,140L493.7,131L480.7,133.9Z" fill="url(#g253)"/>
<path d="M496.1,143L509,140L493.7,131L480.7,133.9Z" class="e"/>
<path d="M568.5,169.3L581,166.8L565.3,155.5L552.8,157.8Z" fill="url(#g254)"/>
<path d="M568.5,169.3L581,166.8L565.3,155.5L552.8,157.8Z" class="e"/>
<path d="M467.6,137.2L480.7,133.9L465.5,125.6L452.3,128.8Z" fill="url(#g255)"/>
<path d="M467.6,137.2L480.7,133.9L465.5,125.6L452.3,128.8Z" class="e"/>
<path d="M439,132.5L452.3,128.8L437.2,121.3L423.8,124.8Z" fill="url(#g256)"/>
<path d="M439,132.5L452.3,128.8L437.2,121.3L423.8,124.8Z" class="e"/>
<path d="M540.2,160.7L552.8,157.8L537.2,147.2L524.5,149.9Z" fill="url(#g257)"/>
<path d="M540.2,160.7L552.8,157.8L537.2,147.2L524.5,149.9Z" class="e"/>
<path d="M410.2,128.8L423.8,124.8L408.8,118L395.2,121.9Z" fill="url(#g258)"/>
<path d="M410.2,128.8L423.8,124.8L408.8,118L395.2,121.9Z" class="e"/>
<path d="M381.5,126.3L395.2,121.9L380.4,115.8L366.6,120.1Z" fill="url(#g259)"/>
<path d="M381.5,126.3L395.2,121.9L380.4,115.8L366.6,120.1Z" class="e"/>
<path d="M150.9,145.2L166.2,137.9L152.9,137.5L137.7,144.8Z" fill="url(#g260)"/>
<path d="M150.9,145.2L166.2,137.9L152.9,137.5L137.7,144.8Z" class="e"/>
<path d="M511.7,153L524.5,149.9L509,140L496.1,143Z" fill="url(#g261)"/>
<path d="M511.7,153L524.5,149.9L509,140L496.1,143Z" class="e"/>
<path d="M352.6,124.8L366.6,120.1L352,114.8L338,119.4Z" fill="url(#g262)"/>
<path d="M352.6,124.8L366.6,120.1L352,114.8L338,119.4Z" class="e"/>
<path d="M179.6,139L194.7,132.1L181.2,131L166.2,137.9Z" fill="url(#g263)"/>
<path d="M179.6,139L194.7,132.1L181.2,131L166.2,137.9Z" class="e"/>
<path d="M323.8,124.4L338,119.4L323.5,114.8L309.3,119.7Z" fill="url(#g264)"/>
<path d="M323.8,124.4L338,119.4L323.5,114.8L309.3,119.7Z" class="e"/>
<path d="M208.4,133.9L223.3,127.4L209.6,125.6L194.7,132.1Z" fill="url(#g265)"/>
<path d="M208.4,133.9L223.3,127.4L209.6,125.6L194.7,132.1Z" class="e"/>
<path d="M294.9,125.1L309.3,119.7L295,115.8L280.6,121.2Z" fill="url(#g266)"/>
<path d="M294.9,125.1L309.3,119.7L295,115.8L280.6,121.2Z" class="e"/>
<path d="M237.2,129.9L251.9,123.7L238,121.3L223.3,127.4Z" fill="url(#g267)"/>
<path d="M237.2,129.9L251.9,123.7L238,121.3L223.3,127.4Z" class="e"/>
<path d="M584.4,181.7L596.8,179.1L581,166.8L568.5,169.3Z" fill="url(#g268)"/>
<path d="M584.4,181.7L596.8,179.1L581,166.8L568.5,169.3Z" class="e"/>
<path d="M266,127L280.6,121.2L266.5,118L251.9,123.7Z" fill="url(#g269)"/>
<path d="M266,127L280.6,121.2L266.5,118L251.9,123.7Z" class="e"/>
<path d="M483,146.5L496.1,143L480.7,133.9L467.6,137.2Z" fill="url(#g270)"/>
<path d="M483,146.5L496.1,143L480.7,133.9L467.6,137.2Z" class="e"/>
<path d="M454.2,141L467.6,137.2L452.3,128.8L439,132.5Z" fill="url(#g271)"/>
<path d="M454.2,141L467.6,137.2L452.3,128.8L439,132.5Z" class="e"/>
<path d="M555.9,172.2L568.5,169.3L552.8,157.8L540.2,160.7Z" fill="url(#g272)"/>
<path d="M555.9,172.2L568.5,169.3L552.8,157.8L540.2,160.7Z" class="e"/>
<path d="M425.4,136.6L439,132.5L423.8,124.8L410.2,128.8Z" fill="url(#g273)"/>
<path d="M425.4,136.6L439,132.5L423.8,124.8L410.2,128.8Z" class="e"/>
<path d="M527.3,163.9L540.2,160.7L524.5,149.9L511.7,153Z" fill="url(#g274)"/>
<path d="M527.3,163.9L540.2,160.7L524.5,149.9L511.7,153Z" class="e"/>
<path d="M396.5,133.3L410.2,128.8L395.2,121.9L381.5,126.3Z" fill="url(#g275)"/>
<path d="M396.5,133.3L410.2,128.8L395.2,121.9L381.5,126.3Z" class="e"/>
<path d="M367.5,131L381.5,126.3L366.6,120.1L352.6,124.8Z" fill="url(#g276)"/>
<path d="M367.5,131L381.5,126.3L366.6,120.1L352.6,124.8Z" class="e"/>
<path d="M164.4,146.4L179.6,139L166.2,137.9L150.9,145.2Z" fill="url(#g277)"/>
<path d="M164.4,146.4L179.6,139L166.2,137.9L150.9,145.2Z" class="e"/>
<path d="M338.5,129.9L352.6,124.8L338,119.4L323.8,124.4Z" fill="url(#g278)"/>
<path d="M338.5,129.9L352.6,124.8L338,119.4L323.8,124.4Z" class="e"/>
<path d="M498.6,156.5L511.7,153L496.1,143L483,146.5Z" fill="url(#g279)"/>
<path d="M498.6,156.5L511.7,153L496.1,143L483,146.5Z" class="e"/>
<path d="M193.3,140.9L208.4,133.9L194.7,132.1L179.6,139Z" fill="url(#g280)"/>
<path d="M193.3,140.9L208.4,133.9L194.7,132.1L179.6,139Z" class="e"/>
<path d="M309.4,129.9L323.8,124.4L309.3,119.7L294.9,125.1Z" fill="url(#g281)"/>
<path d="M309.4,129.9L323.8,124.4L309.3,119.7L294.9,125.1Z" class="e"/>
<path d="M222.3,136.5L237.2,129.9L223.3,127.4L208.4,133.9Z" fill="url(#g282)"/>
<path d="M222.3,136.5L237.2,129.9L223.3,127.4L208.4,133.9Z" class="e"/>
<path d="M280.3,131L294.9,125.1L280.6,121.2L266,127Z" fill="url(#g283)"/>
<path d="M280.3,131L294.9,125.1L280.6,121.2L266,127Z" class="e"/>
<path d="M251.3,133.2L266,127L251.9,123.7L237.2,129.9Z" fill="url(#g284)"/>
<path d="M251.3,133.2L266,127L251.9,123.7L237.2,129.9Z" class="e"/>
<path d="M571.8,184.7L584.4,181.7L568.5,169.3L555.9,172.2Z" fill="url(#g285)"/>
<path d="M571.8,184.7L584.4,181.7L568.5,169.3L555.9,172.2Z" class="e"/>
<path d="M469.7,150.3L483,146.5L467.6,137.2L454.2,141Z" fill="url(#g286)"/>
<path d="M469.7,150.3L483,146.5L467.6,137.2L454.2,141Z" class="e"/>
<path d="M440.7,145.2L454.2,141L439,132.5L425.4,136.6Z" fill="url(#g287)"/>
<path d="M440.7,145.2L454.2,141L439,132.5L425.4,136.6Z" class="e"/>
<path d="M543.1,175.6L555.9,172.2L540.2,160.7L527.3,163.9Z" fill="url(#g288)"/>
<path d="M543.1,175.6L555.9,172.2L540.2,160.7L527.3,163.9Z" class="e"/>
<path d="M411.7,141.1L425.4,136.6L410.2,128.8L396.5,133.3Z" fill="url(#g289)"/>
<path d="M411.7,141.1L425.4,136.6L410.2,128.8L396.5,133.3Z" class="e"/>
<path d="M382.5,138.1L396.5,133.3L381.5,126.3L367.5,131Z" fill="url(#g290)"/>
<path d="M382.5,138.1L396.5,133.3L381.5,126.3L367.5,131Z" class="e"/>
<path d="M514.3,167.5L527.3,163.9L511.7,153L498.6,156.5Z" fill="url(#g291)"/>
<path d="M514.3,167.5L527.3,163.9L511.7,153L498.6,156.5Z" class="e"/>
<path d="M353.3,136.3L367.5,131L352.6,124.8L338.5,129.9Z" fill="url(#g292)"/>
<path d="M353.3,136.3L367.5,131L352.6,124.8L338.5,129.9Z" class="e"/>
<path d="M178,148.4L193.3,140.9L179.6,139L164.4,146.4Z" fill="url(#g293)"/>
<path d="M178,148.4L193.3,140.9L179.6,139L164.4,146.4Z" class="e"/>
<path d="M324.1,135.5L338.5,129.9L323.8,124.4L309.4,129.9Z" fill="url(#g294)"/>
<path d="M324.1,135.5L338.5,129.9L323.8,124.4L309.4,129.9Z" class="e"/>
<path d="M207.2,143.6L222.3,136.5L208.4,133.9L193.3,140.9Z" fill="url(#g295)"/>
<path d="M207.2,143.6L222.3,136.5L208.4,133.9L193.3,140.9Z" class="e"/>
<path d="M294.9,135.9L309.4,129.9L294.9,125.1L280.3,131Z" fill="url(#g296)"/>
<path d="M294.9,135.9L309.4,129.9L294.9,125.1L280.3,131Z" class="e"/>
<path d="M485.3,160.5L498.6,156.5L483,146.5L469.7,150.3Z" fill="url(#g297)"/>
<path d="M485.3,160.5L498.6,156.5L483,146.5L469.7,150.3Z" class="e"/>
<path d="M236.4,139.9L251.3,133.2L237.2,129.9L222.3,136.5Z" fill="url(#g298)"/>
<path d="M236.4,139.9L251.3,133.2L237.2,129.9L222.3,136.5Z" class="e"/>
<path d="M265.6,137.3L280.3,131L266,127L251.3,133.2Z" fill="url(#g299)"/>
<path d="M265.6,137.3L280.3,131L266,127L251.3,133.2Z" class="e"/>
<path d="M559.1,188.1L571.8,184.7L555.9,172.2L543.1,175.6Z" fill="url(#g300)"/>
<path d="M559.1,188.1L571.8,184.7L555.9,172.2L543.1,175.6Z" class="e"/>
<path d="M456.2,154.6L469.7,150.3L454.2,141L440.7,145.2Z" fill="url(#g301)"/>
<path d="M456.2,154.6L469.7,150.3L454.2,141L440.7,145.2Z" class="e"/>
<path d="M427,149.8L440.7,145.2L425.4,136.6L411.7,141.1Z" fill="url(#g302)"/>
<path d="M427,149.8L440.7,145.2L425.4,136.6L411.7,141.1Z" class="e"/>
<path d="M530.2,179.3L543.1,175.6L527.3,163.9L514.3,167.5Z" fill="url(#g303)"/>
<path d="M530.2,179.3L543.1,175.6L527.3,163.9L514.3,167.5Z" class="e"/>
<path d="M397.7,146L411.7,141.1L396.5,133.3L382.5,138.1Z" fill="url(#g304)"/>
<path d="M397.7,146L411.7,141.1L396.5,133.3L382.5,138.1Z" class="e"/>
<path d="M368.4,143.4L382.5,138.1L367.5,131L353.3,136.3Z" fill="url(#g305)"/>
<path d="M368.4,143.4L382.5,138.1L367.5,131L353.3,136.3Z" class="e"/>
<path d="M501.1,171.6L514.3,167.5L498.6,156.5L485.3,160.5Z" fill="url(#g306)"/>
<path d="M501.1,171.6L514.3,167.5L498.6,156.5L485.3,160.5Z" class="e"/>
<path d="M339,141.9L353.3,136.3L338.5,129.9L324.1,135.5Z" fill="url(#g307)"/>
<path d="M339,141.9L353.3,136.3L338.5,129.9L324.1,135.5Z" class="e"/>
<path d="M309.6,141.5L324.1,135.5L309.4,129.9L294.9,135.9Z" fill="url(#g308)"/>
<path d="M309.6,141.5L324.1,135.5L309.4,129.9L294.9,135.9Z" class="e"/>
<path d="M191.9,151.1L207.2,143.6L193.3,140.9L178,148.4Z" fill="url(#g309)"/>
<path d="M191.9,151.1L207.2,143.6L193.3,140.9L178,148.4Z" class="e"/>
<path d="M280.1,142.3L294.9,135.9L280.3,131L265.6,137.3Z" fill="url(#g310)"/>
<path d="M280.1,142.3L294.9,135.9L280.3,131L265.6,137.3Z" class="e"/>
<path d="M221.3,147.1L236.4,139.9L222.3,136.5L207.2,143.6Z" fill="url(#g311)"/>
<path d="M221.3,147.1L236.4,139.9L222.3,136.5L207.2,143.6Z" class="e"/>
<path d="M250.7,144.1L265.6,137.3L251.3,133.2L236.4,139.9Z" fill="url(#g312)"/>
<path d="M250.7,144.1L265.6,137.3L251.3,133.2L236.4,139.9Z" class="e"/>
<path d="M471.9,164.9L485.3,160.5L469.7,150.3L456.2,154.6Z" fill="url(#g313)"/>
<path d="M471.9,164.9L485.3,160.5L469.7,150.3L456.2,154.6Z" class="e"/>
<path d="M442.5,159.3L456.2,154.6L440.7,145.2L427,149.8Z" fill="url(#g314)"/>
<path d="M442.5,159.3L456.2,154.6L440.7,145.2L427,149.8Z" class="e"/>
<path d="M546.2,192L559.1,188.1L543.1,175.6L530.2,179.3Z" fill="url(#g315)"/>
<path d="M546.2,192L559.1,188.1L543.1,175.6L530.2,179.3Z" class="e"/>
<path d="M413.1,154.8L427,149.8L411.7,141.1L397.7,146Z" fill="url(#g316)"/>
<path d="M413.1,154.8L427,149.8L411.7,141.1L397.7,146Z" class="e"/>
<path d="M517,183.5L530.2,179.3L514.3,167.5L501.1,171.6Z" fill="url(#g317)"/>
<path d="M517,183.5L530.2,179.3L514.3,167.5L501.1,171.6Z" class="e"/>
<path d="M383.6,151.5L397.7,146L382.5,138.1L368.4,143.4Z" fill="url(#g318)"/>
<path d="M383.6,151.5L397.7,146L382.5,138.1L368.4,143.4Z" class="e"/>
<path d="M354.1,149.2L368.4,143.4L353.3,136.3L339,141.9Z" fill="url(#g319)"/>
<path d="M354.1,149.2L368.4,143.4L353.3,136.3L339,141.9Z" class="e"/>
<path d="M487.7,176.1L501.1,171.6L485.3,160.5L471.9,164.9Z" fill="url(#g320)"/>
<path d="M487.7,176.1L501.1,171.6L485.3,160.5L471.9,164.9Z" class="e"/>
<path d="M324.5,148.1L339,141.9L324.1,135.5L309.6,141.5Z" fill="url(#g321)"/>
<path d="M324.5,148.1L339,141.9L324.1,135.5L309.6,141.5Z" class="e"/>
<path d="M294.8,148L309.6,141.5L294.9,135.9L280.1,142.3Z" fill="url(#g322)"/>
<path d="M294.8,148L309.6,141.5L294.9,135.9L280.1,142.3Z" class="e"/>
<path d="M206,154.7L221.3,147.1L207.2,143.6L191.9,151.1Z" fill="url(#g323)"/>
<path d="M206,154.7L221.3,147.1L207.2,143.6L191.9,151.1Z" class="e"/>
<path d="M265.2,149.1L280.1,142.3L265.6,137.3L250.7,144.1Z" fill="url(#g324)"/>
<path d="M265.2,149.1L280.1,142.3L265.6,137.3L250.7,144.1Z" class="e"/>
<path d="M235.6,151.4L250.7,144.1L236.4,139.9L221.3,147.1Z" fill="url(#g325)"/>
<path d="M235.6,151.4L250.7,144.1L236.4,139.9L221.3,147.1Z" class="e"/>
<path d="M458.2,169.7L471.9,164.9L456.2,154.6L442.5,159.3Z" fill="url(#g326)"/>
<path d="M458.2,169.7L471.9,164.9L456.2,154.6L442.5,159.3Z" class="e"/>
<path d="M428.7,164.5L442.5,159.3L427,149.8L413.1,154.8Z" fill="url(#g327)"/>
<path d="M428.7,164.5L442.5,159.3L427,149.8L413.1,154.8Z" class="e"/>
<path d="M533,196.3L546.2,192L530.2,179.3L517,183.5Z" fill="url(#g328)"/>
<path d="M533,196.3L546.2,192L530.2,179.3L517,183.5Z" class="e"/>
<path d="M399,160.3L413.1,154.8L397.7,146L383.6,151.5Z" fill="url(#g329)"/>
<path d="M399,160.3L413.1,154.8L397.7,146L383.6,151.5Z" class="e"/>
<path d="M503.6,188.1L517,183.5L501.1,171.6L487.7,176.1Z" fill="url(#g330)"/>
<path d="M503.6,188.1L517,183.5L501.1,171.6L487.7,176.1Z" class="e"/>
<path d="M369.3,157.3L383.6,151.5L368.4,143.4L354.1,149.2Z" fill="url(#g331)"/>
<path d="M369.3,157.3L383.6,151.5L368.4,143.4L354.1,149.2Z" class="e"/>
<path d="M339.5,155.4L354.1,149.2L339,141.9L324.5,148.1Z" fill="url(#g332)"/>
<path d="M339.5,155.4L354.1,149.2L339,141.9L324.5,148.1Z" class="e"/>
<path d="M309.7,154.6L324.5,148.1L309.6,141.5L294.8,148Z" fill="url(#g333)"/>
<path d="M309.7,154.6L324.5,148.1L309.6,141.5L294.8,148Z" class="e"/>
<path d="M474,181L487.7,176.1L471.9,164.9L458.2,169.7Z" fill="url(#g334)"/>
<path d="M474,181L487.7,176.1L471.9,164.9L458.2,169.7Z" class="e"/>
<path d="M279.9,155L294.8,148L280.1,142.3L265.2,149.1Z" fill="url(#g335)"/>
<path d="M279.9,155L294.8,148L280.1,142.3L265.2,149.1Z" class="e"/>
<path d="M220.3,159.1L235.6,151.4L221.3,147.1L206,154.7Z" fill="url(#g336)"/>
<path d="M220.3,159.1L235.6,151.4L221.3,147.1L206,154.7Z" class="e"/>
<path d="M250.1,156.5L265.2,149.1L250.7,144.1L235.6,151.4Z" fill="url(#g337)"/>
<path d="M250.1,156.5L265.2,149.1L250.7,144.1L235.6,151.4Z" class="e"/>
<path d="M444.4,175L458.2,169.7L442.5,159.3L428.7,164.5Z" fill="url(#g338)"/>
<path d="M444.4,175L458.2,169.7L442.5,159.3L428.7,164.5Z" class="e"/>
<path d="M414.6,170.1L428.7,164.5L413.1,154.8L399,160.3Z" fill="url(#g339)"/>
<path d="M414.6,170.1L428.7,164.5L413.1,154.8L399,160.3Z" class="e"/>
<path d="M519.7,201.1L533,196.3L517,183.5L503.6,188.1Z" fill="url(#g340)"/>
<path d="M519.7,201.1L533,196.3L517,183.5L503.6,188.1Z" class="e"/>
<path d="M384.7,166.3L399,160.3L383.6,151.5L369.3,157.3Z" fill="url(#g341)"/>
<path d="M384.7,166.3L399,160.3L383.6,151.5L369.3,157.3Z" class="e"/>
<path d="M354.8,163.6L369.3,157.3L354.1,149.2L339.5,155.4Z" fill="url(#g342)"/>
<path d="M354.8,163.6L369.3,157.3L354.1,149.2L339.5,155.4Z" class="e"/>
<path d="M490,193.2L503.6,188.1L487.7,176.1L474,181Z" fill="url(#g343)"/>
<path d="M490,193.2L503.6,188.1L487.7,176.1L474,181Z" class="e"/>
<path d="M324.8,162.1L339.5,155.4L324.5,148.1L309.7,154.6Z" fill="url(#g344)"/>
<path d="M324.8,162.1L339.5,155.4L324.5,148.1L309.7,154.6Z" class="e"/>
<path d="M294.8,161.7L309.7,154.6L294.8,148L279.9,155Z" fill="url(#g345)"/>
<path d="M294.8,161.7L309.7,154.6L294.8,148L279.9,155Z" class="e"/>
<path d="M264.8,162.4L279.9,155L265.2,149.1L250.1,156.5Z" fill="url(#g346)"/>
<path d="M264.8,162.4L279.9,155L265.2,149.1L250.1,156.5Z" class="e"/>
<path d="M234.8,164.3L250.1,156.5L235.6,151.4L220.3,159.1Z" fill="url(#g347)"/>
<path d="M234.8,164.3L250.1,156.5L235.6,151.4L220.3,159.1Z" class="e"/>
<path d="M460.2,186.4L474,181L458.2,169.7L444.4,175Z" fill="url(#g348)"/>
<path d="M460.2,186.4L474,181L458.2,169.7L444.4,175Z" class="e"/>
<path d="M430.3,180.7L444.4,175L428.7,164.5L414.6,170.1Z" fill="url(#g349)"/>
<path d="M430.3,180.7L444.4,175L428.7,164.5L414.6,170.1Z" class="e"/>
<path d="M400.3,176.2L414.6,170.1L399,160.3L384.7,166.3Z" fill="url(#g350)"/>
<path d="M400.3,176.2L414.6,170.1L399,160.3L384.7,166.3Z" class="e"/>
<path d="M506.2,206.3L519.7,201.1L503.6,188.1L490,193.2Z" fill="url(#g351)"/>
<path d="M506.2,206.3L519.7,201.1L503.6,188.1L490,193.2Z" class="e"/>
<path d="M370.2,172.7L384.7,166.3L369.3,157.3L354.8,163.6Z" fill="url(#g352)"/>
<path d="M370.2,172.7L384.7,166.3L369.3,157.3L354.8,163.6Z" class="e"/>
<path d="M340.1,170.4L354.8,163.6L339.5,155.4L324.8,162.1Z" fill="url(#g353)"/>
<path d="M340.1,170.4L354.8,163.6L339.5,155.4L324.8,162.1Z" class="e"/>
<path d="M476.3,198.7L490,193.2L474,181L460.2,186.4Z" fill="url(#g354)"/>
<path d="M476.3,198.7L490,193.2L474,181L460.2,186.4Z" class="e"/>
<path d="M309.9,169.3L324.8,162.1L309.7,154.6L294.8,161.7Z" fill="url(#g355)"/>
<path d="M309.9,169.3L324.8,162.1L309.7,154.6L294.8,161.7Z" class="e"/>
<path d="M279.7,169.2L294.8,161.7L279.9,155L264.8,162.4Z" fill="url(#g356)"/>
<path d="M279.7,169.2L294.8,161.7L279.9,155L264.8,162.4Z" class="e"/>
<path d="M249.5,170.4L264.8,162.4L250.1,156.5L234.8,164.3Z" fill="url(#g357)"/>
<path d="M249.5,170.4L264.8,162.4L250.1,156.5L234.8,164.3Z" class="e"/>
<path d="M446.2,192.3L460.2,186.4L444.4,175L430.3,180.7Z" fill="url(#g358)"/>
<path d="M446.2,192.3L460.2,186.4L444.4,175L430.3,180.7Z" class="e"/>
<path d="M416.1,186.9L430.3,180.7L414.6,170.1L400.3,176.2Z" fill="url(#g359)"/>
<path d="M416.1,186.9L430.3,180.7L414.6,170.1L400.3,176.2Z" class="e"/>
<path d="M385.9,182.7L400.3,176.2L384.7,166.3L370.2,172.7Z" fill="url(#g360)"/>
<path d="M385.9,182.7L400.3,176.2L384.7,166.3L370.2,172.7Z" class="e"/>
<path d="M492.4,211.9L506.2,206.3L490,193.2L476.3,198.7Z" fill="url(#g361)"/>
<path d="M492.4,211.9L506.2,206.3L490,193.2L476.3,198.7Z" class="e"/>
<path d="M355.6,179.7L370.2,172.7L354.8,163.6L340.1,170.4Z" fill="url(#g362)"/>
<path d="M355.6,179.7L370.2,172.7L354.8,163.6L340.1,170.4Z" class="e"/>
<path d="M325.2,177.7L340.1,170.4L324.8,162.1L309.9,169.3Z" fill="url(#g363)"/>
<path d="M325.2,177.7L340.1,170.4L324.8,162.1L309.9,169.3Z" class="e"/>
<path d="M294.8,176.9L309.9,169.3L294.8,161.7L279.7,169.2Z" fill="url(#g364)"/>
<path d="M294.8,176.9L309.9,169.3L294.8,161.7L279.7,169.2Z" class="e"/>
<path d="M462.3,204.7L476.3,198.7L460.2,186.4L446.2,192.3Z" fill="url(#g365)"/>
<path d="M462.3,204.7L476.3,198.7L460.2,186.4L446.2,192.3Z" class="e"/>
<path d="M264.4,177.3L279.7,169.2L264.8,162.4L249.5,170.4Z" fill="url(#g366)"/>
<path d="M264.4,177.3L279.7,169.2L264.8,162.4L249.5,170.4Z" class="e"/>
<path d="M432,198.6L446.2,192.3L430.3,180.7L416.1,186.9Z" fill="url(#g367)"/>
<path d="M432,198.6L446.2,192.3L430.3,180.7L416.1,186.9Z" class="e"/>
<path d="M401.7,193.6L416.1,186.9L400.3,176.2L385.9,182.7Z" fill="url(#g368)"/>
<path d="M401.7,193.6L416.1,186.9L400.3,176.2L385.9,182.7Z" class="e"/>
<path d="M371.2,189.8L385.9,182.7L370.2,172.7L355.6,179.7Z" fill="url(#g369)"/>
<path d="M371.2,189.8L385.9,182.7L370.2,172.7L355.6,179.7Z" class="e"/>
<path d="M340.7,187.1L355.6,179.7L340.1,170.4L325.2,177.7Z" fill="url(#g370)"/>
<path d="M340.7,187.1L355.6,179.7L340.1,170.4L325.2,177.7Z" class="e"/>
<path d="M478.5,218L492.4,211.9L476.3,198.7L462.3,204.7Z" fill="url(#g371)"/>
<path d="M478.5,218L492.4,211.9L476.3,198.7L462.3,204.7Z" class="e"/>
<path d="M310.1,185.5L325.2,177.7L309.9,169.3L294.8,176.9Z" fill="url(#g372)"/>
<path d="M310.1,185.5L325.2,177.7L309.9,169.3L294.8,176.9Z" class="e"/>
<path d="M279.5,185.1L294.8,176.9L279.7,169.2L264.4,177.3Z" fill="url(#g373)"/>
<path d="M279.5,185.1L294.8,176.9L279.7,169.2L264.4,177.3Z" class="e"/>
<path d="M448.1,211.2L462.3,204.7L446.2,192.3L432,198.6Z" fill="url(#g374)"/>
<path d="M448.1,211.2L462.3,204.7L446.2,192.3L432,198.6Z" class="e"/>
<path d="M417.6,205.4L432,198.6L416.1,186.9L401.7,193.6Z" fill="url(#g375)"/>
<path d="M417.6,205.4L432,198.6L416.1,186.9L401.7,193.6Z" class="e"/>
<path d="M387,200.8L401.7,193.6L385.9,182.7L371.2,189.8Z" fill="url(#g376)"/>
<path d="M387,200.8L401.7,193.6L385.9,182.7L371.2,189.8Z" class="e"/>
<path d="M356.4,197.3L371.2,189.8L355.6,179.7L340.7,187.1Z" fill="url(#g377)"/>
<path d="M356.4,197.3L371.2,189.8L355.6,179.7L340.7,187.1Z" class="e"/>
<path d="M325.6,194.9L340.7,187.1L325.2,177.7L310.1,185.5Z" fill="url(#g378)"/>
<path d="M325.6,194.9L340.7,187.1L325.2,177.7L310.1,185.5Z" class="e"/>
<path d="M464.4,224.6L478.5,218L462.3,204.7L448.1,211.2Z" fill="url(#g379)"/>
<path d="M464.4,224.6L478.5,218L462.3,204.7L448.1,211.2Z" class="e"/>
<path d="M294.9,193.8L310.1,185.5L294.8,176.9L279.5,185.1Z" fill="url(#g380)"/>
<path d="M294.9,193.8L310.1,185.5L294.8,176.9L279.5,185.1Z" class="e"/>
<path d="M433.8,218.1L448.1,211.2L432,198.6L417.6,205.4Z" fill="url(#g381)"/>
<path d="M433.8,218.1L448.1,211.2L432,198.6L417.6,205.4Z" class="e"/>
<path d="M403,212.7L417.6,205.4L401.7,193.6L387,200.8Z" fill="url(#g382)"/>
<path d="M403,212.7L417.6,205.4L401.7,193.6L387,200.8Z" class="e"/>
<path d="M372.2,208.4L387,200.8L371.2,189.8L356.4,197.3Z" fill="url(#g383)"/>
<path d="M372.2,208.4L387,200.8L371.2,189.8L356.4,197.3Z" class="e"/>
<path d="M341.3,205.3L356.4,197.3L340.7,187.1L325.6,194.9Z" fill="url(#g384)"/>
<path d="M341.3,205.3L356.4,197.3L340.7,187.1L325.6,194.9Z" class="e"/>
<path d="M310.4,203.3L325.6,194.9L310.1,185.5L294.9,193.8Z" fill="url(#g385)"/>
<path d="M310.4,203.3L325.6,194.9L310.1,185.5L294.9,193.8Z" class="e"/>
<path d="M450.1,231.7L464.4,224.6L448.1,211.2L433.8,218.1Z" fill="url(#g386)"/>
<path d="M450.1,231.7L464.4,224.6L448.1,211.2L433.8,218.1Z" class="e"/>
<path d="M419.2,225.5L433.8,218.1L417.6,205.4L403,212.7Z" fill="url(#g387)"/>
<path d="M419.2,225.5L433.8,218.1L417.6,205.4L403,212.7Z" class="e"/>
<path d="M388.2,220.5L403,212.7L387,200.8L372.2,208.4Z" fill="url(#g388)"/>
<path d="M388.2,220.5L403,212.7L387,200.8L372.2,208.4Z" class="e"/>
<path d="M357.2,216.6L372.2,208.4L356.4,197.3L341.3,205.3Z" fill="url(#g389)"/>
<path d="M357.2,216.6L372.2,208.4L356.4,197.3L341.3,205.3Z" class="e"/>
<path d="M326.1,213.8L341.3,205.3L325.6,194.9L310.4,203.3Z" fill="url(#g390)"/>
<path d="M326.1,213.8L341.3,205.3L325.6,194.9L310.4,203.3Z" class="e"/>
<path d="M435.5,239.3L450.1,231.7L433.8,218.1L419.2,225.5Z" fill="url(#g391)"/>
<path d="M435.5,239.3L450.1,231.7L433.8,218.1L419.2,225.5Z" class="e"/>
<path d="M404.4,233.5L419.2,225.5L403,212.7L388.2,220.5Z" fill="url(#g392)"/>
<path d="M404.4,233.5L419.2,225.5L403,212.7L388.2,220.5Z" class="e"/>
<path d="M373.2,228.8L388.2,220.5L372.2,208.4L357.2,216.6Z" fill="url(#g393)"/>
<path d="M373.2,228.8L388.2,220.5L372.2,208.4L357.2,216.6Z" class="e"/>
<path d="M342,225.2L357.2,216.6L341.3,205.3L326.1,213.8Z" fill="url(#g394)"/>
<path d="M342,225.2L357.2,216.6L341.3,205.3L326.1,213.8Z" class="e"/>
<path d="M420.8,247.4L435.5,239.3L419.2,225.5L404.4,233.5Z" fill="url(#g395)"/>
<path d="M420.8,247.4L435.5,239.3L419.2,225.5L404.4,233.5Z" class="e"/>
<path d="M389.5,241.9L404.4,233.5L388.2,220.5L373.2,228.8Z" fill="url(#g396)"/>
<path d="M389.5,241.9L404.4,233.5L388.2,220.5L373.2,228.8Z" class="e"/>
<path d="M358,237.6L373.2,228.8L357.2,216.6L342,225.2Z" fill="url(#g397)"/>
<path d="M358,237.6L373.2,228.8L357.2,216.6L342,225.2Z" class="e"/>
<path d="M405.9,256L420.8,247.4L404.4,233.5L389.5,241.9Z" fill="url(#g398)"/>
<path d="M405.9,256L420.8,247.4L404.4,233.5L389.5,241.9Z" class="e"/>
<path d="M374.3,250.9L389.5,241.9L373.2,228.8L358,237.6Z" fill="url(#g399)"/>
<path d="M374.3,250.9L389.5,241.9L373.2,228.8L358,237.6Z" class="e"/>
<path d="M390.7,265.1L405.9,256L389.5,241.9L374.3,250.9Z" fill="url(#g400)"/>
<path d="M390.7,265.1L405.9,256L389.5,241.9L374.3,250.9Z" class="e"/>
<g font-family="Liberation Sans, sans-serif" font-size="18" fill="#2b2b2b"><text x="98.4" y="319.5" text-anchor="end">70</text><text x="95.7" y="267.2" text-anchor="end">75</text><text x="93" y="214.9" text-anchor="end">80</text><text x="90.3" y="162.5" text-anchor="end">85</text><text x="87.5" y="110.2" text-anchor="end">90</text><text x="84.8" y="57.9" text-anchor="end">95</text><text x="102.2" y="426.6" text-anchor="end">15</text><text x="157.7" y="449.8" text-anchor="end">13</text><text x="213.3" y="473" text-anchor="end">11</text><text x="268.8" y="496.2" text-anchor="end">9</text><text x="324.4" y="519.4" text-anchor="end">7</text><text x="379.9" y="542.6" text-anchor="end">5</text><text x="401.2" y="541.6" text-anchor="start">60</text><text x="443.5" y="521.1" text-anchor="start">70</text><text x="485.9" y="500.6" text-anchor="start">80</text><text x="528.2" y="480.1" text-anchor="start">90</text><text x="570.5" y="459.7" text-anchor="start">100</text><text x="612.9" y="439.2" text-anchor="start">110</text><text x="655.2" y="418.7" text-anchor="start">120</text><text x="99.4" y="518.5" text-anchor="start" textLength="106.4">C: dose (g/L)</text><text x="568.2" y="511" text-anchor="start" textLength="107.9">B: Time (min)</text><text transform="translate(14.3,358) rotate(-90)" textLength="237" lengthAdjust="spacingAndGlyphs">COD REMOVAL EFICANCY (%)</text></g></svg></body></html>
